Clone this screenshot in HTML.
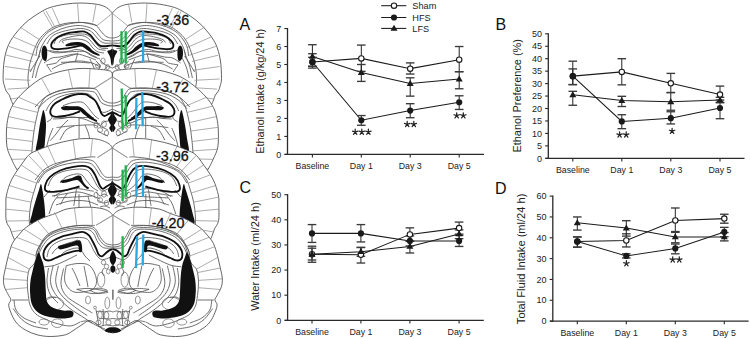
<!DOCTYPE html>
<html><head><meta charset="utf-8"><style>
html,body{margin:0;padding:0;background:#fff;overflow:hidden;width:750px;height:339px;}
svg{display:block;font-family:"Liberation Sans", sans-serif;}
</style></head><body>
<svg width="750" height="339" viewBox="0 0 750 339">
<rect width="750" height="339" fill="#fff"/>
<path d="M112.3,13.3 L112.2,13.2 L112.1,13.1 L112.0,13.0 L111.9,12.8 L111.8,12.7 L111.7,12.5 L111.5,12.3 L111.4,12.1 L111.2,11.9 L111.1,11.7 L110.9,11.5 L110.8,11.3 L110.6,11.1 L110.4,10.9 L110.2,10.7 L110.0,10.5 L109.8,10.3 L109.6,10.1 L109.4,9.9 L109.2,9.7 L109.0,9.5 L108.8,9.3 L108.5,9.2 L108.3,9.0 L108.1,8.8 L107.9,8.6 L107.6,8.4 L107.4,8.2 L107.1,8.0 L106.9,7.9 L106.6,7.7 L106.3,7.5 L106.0,7.3 L105.7,7.2 L105.4,7.0 L105.1,6.8 L104.8,6.7 L104.5,6.5 L104.1,6.3 L103.8,6.2 L103.4,6.1 L103.1,5.9 L102.7,5.8 L102.4,5.7 L102.0,5.5 L101.6,5.4 L101.2,5.3 L100.8,5.2 L100.4,5.1 L100.0,4.9 L99.6,4.8 L99.1,4.7 L98.7,4.6 L98.2,4.5 L97.7,4.4 L97.2,4.3 L96.7,4.3 L96.1,4.2 L95.6,4.1 L95.0,4.0 L94.4,3.9 L93.8,3.8 L93.1,3.8 L92.4,3.7 L91.7,3.6 L91.0,3.5 L90.2,3.5 L89.4,3.4 L88.7,3.3 L87.9,3.3 L87.1,3.2 L86.3,3.2 L85.5,3.1 L84.7,3.1 L83.9,3.1 L83.1,3.0 L82.3,3.0 L81.5,3.0 L80.8,3.0 L80.0,3.0 L79.2,3.0 L78.5,3.0 L77.8,3.0 L77.0,3.1 L76.2,3.1 L75.5,3.1 L74.8,3.2 L74.0,3.2 L73.2,3.3 L72.5,3.3 L71.8,3.4 L71.0,3.5 L70.2,3.5 L69.5,3.6 L68.8,3.7 L68.0,3.8 L67.2,3.9 L66.5,4.0 L65.8,4.1 L65.0,4.2 L64.2,4.3 L63.5,4.4 L62.7,4.6 L61.9,4.7 L61.1,4.8 L60.3,5.0 L59.6,5.1 L58.8,5.3 L58.0,5.4 L57.2,5.6 L56.4,5.8 L55.6,6.0 L54.9,6.1 L54.1,6.3 L53.4,6.5 L52.7,6.7 L52.0,6.9 L51.3,7.1 L50.6,7.3 L50.0,7.5 L49.4,7.7 L48.8,7.9 L48.2,8.1 L47.7,8.3 L47.2,8.6 L46.7,8.8 L46.2,9.0 L45.7,9.2 L45.3,9.5 L44.8,9.7 L44.3,10.0 L43.9,10.2 L43.4,10.5 L43.0,10.7 L42.5,11.0 L42.0,11.3 L41.5,11.6 L41.0,11.9 L40.5,12.2 L40.0,12.5 L39.5,12.8 L38.9,13.2 L38.3,13.5 L37.8,13.9 L37.2,14.2 L36.6,14.6 L36.0,14.9 L35.4,15.3 L34.8,15.7 L34.2,16.1 L33.6,16.5 L33.0,16.9 L32.4,17.3 L31.8,17.7 L31.2,18.2 L30.6,18.6 L30.0,19.0 L29.4,19.5 L28.9,19.9 L28.3,20.4 L27.7,20.9 L27.2,21.3 L26.6,21.8 L26.1,22.3 L25.5,22.8 L25.0,23.3 L24.4,23.8 L23.9,24.3 L23.4,24.8 L22.8,25.4 L22.3,25.9 L21.8,26.4 L21.2,27.0 L20.7,27.5 L20.2,28.1 L19.7,28.7 L19.2,29.2 L18.7,29.8 L18.2,30.4 L17.7,31.0 L17.2,31.6 L16.7,32.2 L16.2,32.8 L15.7,33.4 L15.3,34.1 L14.8,34.7 L14.3,35.3 L13.8,36.0 L13.3,36.6 L12.9,37.3 L12.4,37.9 L12.0,38.6 L11.5,39.3 L11.1,40.0 L10.7,40.7 L10.3,41.4 L9.9,42.1 L9.5,42.8 L9.1,43.5 L8.8,44.2 L8.5,44.9 L8.2,45.7 L7.9,46.4 L7.6,47.1 L7.3,47.9 L7.0,48.7 L6.8,49.4 L6.5,50.2 L6.3,51.0 L6.1,51.8 L5.9,52.6 L5.7,53.4 L5.5,54.2 L5.3,55.0 L5.1,55.8 L4.9,56.6 L4.8,57.5 L4.6,58.3 L4.4,59.1 L4.3,60.0 L4.2,60.9 L4.0,61.8 L3.9,62.7 L3.8,63.7 L3.7,64.7 L3.6,65.7 L3.5,66.7 L3.5,67.8 L3.4,68.8 L3.3,69.8 L3.3,70.8 L3.2,71.8 L3.2,72.8 L3.2,73.8 L3.1,74.7 L3.1,75.6 L3.1,76.4 L3.1,77.2 L3.1,77.9 L3.1,78.6 L3.1,79.2 L3.1,79.8 L3.2,80.3 L3.2,80.8 L3.3,81.3 L3.3,81.7 L3.4,82.1 L3.5,82.5 L3.5,82.8 L3.6,83.1 L3.7,83.5 L3.8,83.8 L3.9,84.0 L4.0,84.3 L4.1,84.6 L4.2,84.9 L4.2,85.1 L4.3,85.4 L4.4,85.7 L4.5,86.0 L4.6,86.3 L4.7,86.6 L4.7,86.9 L4.8,87.2 L4.9,87.4 L4.9,87.7 L5.0,88.0 L5.1,88.2 L5.2,88.5 L5.2,88.7 L5.3,88.9 L5.4,89.2 L5.5,89.4 L5.6,89.6 L5.7,89.9 L5.8,90.1 L5.9,90.3 L6.0,90.5 L6.1,90.8 L6.2,91.0 L6.3,91.2 L6.5,91.4 L6.6,91.7 L6.8,91.9 L6.9,92.1 L7.1,92.3 L7.2,92.5 L7.4,92.7 L7.6,92.9 L7.8,93.1 L7.9,93.3 L8.1,93.4 L8.3,93.6 L8.4,93.8 L8.6,94.0 L8.7,94.2 L8.9,94.5 L9.0,94.7 L9.2,94.9 L9.3,95.1 L9.4,95.3 L9.5,95.6 L9.6,95.8 L9.7,96.0 L9.8,96.2 L9.9,96.5 L9.9,96.7 L10.0,96.9 L10.1,97.2 L10.2,97.4 L10.2,97.7 L10.3,97.9 L10.4,98.2 L10.4,98.4 L10.5,98.7 L10.6,98.9 L10.7,99.2 L10.8,99.5 L10.9,99.7 L11.0,100.0 L11.1,100.3 L11.2,100.5 L11.4,100.8 L11.5,101.1 L11.6,101.4 L11.7,101.6 L11.8,101.9 L12.0,102.2 L12.1,102.5 L12.2,102.7 L12.4,103.0 L12.5,103.3 L12.7,103.6 L12.8,103.9 L13.0,104.3 L13.2,104.6 L13.4,104.9 L13.6,105.3 L13.8,105.6 L14.0,106.0 L14.2,106.4 L14.5,106.8 L14.8,107.3 L15.1,107.8 L15.4,108.2 L15.8,108.8 L16.1,109.3 L16.5,109.8 L16.8,110.3 L17.2,110.9 L17.5,111.4 L17.9,111.9 L18.2,112.4 L18.5,112.9 L18.9,113.3 L19.1,113.7 L19.4,114.1 L19.6,114.5 L19.8,114.7 L20.0,115.0 L20.0,125.0 L204.6,125.0 L204.6,115.0 L204.8,114.7 L205.0,114.5 L205.2,114.1 L205.5,113.7 L205.7,113.3 L206.1,112.9 L206.4,112.4 L206.7,111.9 L207.1,111.4 L207.4,110.9 L207.8,110.3 L208.1,109.8 L208.5,109.3 L208.8,108.8 L209.2,108.2 L209.5,107.8 L209.8,107.3 L210.1,106.8 L210.4,106.4 L210.6,106.0 L210.8,105.6 L211.0,105.3 L211.2,104.9 L211.4,104.6 L211.6,104.3 L211.8,103.9 L211.9,103.6 L212.1,103.3 L212.2,103.0 L212.4,102.7 L212.5,102.5 L212.6,102.2 L212.8,101.9 L212.9,101.6 L213.0,101.4 L213.1,101.1 L213.2,100.8 L213.4,100.5 L213.5,100.3 L213.6,100.0 L213.7,99.7 L213.8,99.5 L213.9,99.2 L214.0,98.9 L214.1,98.7 L214.2,98.4 L214.2,98.2 L214.3,97.9 L214.4,97.7 L214.4,97.4 L214.5,97.2 L214.6,96.9 L214.7,96.7 L214.7,96.5 L214.8,96.2 L214.9,96.0 L215.0,95.8 L215.1,95.6 L215.2,95.3 L215.3,95.1 L215.4,94.9 L215.6,94.7 L215.7,94.5 L215.9,94.2 L216.0,94.0 L216.2,93.8 L216.3,93.6 L216.5,93.4 L216.7,93.3 L216.8,93.1 L217.0,92.9 L217.2,92.7 L217.4,92.5 L217.5,92.3 L217.7,92.1 L217.8,91.9 L218.0,91.7 L218.1,91.4 L218.3,91.2 L218.4,91.0 L218.5,90.8 L218.6,90.5 L218.7,90.3 L218.8,90.1 L218.9,89.9 L219.0,89.6 L219.1,89.4 L219.2,89.2 L219.3,88.9 L219.4,88.7 L219.4,88.5 L219.5,88.2 L219.6,88.0 L219.7,87.7 L219.7,87.4 L219.8,87.2 L219.9,86.9 L219.9,86.6 L220.0,86.3 L220.1,86.0 L220.2,85.7 L220.3,85.4 L220.4,85.1 L220.4,84.9 L220.5,84.6 L220.6,84.3 L220.7,84.0 L220.8,83.8 L220.9,83.5 L221.0,83.1 L221.1,82.8 L221.1,82.5 L221.2,82.1 L221.3,81.7 L221.3,81.3 L221.4,80.8 L221.4,80.3 L221.5,79.8 L221.5,79.2 L221.5,78.6 L221.5,77.9 L221.5,77.2 L221.5,76.4 L221.5,75.6 L221.5,74.7 L221.4,73.8 L221.4,72.8 L221.4,71.8 L221.3,70.8 L221.3,69.8 L221.2,68.8 L221.1,67.8 L221.1,66.7 L221.0,65.7 L220.9,64.7 L220.8,63.7 L220.7,62.7 L220.6,61.8 L220.4,60.9 L220.3,60.0 L220.2,59.1 L220.0,58.3 L219.8,57.5 L219.7,56.6 L219.5,55.8 L219.3,55.0 L219.1,54.2 L218.9,53.4 L218.7,52.6 L218.5,51.8 L218.3,51.0 L218.1,50.2 L217.8,49.4 L217.6,48.7 L217.3,47.9 L217.0,47.1 L216.7,46.4 L216.4,45.7 L216.1,44.9 L215.8,44.2 L215.5,43.5 L215.1,42.8 L214.7,42.1 L214.3,41.4 L213.9,40.7 L213.5,40.0 L213.1,39.3 L212.6,38.6 L212.2,37.9 L211.7,37.3 L211.3,36.6 L210.8,36.0 L210.3,35.3 L209.8,34.7 L209.3,34.1 L208.9,33.4 L208.4,32.8 L207.9,32.2 L207.4,31.6 L206.9,31.0 L206.4,30.4 L205.9,29.8 L205.4,29.2 L204.9,28.7 L204.4,28.1 L203.9,27.5 L203.4,27.0 L202.8,26.4 L202.3,25.9 L201.8,25.4 L201.2,24.8 L200.7,24.3 L200.2,23.8 L199.6,23.3 L199.1,22.8 L198.5,22.3 L198.0,21.8 L197.4,21.3 L196.9,20.9 L196.3,20.4 L195.7,19.9 L195.2,19.5 L194.6,19.0 L194.0,18.6 L193.4,18.2 L192.8,17.7 L192.2,17.3 L191.6,16.9 L191.0,16.5 L190.4,16.1 L189.8,15.7 L189.2,15.3 L188.6,14.9 L188.0,14.6 L187.4,14.2 L186.8,13.9 L186.3,13.5 L185.7,13.2 L185.1,12.8 L184.6,12.5 L184.1,12.2 L183.6,11.9 L183.1,11.6 L182.6,11.3 L182.1,11.0 L181.6,10.7 L181.2,10.5 L180.7,10.2 L180.3,10.0 L179.8,9.7 L179.3,9.5 L178.9,9.2 L178.4,9.0 L177.9,8.8 L177.4,8.6 L176.9,8.3 L176.4,8.1 L175.8,7.9 L175.2,7.7 L174.6,7.5 L174.0,7.3 L173.3,7.1 L172.6,6.9 L171.9,6.7 L171.2,6.5 L170.5,6.3 L169.7,6.1 L169.0,6.0 L168.2,5.8 L167.4,5.6 L166.6,5.4 L165.8,5.3 L165.0,5.1 L164.3,5.0 L163.5,4.8 L162.7,4.7 L161.9,4.6 L161.1,4.4 L160.4,4.3 L159.6,4.2 L158.8,4.1 L158.1,4.0 L157.3,3.9 L156.6,3.8 L155.8,3.7 L155.1,3.6 L154.3,3.5 L153.6,3.5 L152.8,3.4 L152.1,3.3 L151.3,3.3 L150.6,3.2 L149.8,3.2 L149.1,3.1 L148.3,3.1 L147.6,3.1 L146.8,3.0 L146.1,3.0 L145.3,3.0 L144.6,3.0 L143.8,3.0 L143.1,3.0 L142.3,3.0 L141.5,3.0 L140.7,3.1 L139.9,3.1 L139.1,3.1 L138.3,3.2 L137.5,3.2 L136.7,3.3 L135.9,3.3 L135.2,3.4 L134.4,3.5 L133.6,3.5 L132.9,3.6 L132.2,3.7 L131.5,3.8 L130.8,3.8 L130.2,3.9 L129.6,4.0 L129.0,4.1 L128.5,4.2 L127.9,4.3 L127.4,4.3 L126.9,4.4 L126.4,4.5 L125.9,4.6 L125.5,4.7 L125.0,4.8 L124.6,4.9 L124.2,5.1 L123.8,5.2 L123.4,5.3 L123.0,5.4 L122.6,5.5 L122.2,5.7 L121.9,5.8 L121.5,5.9 L121.2,6.1 L120.8,6.2 L120.5,6.3 L120.1,6.5 L119.8,6.7 L119.5,6.8 L119.2,7.0 L118.9,7.2 L118.6,7.3 L118.3,7.5 L118.0,7.7 L117.7,7.9 L117.5,8.0 L117.2,8.2 L117.0,8.4 L116.7,8.6 L116.5,8.8 L116.3,9.0 L116.1,9.2 L115.8,9.3 L115.6,9.5 L115.4,9.7 L115.2,9.9 L115.0,10.1 L114.8,10.3 L114.6,10.5 L114.4,10.7 L114.2,10.9 L114.0,11.1 L113.8,11.3 L113.7,11.5 L113.5,11.7 L113.4,11.9 L113.2,12.1 L113.1,12.3 L112.9,12.5 L112.8,12.7 L112.7,12.8 L112.6,13.0 L112.5,13.1 L112.4,13.2 L112.3,13.3Z" fill="#fff" stroke="none"/>
<g><path d="M112.3,13.3 C111.8,12.7 110.6,10.9 109.2,9.7 C107.8,8.5 106.2,7.2 103.8,6.2 C101.4,5.2 99.0,4.5 95.0,4.0 C91.0,3.5 85.0,3.0 80.0,3.0 C75.0,3.0 70.0,3.5 65.0,4.2 C60.0,5.0 54.2,6.1 50.0,7.5 C45.8,8.9 43.6,10.3 40.0,12.5 C36.4,14.7 32.0,17.3 28.3,20.4 C24.6,23.5 20.9,27.0 17.7,31.0 C14.4,35.0 11.0,39.4 8.8,44.2 C6.6,49.0 5.2,54.3 4.3,60.0 C3.3,65.7 3.1,74.3 3.1,78.6 C3.1,82.9 4.0,83.9 4.5,86.0 C5.0,88.1 5.4,89.5 6.2,91.0 C7.0,92.5 8.5,93.6 9.3,95.1 C10.1,96.6 10.2,98.2 11.0,100.0 C11.8,101.8 12.5,103.5 14.0,106.0 C15.5,108.5 19.0,113.5 20.0,115.0" fill="none" stroke="#4a4a4a" stroke-width="0.85"/>
<path d="M97.0,25.5 C95.0,25.1 88.2,23.3 85.0,22.8 C81.8,22.3 80.8,22.4 78.0,22.4 C75.2,22.4 71.0,22.6 68.0,23.0 C65.0,23.4 62.8,23.9 60.0,24.8 C57.2,25.7 54.2,26.5 51.3,28.3 C48.4,30.1 45.0,32.8 42.5,35.4 C40.0,38.0 38.2,40.9 36.5,44.2 C34.8,47.5 33.7,51.5 32.5,55.0 C31.3,58.5 30.2,61.2 29.5,65.0 C28.8,68.8 28.1,74.3 28.0,78.0 C27.9,81.7 28.4,84.0 28.9,87.0 C29.4,90.0 30.0,93.2 31.0,96.0 C32.0,98.8 34.3,102.7 35.0,104.0" fill="none" stroke="#4a4a4a" stroke-width="0.8"/>
<path d="M43.4,11.4L53.6,29.1M46.0,10.8L55.5,27.9M52.3,8.2L60.5,26.6M77.6,3.8L78.9,22.8M96.0,4.4L92.8,22.2M112.3,13.3L97.0,25.7M112.3,13.3L112.3,50.0M20.0,27.0L40.0,40.0M13.8,37.1L37.7,47.6M8.8,46.4L35.2,55.2M6.3,55.2L32.7,61.5M5.0,66.5L31.4,70.3M5.0,79.0L30.2,80.3M7.5,89.1L28.9,87.8M11.0,99.0L31.0,96.0" fill="none" stroke="#888" stroke-width="0.7"/>
<ellipse cx="103" cy="61" rx="2.2" ry="3" fill="none" stroke="#666" stroke-width="0.7"/>
<ellipse cx="107.5" cy="67" rx="2" ry="2.5" fill="none" stroke="#666" stroke-width="0.7"/>
<ellipse cx="98" cy="66" rx="2.5" ry="2" fill="none" stroke="#666" stroke-width="0.7"/>
<path d="M36.0,56.0 C36.3,54.3 36.5,49.1 38.0,45.6 C39.5,42.1 42.6,37.8 45.1,35.0 C47.6,32.2 50.1,30.8 53.3,29.1 C56.4,27.4 59.9,26.1 64.0,25.0 C68.1,23.9 73.8,22.9 78.0,22.6 C82.2,22.3 86.2,22.7 89.2,23.2 C92.2,23.7 94.2,24.1 96.2,25.5 C98.2,26.9 99.4,29.6 101.0,31.4 C102.6,33.2 104.1,35.1 105.7,36.2 C107.3,37.3 109.3,37.6 110.4,37.9 C111.5,38.2 112.0,37.9 112.3,37.9" fill="none" stroke="#555" stroke-width="0.85"/>
<path d="M39.0,57.0 C39.3,55.5 39.6,51.3 41.0,48.0 C42.4,44.7 44.9,40.1 47.4,37.3 C49.9,34.5 52.6,33.1 55.7,31.4 C58.9,29.7 62.6,28.3 66.3,27.3 C70.0,26.3 74.6,25.6 78.0,25.5 C81.4,25.4 84.1,26.0 86.8,26.7 C89.5,27.4 91.9,28.3 93.9,29.7 C95.9,31.1 97.0,33.3 98.6,35.0 C100.2,36.7 101.3,38.7 103.3,39.7 C105.3,40.7 108.9,40.7 110.4,40.9 C111.9,41.1 112.0,40.9 112.3,40.9" fill="none" stroke="#555" stroke-width="0.85"/>
<path d="M47.0,44.0 C47.9,42.7 49.8,38.2 52.2,36.2 C54.6,34.2 57.3,33.1 61.6,31.8 C65.9,30.5 73.8,29.0 78.0,28.6 C82.2,28.2 84.5,28.8 87.0,29.5 C89.5,30.2 91.2,31.4 93.0,33.0 C94.8,34.6 96.2,37.3 98.0,39.0 C99.8,40.7 101.6,42.3 104.0,43.0 C106.4,43.7 110.9,43.0 112.3,43.0" fill="none" stroke="#555" stroke-width="0.85"/>
<path d="M59.2,42.6 C59.6,42.1 60.0,40.6 61.6,39.7 C63.2,38.8 66.0,38.0 68.7,37.3 C71.4,36.6 75.4,35.8 78.0,35.6 C80.6,35.4 82.4,35.5 84.4,36.2 C86.4,36.9 88.4,38.5 90.0,40.0 C91.6,41.5 92.6,43.5 94.0,45.0 C95.4,46.5 96.6,48.2 98.6,49.1 C100.5,50.0 104.5,50.1 105.7,50.3" fill="none" stroke="#555" stroke-width="0.85"/>
<path d="M64.0,43.0 C63.7,42.8 61.7,42.0 62.0,41.5 C62.3,41.0 64.0,40.2 66.0,39.8 C68.0,39.4 71.3,39.0 74.0,39.0 C76.7,39.0 79.7,39.0 82.0,39.5 C84.3,40.0 86.3,40.8 88.0,42.0 C89.7,43.2 90.5,45.4 92.0,47.0 C93.5,48.6 95.0,50.5 97.0,51.5 C99.0,52.5 102.8,52.8 104.0,53.0" fill="none" stroke="#555" stroke-width="0.85"/>
<path d="M54.0,44.0 C54.5,43.1 55.0,40.0 57.0,38.5 C59.0,37.0 62.5,35.8 66.0,35.0 C69.5,34.2 74.7,34.1 78.0,34.0 C81.3,33.9 83.7,33.8 86.0,34.5 C88.3,35.2 90.3,37.0 92.0,38.5 C93.7,40.0 94.5,41.9 96.0,43.5 C97.5,45.1 99.0,47.2 101.0,48.0 C103.0,48.8 106.8,48.4 108.0,48.5" fill="none" stroke="#555" stroke-width="0.85"/>
<path d="M49.4,50.5 C50.5,50.7 53.8,51.3 56.0,51.5 C58.2,51.7 60.4,52.0 62.7,51.9 C65.0,51.8 67.8,51.4 70.0,51.0 C72.2,50.6 73.7,49.5 76.0,49.5 C78.3,49.5 81.3,49.9 84.0,51.0 C86.7,52.1 89.3,54.7 92.0,56.0 C94.7,57.3 98.7,58.5 100.0,59.0" fill="none" stroke="#555" stroke-width="0.85"/>
<path d="M44.0,63.0 C45.3,62.2 49.3,59.0 52.0,58.0 C54.7,57.0 56.0,57.7 60.0,57.0 C64.0,56.3 71.3,54.0 76.0,54.0 C80.7,54.0 84.7,56.0 88.0,57.0 C91.3,58.0 94.7,59.5 96.0,60.0" fill="none" stroke="#555" stroke-width="0.85"/>
<path d="M52.0,69.0 C53.7,68.2 57.7,65.3 62.0,64.0 C66.3,62.7 73.0,61.2 78.0,61.0 C83.0,60.8 88.3,62.0 92.0,63.0 C95.7,64.0 98.7,66.3 100.0,67.0" fill="none" stroke="#555" stroke-width="0.85"/>
<path d="M30.0,72.0 C31.0,70.3 34.3,64.7 36.0,62.0 C37.7,59.3 39.3,57.0 40.0,56.0" fill="none" stroke="#555" stroke-width="0.85"/>
<path d="M96.0,61.0 C96.7,61.8 99.7,64.3 100.0,66.0 C100.3,67.7 98.3,70.2 98.0,71.0" fill="none" stroke="#555" stroke-width="0.85"/>
<path d="M32.2,78.0 C32.7,76.0 34.0,69.3 35.0,66.0 C36.0,62.7 37.1,60.7 38.0,58.0 C38.9,55.3 40.2,51.3 40.6,50.0" fill="none" stroke="#555" stroke-width="0.85"/>
<path d="M35.5,78.0 C35.9,76.3 37.1,70.8 38.0,68.0 C38.9,65.2 40.2,62.8 41.0,61.0 C41.8,59.2 42.7,57.7 43.0,57.0" fill="none" stroke="#555" stroke-width="0.85"/>
<path d="M45.4,49.2 C47.0,49.8 50.4,52.4 55.0,52.8 C59.6,53.2 68.0,51.8 73.0,51.6 C78.0,51.4 81.8,51.0 85.0,51.6 C88.2,52.2 90.2,54.2 92.2,55.2 C94.2,56.2 96.2,57.2 97.0,57.6" fill="none" stroke="#555" stroke-width="0.85"/>
<path d="M46.6,64.8 C48.2,64.5 53.8,64.0 56.2,63.0 C58.6,62.0 57.6,60.3 61.0,58.8 C64.4,57.3 74.0,54.8 76.6,54.0" fill="none" stroke="#555" stroke-width="0.85"/>
<path d="M77.8,52.8 C77.4,54.3 75.8,60.3 75.4,61.8" fill="none" stroke="#555" stroke-width="0.85"/>
<path d="M61.0,62.4 C63.3,62.3 70.2,61.9 75.0,62.0 C79.8,62.1 87.3,62.8 89.8,63.0" fill="none" stroke="#555" stroke-width="0.85"/>
<path d="M46.6,64.8 C47.4,66.0 50.6,70.8 51.4,72.0" fill="none" stroke="#555" stroke-width="0.85"/>
<path d="M89.8,58.8 C90.5,60.3 92.8,64.8 94.0,68.0 C95.2,71.2 96.5,76.3 97.0,78.0" fill="none" stroke="#555" stroke-width="0.85"/>
<path d="M100.0,60.0 C100.7,60.7 102.7,63.0 104.0,64.0 C105.3,65.0 107.2,65.7 107.8,66.0" fill="none" stroke="#555" stroke-width="0.85"/>
<path d="M107.8,66.0 C107.2,66.7 105.3,68.3 104.0,70.0 C102.7,71.7 100.7,75.0 100.0,76.0" fill="none" stroke="#555" stroke-width="0.85"/>
<path d="M107.8,66.0 C108.5,66.3 111.5,67.7 112.3,68.0" fill="none" stroke="#555" stroke-width="0.85"/>
<path d="M112.3,45.3 C112.0,45.3 111.5,45.5 110.4,45.6 C109.3,45.8 107.5,46.2 105.7,46.2 C103.9,46.2 101.6,46.5 99.8,45.6 C98.0,44.7 96.6,42.7 95.0,40.9 C93.4,39.1 92.1,36.5 90.3,35.0 C88.5,33.5 86.8,32.1 84.4,31.6 C82.0,31.1 78.9,31.7 76.0,32.0 C73.1,32.3 70.0,32.5 67.1,33.3 C64.1,34.1 60.6,35.5 58.3,36.8 C55.9,38.1 54.2,40.0 53.0,41.3 C51.8,42.6 51.4,43.7 51.2,44.8 C51.1,45.9 51.2,47.2 52.1,47.9 C53.0,48.6 54.0,49.1 56.5,49.2 C59.0,49.3 63.8,48.8 67.1,48.4 C70.3,48.0 73.5,47.1 76.0,46.6 C78.5,46.1 81.0,45.5 82.0,45.3" fill="none" stroke="#111" stroke-width="1.85"/>
<path d="M66.0,44.5 C66.8,43.9 69.2,42.9 71.0,42.5 C72.8,42.1 75.0,41.9 77.0,42.0 C79.0,42.1 81.2,42.3 83.0,43.0 C84.8,43.7 86.3,44.7 88.0,46.0 C89.7,47.3 91.2,49.4 93.0,50.8 C94.8,52.2 98.0,53.5 99.0,54.3 C100.0,55.1 100.1,55.9 99.0,55.8 C97.9,55.6 94.5,54.4 92.5,53.4 C90.5,52.4 88.8,51.1 87.0,50.0 C85.2,48.9 83.8,47.3 82.0,46.6 C80.2,45.9 78.0,45.7 76.0,45.6 C74.0,45.5 71.7,45.9 70.0,46.0 C68.3,46.1 66.7,46.5 66.0,46.2 C65.3,46.0 65.2,45.1 66.0,44.5Z" fill="#111" stroke="none"/>
<path d="M44.5,45.5 C45.2,45.6 46.1,46.8 46.6,48.0 C47.1,49.2 47.2,51.2 47.2,53.0 C47.2,54.8 47.1,57.2 46.8,58.5 C46.5,59.8 46.0,60.8 45.5,61.0 C45.0,61.2 44.1,60.7 43.5,60.0 C42.9,59.3 42.3,58.3 42.0,57.0 C41.7,55.7 41.5,53.6 41.6,52.0 C41.7,50.4 42.0,48.6 42.5,47.5 C43.0,46.4 43.8,45.4 44.5,45.5Z" fill="#111" stroke="none"/>
<path d="M107.3,51.2 C107.4,50.3 109.2,50.4 110.0,50.2 C110.8,50.0 111.9,47.6 112.3,50.0 C112.7,52.4 112.5,62.2 112.3,64.5 C112.1,66.8 111.5,64.9 111.2,64.0 C110.9,63.1 110.9,60.4 110.6,59.0 C110.3,57.6 110.0,56.8 109.5,55.5 C109.0,54.2 107.2,52.1 107.3,51.2Z" fill="#111" stroke="none"/></g>
<g transform="translate(224.60,0) scale(-1,1)"><path d="M112.3,13.3 C111.8,12.7 110.6,10.9 109.2,9.7 C107.8,8.5 106.2,7.2 103.8,6.2 C101.4,5.2 99.0,4.5 95.0,4.0 C91.0,3.5 85.0,3.0 80.0,3.0 C75.0,3.0 70.0,3.5 65.0,4.2 C60.0,5.0 54.2,6.1 50.0,7.5 C45.8,8.9 43.6,10.3 40.0,12.5 C36.4,14.7 32.0,17.3 28.3,20.4 C24.6,23.5 20.9,27.0 17.7,31.0 C14.4,35.0 11.0,39.4 8.8,44.2 C6.6,49.0 5.2,54.3 4.3,60.0 C3.3,65.7 3.1,74.3 3.1,78.6 C3.1,82.9 4.0,83.9 4.5,86.0 C5.0,88.1 5.4,89.5 6.2,91.0 C7.0,92.5 8.5,93.6 9.3,95.1 C10.1,96.6 10.2,98.2 11.0,100.0 C11.8,101.8 12.5,103.5 14.0,106.0 C15.5,108.5 19.0,113.5 20.0,115.0" fill="none" stroke="#4a4a4a" stroke-width="0.85"/>
<path d="M97.0,25.5 C95.0,25.1 88.2,23.3 85.0,22.8 C81.8,22.3 80.8,22.4 78.0,22.4 C75.2,22.4 71.0,22.6 68.0,23.0 C65.0,23.4 62.8,23.9 60.0,24.8 C57.2,25.7 54.2,26.5 51.3,28.3 C48.4,30.1 45.0,32.8 42.5,35.4 C40.0,38.0 38.2,40.9 36.5,44.2 C34.8,47.5 33.7,51.5 32.5,55.0 C31.3,58.5 30.2,61.2 29.5,65.0 C28.8,68.8 28.1,74.3 28.0,78.0 C27.9,81.7 28.4,84.0 28.9,87.0 C29.4,90.0 30.0,93.2 31.0,96.0 C32.0,98.8 34.3,102.7 35.0,104.0" fill="none" stroke="#4a4a4a" stroke-width="0.8"/>
<path d="M43.4,11.4L53.6,29.1M46.0,10.8L55.5,27.9M52.3,8.2L60.5,26.6M77.6,3.8L78.9,22.8M96.0,4.4L92.8,22.2M112.3,13.3L97.0,25.7M112.3,13.3L112.3,50.0M20.0,27.0L40.0,40.0M13.8,37.1L37.7,47.6M8.8,46.4L35.2,55.2M6.3,55.2L32.7,61.5M5.0,66.5L31.4,70.3M5.0,79.0L30.2,80.3M7.5,89.1L28.9,87.8M11.0,99.0L31.0,96.0" fill="none" stroke="#888" stroke-width="0.7"/>
<ellipse cx="103" cy="61" rx="2.2" ry="3" fill="none" stroke="#666" stroke-width="0.7"/>
<ellipse cx="107.5" cy="67" rx="2" ry="2.5" fill="none" stroke="#666" stroke-width="0.7"/>
<ellipse cx="98" cy="66" rx="2.5" ry="2" fill="none" stroke="#666" stroke-width="0.7"/>
<path d="M36.0,56.0 C36.3,54.3 36.5,49.1 38.0,45.6 C39.5,42.1 42.6,37.8 45.1,35.0 C47.6,32.2 50.1,30.8 53.3,29.1 C56.4,27.4 59.9,26.1 64.0,25.0 C68.1,23.9 73.8,22.9 78.0,22.6 C82.2,22.3 86.2,22.7 89.2,23.2 C92.2,23.7 94.2,24.1 96.2,25.5 C98.2,26.9 99.4,29.6 101.0,31.4 C102.6,33.2 104.1,35.1 105.7,36.2 C107.3,37.3 109.3,37.6 110.4,37.9 C111.5,38.2 112.0,37.9 112.3,37.9" fill="none" stroke="#555" stroke-width="0.85"/>
<path d="M39.0,57.0 C39.3,55.5 39.6,51.3 41.0,48.0 C42.4,44.7 44.9,40.1 47.4,37.3 C49.9,34.5 52.6,33.1 55.7,31.4 C58.9,29.7 62.6,28.3 66.3,27.3 C70.0,26.3 74.6,25.6 78.0,25.5 C81.4,25.4 84.1,26.0 86.8,26.7 C89.5,27.4 91.9,28.3 93.9,29.7 C95.9,31.1 97.0,33.3 98.6,35.0 C100.2,36.7 101.3,38.7 103.3,39.7 C105.3,40.7 108.9,40.7 110.4,40.9 C111.9,41.1 112.0,40.9 112.3,40.9" fill="none" stroke="#555" stroke-width="0.85"/>
<path d="M47.0,44.0 C47.9,42.7 49.8,38.2 52.2,36.2 C54.6,34.2 57.3,33.1 61.6,31.8 C65.9,30.5 73.8,29.0 78.0,28.6 C82.2,28.2 84.5,28.8 87.0,29.5 C89.5,30.2 91.2,31.4 93.0,33.0 C94.8,34.6 96.2,37.3 98.0,39.0 C99.8,40.7 101.6,42.3 104.0,43.0 C106.4,43.7 110.9,43.0 112.3,43.0" fill="none" stroke="#555" stroke-width="0.85"/>
<path d="M59.2,42.6 C59.6,42.1 60.0,40.6 61.6,39.7 C63.2,38.8 66.0,38.0 68.7,37.3 C71.4,36.6 75.4,35.8 78.0,35.6 C80.6,35.4 82.4,35.5 84.4,36.2 C86.4,36.9 88.4,38.5 90.0,40.0 C91.6,41.5 92.6,43.5 94.0,45.0 C95.4,46.5 96.6,48.2 98.6,49.1 C100.5,50.0 104.5,50.1 105.7,50.3" fill="none" stroke="#555" stroke-width="0.85"/>
<path d="M64.0,43.0 C63.7,42.8 61.7,42.0 62.0,41.5 C62.3,41.0 64.0,40.2 66.0,39.8 C68.0,39.4 71.3,39.0 74.0,39.0 C76.7,39.0 79.7,39.0 82.0,39.5 C84.3,40.0 86.3,40.8 88.0,42.0 C89.7,43.2 90.5,45.4 92.0,47.0 C93.5,48.6 95.0,50.5 97.0,51.5 C99.0,52.5 102.8,52.8 104.0,53.0" fill="none" stroke="#555" stroke-width="0.85"/>
<path d="M54.0,44.0 C54.5,43.1 55.0,40.0 57.0,38.5 C59.0,37.0 62.5,35.8 66.0,35.0 C69.5,34.2 74.7,34.1 78.0,34.0 C81.3,33.9 83.7,33.8 86.0,34.5 C88.3,35.2 90.3,37.0 92.0,38.5 C93.7,40.0 94.5,41.9 96.0,43.5 C97.5,45.1 99.0,47.2 101.0,48.0 C103.0,48.8 106.8,48.4 108.0,48.5" fill="none" stroke="#555" stroke-width="0.85"/>
<path d="M49.4,50.5 C50.5,50.7 53.8,51.3 56.0,51.5 C58.2,51.7 60.4,52.0 62.7,51.9 C65.0,51.8 67.8,51.4 70.0,51.0 C72.2,50.6 73.7,49.5 76.0,49.5 C78.3,49.5 81.3,49.9 84.0,51.0 C86.7,52.1 89.3,54.7 92.0,56.0 C94.7,57.3 98.7,58.5 100.0,59.0" fill="none" stroke="#555" stroke-width="0.85"/>
<path d="M44.0,63.0 C45.3,62.2 49.3,59.0 52.0,58.0 C54.7,57.0 56.0,57.7 60.0,57.0 C64.0,56.3 71.3,54.0 76.0,54.0 C80.7,54.0 84.7,56.0 88.0,57.0 C91.3,58.0 94.7,59.5 96.0,60.0" fill="none" stroke="#555" stroke-width="0.85"/>
<path d="M52.0,69.0 C53.7,68.2 57.7,65.3 62.0,64.0 C66.3,62.7 73.0,61.2 78.0,61.0 C83.0,60.8 88.3,62.0 92.0,63.0 C95.7,64.0 98.7,66.3 100.0,67.0" fill="none" stroke="#555" stroke-width="0.85"/>
<path d="M30.0,72.0 C31.0,70.3 34.3,64.7 36.0,62.0 C37.7,59.3 39.3,57.0 40.0,56.0" fill="none" stroke="#555" stroke-width="0.85"/>
<path d="M96.0,61.0 C96.7,61.8 99.7,64.3 100.0,66.0 C100.3,67.7 98.3,70.2 98.0,71.0" fill="none" stroke="#555" stroke-width="0.85"/>
<path d="M32.2,78.0 C32.7,76.0 34.0,69.3 35.0,66.0 C36.0,62.7 37.1,60.7 38.0,58.0 C38.9,55.3 40.2,51.3 40.6,50.0" fill="none" stroke="#555" stroke-width="0.85"/>
<path d="M35.5,78.0 C35.9,76.3 37.1,70.8 38.0,68.0 C38.9,65.2 40.2,62.8 41.0,61.0 C41.8,59.2 42.7,57.7 43.0,57.0" fill="none" stroke="#555" stroke-width="0.85"/>
<path d="M45.4,49.2 C47.0,49.8 50.4,52.4 55.0,52.8 C59.6,53.2 68.0,51.8 73.0,51.6 C78.0,51.4 81.8,51.0 85.0,51.6 C88.2,52.2 90.2,54.2 92.2,55.2 C94.2,56.2 96.2,57.2 97.0,57.6" fill="none" stroke="#555" stroke-width="0.85"/>
<path d="M46.6,64.8 C48.2,64.5 53.8,64.0 56.2,63.0 C58.6,62.0 57.6,60.3 61.0,58.8 C64.4,57.3 74.0,54.8 76.6,54.0" fill="none" stroke="#555" stroke-width="0.85"/>
<path d="M77.8,52.8 C77.4,54.3 75.8,60.3 75.4,61.8" fill="none" stroke="#555" stroke-width="0.85"/>
<path d="M61.0,62.4 C63.3,62.3 70.2,61.9 75.0,62.0 C79.8,62.1 87.3,62.8 89.8,63.0" fill="none" stroke="#555" stroke-width="0.85"/>
<path d="M46.6,64.8 C47.4,66.0 50.6,70.8 51.4,72.0" fill="none" stroke="#555" stroke-width="0.85"/>
<path d="M89.8,58.8 C90.5,60.3 92.8,64.8 94.0,68.0 C95.2,71.2 96.5,76.3 97.0,78.0" fill="none" stroke="#555" stroke-width="0.85"/>
<path d="M100.0,60.0 C100.7,60.7 102.7,63.0 104.0,64.0 C105.3,65.0 107.2,65.7 107.8,66.0" fill="none" stroke="#555" stroke-width="0.85"/>
<path d="M107.8,66.0 C107.2,66.7 105.3,68.3 104.0,70.0 C102.7,71.7 100.7,75.0 100.0,76.0" fill="none" stroke="#555" stroke-width="0.85"/>
<path d="M107.8,66.0 C108.5,66.3 111.5,67.7 112.3,68.0" fill="none" stroke="#555" stroke-width="0.85"/>
<path d="M112.3,45.3 C112.0,45.3 111.5,45.5 110.4,45.6 C109.3,45.8 107.5,46.2 105.7,46.2 C103.9,46.2 101.6,46.5 99.8,45.6 C98.0,44.7 96.6,42.7 95.0,40.9 C93.4,39.1 92.1,36.5 90.3,35.0 C88.5,33.5 86.8,32.1 84.4,31.6 C82.0,31.1 78.9,31.7 76.0,32.0 C73.1,32.3 70.0,32.5 67.1,33.3 C64.1,34.1 60.6,35.5 58.3,36.8 C55.9,38.1 54.2,40.0 53.0,41.3 C51.8,42.6 51.4,43.7 51.2,44.8 C51.1,45.9 51.2,47.2 52.1,47.9 C53.0,48.6 54.0,49.1 56.5,49.2 C59.0,49.3 63.8,48.8 67.1,48.4 C70.3,48.0 73.5,47.1 76.0,46.6 C78.5,46.1 81.0,45.5 82.0,45.3" fill="none" stroke="#111" stroke-width="1.85"/>
<path d="M66.0,44.5 C66.8,43.9 69.2,42.9 71.0,42.5 C72.8,42.1 75.0,41.9 77.0,42.0 C79.0,42.1 81.2,42.3 83.0,43.0 C84.8,43.7 86.3,44.7 88.0,46.0 C89.7,47.3 91.2,49.4 93.0,50.8 C94.8,52.2 98.0,53.5 99.0,54.3 C100.0,55.1 100.1,55.9 99.0,55.8 C97.9,55.6 94.5,54.4 92.5,53.4 C90.5,52.4 88.8,51.1 87.0,50.0 C85.2,48.9 83.8,47.3 82.0,46.6 C80.2,45.9 78.0,45.7 76.0,45.6 C74.0,45.5 71.7,45.9 70.0,46.0 C68.3,46.1 66.7,46.5 66.0,46.2 C65.3,46.0 65.2,45.1 66.0,44.5Z" fill="#111" stroke="none"/>
<path d="M44.5,45.5 C45.2,45.6 46.1,46.8 46.6,48.0 C47.1,49.2 47.2,51.2 47.2,53.0 C47.2,54.8 47.1,57.2 46.8,58.5 C46.5,59.8 46.0,60.8 45.5,61.0 C45.0,61.2 44.1,60.7 43.5,60.0 C42.9,59.3 42.3,58.3 42.0,57.0 C41.7,55.7 41.5,53.6 41.6,52.0 C41.7,50.4 42.0,48.6 42.5,47.5 C43.0,46.4 43.8,45.4 44.5,45.5Z" fill="#111" stroke="none"/>
<path d="M107.3,51.2 C107.4,50.3 109.2,50.4 110.0,50.2 C110.8,50.0 111.9,47.6 112.3,50.0 C112.7,52.4 112.5,62.2 112.3,64.5 C112.1,66.8 111.5,64.9 111.2,64.0 C110.9,63.1 110.9,60.4 110.6,59.0 C110.3,57.6 110.0,56.8 109.5,55.5 C109.0,54.2 107.2,52.1 107.3,51.2Z" fill="#111" stroke="none"/></g>
<line x1="121.5" y1="31.2" x2="121.5" y2="63.3" stroke="#1fb04b" stroke-width="2.3"/>
<line x1="125.7" y1="31.2" x2="125.7" y2="63.3" stroke="#1fb04b" stroke-width="2.3"/>
<line x1="143.1" y1="30.9" x2="143.1" y2="62.1" stroke="#2aa8e2" stroke-width="2.3"/>
<text x="156.6" y="24.6" font-size="14.3" fill="#111" stroke="#111" stroke-width="0.3">-3.36</text>
<path d="M112.6,76.8 L112.6,76.7 L112.6,76.5 L112.5,76.3 L112.5,76.1 L112.5,75.9 L112.5,75.6 L112.5,75.4 L112.4,75.1 L112.4,74.8 L112.4,74.5 L112.4,74.2 L112.3,73.9 L112.3,73.6 L112.2,73.4 L112.1,73.1 L112.0,72.8 L112.0,72.6 L111.9,72.4 L111.7,72.2 L111.6,72.0 L111.5,71.8 L111.3,71.7 L111.1,71.6 L110.9,71.4 L110.7,71.3 L110.5,71.2 L110.3,71.1 L110.0,71.0 L109.8,71.0 L109.5,70.9 L109.3,70.8 L109.0,70.8 L108.8,70.7 L108.5,70.6 L108.3,70.6 L108.0,70.5 L107.7,70.5 L107.5,70.4 L107.2,70.4 L107.0,70.3 L106.8,70.2 L106.5,70.2 L106.3,70.1 L106.1,70.1 L105.9,70.1 L105.7,70.0 L105.6,70.0 L105.4,70.0 L105.2,69.9 L105.0,69.9 L104.7,69.9 L104.5,69.9 L104.3,69.8 L104.0,69.8 L103.8,69.8 L103.5,69.7 L103.1,69.7 L102.8,69.7 L102.4,69.6 L102.0,69.6 L101.6,69.6 L101.1,69.5 L100.6,69.5 L100.0,69.4 L99.5,69.3 L98.9,69.3 L98.3,69.2 L97.7,69.2 L97.1,69.1 L96.4,69.1 L95.8,69.0 L95.1,68.9 L94.5,68.9 L93.8,68.8 L93.2,68.8 L92.5,68.7 L91.9,68.7 L91.2,68.7 L90.6,68.6 L90.0,68.6 L89.4,68.6 L88.8,68.6 L88.2,68.5 L87.6,68.5 L87.0,68.5 L86.4,68.5 L85.8,68.5 L85.2,68.5 L84.6,68.4 L84.0,68.4 L83.4,68.4 L82.8,68.4 L82.2,68.4 L81.6,68.5 L81.0,68.5 L80.4,68.5 L79.8,68.5 L79.2,68.5 L78.6,68.6 L78.0,68.6 L77.4,68.6 L76.8,68.7 L76.2,68.7 L75.6,68.8 L75.0,68.9 L74.4,68.9 L73.8,69.0 L73.2,69.1 L72.6,69.1 L72.0,69.2 L71.4,69.3 L70.8,69.4 L70.2,69.5 L69.6,69.6 L69.0,69.7 L68.4,69.8 L67.8,69.9 L67.2,70.0 L66.6,70.1 L66.0,70.2 L65.4,70.3 L64.8,70.4 L64.2,70.6 L63.6,70.7 L63.0,70.8 L62.4,70.9 L61.8,71.1 L61.2,71.2 L60.6,71.4 L60.0,71.5 L59.4,71.6 L58.8,71.8 L58.2,72.0 L57.6,72.1 L57.0,72.3 L56.4,72.5 L55.8,72.6 L55.2,72.8 L54.6,73.0 L54.0,73.2 L53.4,73.4 L52.8,73.6 L52.2,73.8 L51.6,74.0 L51.0,74.2 L50.4,74.4 L49.8,74.6 L49.2,74.8 L48.6,75.0 L48.0,75.3 L47.4,75.5 L46.8,75.7 L46.2,76.0 L45.6,76.2 L45.0,76.5 L44.4,76.8 L43.8,77.1 L43.2,77.4 L42.6,77.7 L42.0,78.0 L41.4,78.3 L40.8,78.7 L40.2,79.0 L39.6,79.4 L39.0,79.8 L38.4,80.2 L37.8,80.6 L37.2,81.0 L36.6,81.4 L36.0,81.8 L35.4,82.3 L34.8,82.7 L34.2,83.1 L33.6,83.6 L33.0,84.0 L32.4,84.5 L31.8,85.0 L31.2,85.4 L30.6,85.9 L30.0,86.4 L29.4,86.9 L28.8,87.4 L28.2,87.9 L27.6,88.4 L27.0,88.9 L26.4,89.5 L25.8,90.0 L25.2,90.6 L24.6,91.1 L24.0,91.7 L23.4,92.2 L22.8,92.8 L22.3,93.4 L21.7,93.9 L21.1,94.5 L20.6,95.0 L20.1,95.6 L19.6,96.1 L19.1,96.7 L18.6,97.2 L18.1,97.7 L17.7,98.2 L17.3,98.8 L16.8,99.3 L16.4,99.8 L16.0,100.3 L15.6,100.8 L15.2,101.3 L14.9,101.9 L14.5,102.4 L14.1,102.9 L13.8,103.4 L13.5,103.9 L13.1,104.4 L12.8,104.9 L12.5,105.4 L12.2,105.9 L11.9,106.5 L11.7,107.0 L11.4,107.5 L11.1,108.0 L10.9,108.5 L10.7,109.0 L10.4,109.6 L10.2,110.1 L10.0,110.6 L9.9,111.1 L9.7,111.6 L9.5,112.1 L9.3,112.6 L9.2,113.2 L9.0,113.7 L8.9,114.2 L8.8,114.7 L8.6,115.3 L8.5,115.8 L8.4,116.3 L8.2,116.9 L8.1,117.4 L8.0,118.0 L7.9,118.6 L7.8,119.1 L7.7,119.7 L7.5,120.2 L7.4,120.8 L7.3,121.3 L7.3,121.9 L7.2,122.5 L7.1,123.0 L7.0,123.6 L6.9,124.2 L6.9,124.8 L6.8,125.4 L6.7,126.0 L6.7,126.6 L6.6,127.3 L6.6,127.9 L6.6,128.6 L6.5,129.3 L6.5,130.0 L6.5,130.7 L6.5,131.5 L6.4,132.3 L6.4,133.2 L6.4,134.0 L6.4,134.9 L6.4,135.8 L6.4,136.7 L6.4,137.6 L6.4,138.5 L6.4,139.4 L6.4,140.3 L6.4,141.2 L6.5,142.1 L6.5,143.0 L6.6,143.8 L6.7,144.7 L6.8,145.5 L6.9,146.3 L7.0,147.0 L7.1,147.7 L7.3,148.4 L7.5,149.1 L7.6,149.8 L7.8,150.4 L8.1,151.1 L8.3,151.7 L8.5,152.3 L8.8,152.9 L9.0,153.5 L9.3,154.1 L9.5,154.7 L9.8,155.2 L10.0,155.8 L10.3,156.3 L10.5,156.9 L10.8,157.4 L11.0,157.9 L11.3,158.5 L11.5,159.0 L11.7,159.5 L11.9,160.0 L12.2,160.5 L12.4,161.0 L12.6,161.4 L12.8,161.9 L13.0,162.3 L13.2,162.8 L13.4,163.2 L13.7,163.6 L13.9,164.0 L14.1,164.5 L14.3,164.9 L14.5,165.3 L14.8,165.8 L15.0,166.2 L15.2,166.6 L15.5,167.1 L15.7,167.5 L16.0,168.0 L16.3,168.5 L16.6,169.0 L16.9,169.5 L17.2,170.1 L17.5,170.7 L17.9,171.2 L18.2,171.8 L18.6,172.4 L18.9,173.0 L19.3,173.6 L19.6,174.1 L20.0,174.7 L20.3,175.2 L20.6,175.7 L20.9,176.2 L21.2,176.6 L21.4,177.0 L21.6,177.4 L21.8,177.7 L22.0,178.0 L22.0,195.0 L202.8,195.0 L202.8,178.0 L203.0,177.7 L203.2,177.4 L203.4,177.0 L203.6,176.6 L203.9,176.2 L204.2,175.7 L204.5,175.2 L204.8,174.7 L205.2,174.1 L205.5,173.6 L205.9,173.0 L206.2,172.4 L206.6,171.8 L206.9,171.2 L207.3,170.7 L207.6,170.1 L207.9,169.5 L208.2,169.0 L208.5,168.5 L208.8,168.0 L209.1,167.5 L209.3,167.1 L209.6,166.6 L209.8,166.2 L210.0,165.8 L210.3,165.3 L210.5,164.9 L210.7,164.5 L210.9,164.0 L211.1,163.6 L211.4,163.2 L211.6,162.8 L211.8,162.3 L212.0,161.9 L212.2,161.4 L212.4,161.0 L212.6,160.5 L212.9,160.0 L213.1,159.5 L213.3,159.0 L213.5,158.5 L213.8,157.9 L214.0,157.4 L214.3,156.9 L214.5,156.3 L214.8,155.8 L215.0,155.2 L215.3,154.7 L215.5,154.1 L215.8,153.5 L216.0,152.9 L216.3,152.3 L216.5,151.7 L216.7,151.1 L217.0,150.4 L217.2,149.8 L217.3,149.1 L217.5,148.4 L217.7,147.7 L217.8,147.0 L217.9,146.3 L218.0,145.5 L218.1,144.7 L218.2,143.8 L218.3,143.0 L218.3,142.1 L218.4,141.2 L218.4,140.3 L218.4,139.4 L218.4,138.5 L218.4,137.6 L218.4,136.7 L218.4,135.8 L218.4,134.9 L218.4,134.0 L218.4,133.2 L218.4,132.3 L218.3,131.5 L218.3,130.7 L218.3,130.0 L218.3,129.3 L218.2,128.6 L218.2,127.9 L218.2,127.3 L218.1,126.6 L218.1,126.0 L218.0,125.4 L217.9,124.8 L217.9,124.2 L217.8,123.6 L217.7,123.0 L217.6,122.5 L217.5,121.9 L217.5,121.3 L217.4,120.8 L217.3,120.2 L217.1,119.7 L217.0,119.1 L216.9,118.6 L216.8,118.0 L216.7,117.4 L216.6,116.9 L216.4,116.3 L216.3,115.8 L216.2,115.3 L216.0,114.7 L215.9,114.2 L215.8,113.7 L215.6,113.2 L215.5,112.6 L215.3,112.1 L215.1,111.6 L214.9,111.1 L214.8,110.6 L214.6,110.1 L214.4,109.6 L214.1,109.0 L213.9,108.5 L213.7,108.0 L213.4,107.5 L213.1,107.0 L212.9,106.5 L212.6,105.9 L212.3,105.4 L212.0,104.9 L211.7,104.4 L211.3,103.9 L211.0,103.4 L210.7,102.9 L210.3,102.4 L209.9,101.9 L209.6,101.3 L209.2,100.8 L208.8,100.3 L208.4,99.8 L208.0,99.3 L207.5,98.8 L207.1,98.2 L206.7,97.7 L206.2,97.2 L205.7,96.7 L205.2,96.1 L204.7,95.6 L204.2,95.0 L203.7,94.5 L203.1,93.9 L202.5,93.4 L202.0,92.8 L201.4,92.2 L200.8,91.7 L200.2,91.1 L199.6,90.6 L199.0,90.0 L198.4,89.5 L197.8,88.9 L197.2,88.4 L196.6,87.9 L196.0,87.4 L195.4,86.9 L194.8,86.4 L194.2,85.9 L193.6,85.4 L193.0,85.0 L192.4,84.5 L191.8,84.0 L191.2,83.6 L190.6,83.1 L190.0,82.7 L189.4,82.3 L188.8,81.8 L188.2,81.4 L187.6,81.0 L187.0,80.6 L186.4,80.2 L185.8,79.8 L185.2,79.4 L184.6,79.0 L184.0,78.7 L183.4,78.3 L182.8,78.0 L182.2,77.7 L181.6,77.4 L181.0,77.1 L180.4,76.8 L179.8,76.5 L179.2,76.2 L178.6,76.0 L178.0,75.7 L177.4,75.5 L176.8,75.3 L176.2,75.0 L175.6,74.8 L175.0,74.6 L174.4,74.4 L173.8,74.2 L173.2,74.0 L172.6,73.8 L172.0,73.6 L171.4,73.4 L170.8,73.2 L170.2,73.0 L169.6,72.8 L169.0,72.6 L168.4,72.5 L167.8,72.3 L167.2,72.1 L166.6,72.0 L166.0,71.8 L165.4,71.6 L164.8,71.5 L164.2,71.4 L163.6,71.2 L163.0,71.1 L162.4,70.9 L161.8,70.8 L161.2,70.7 L160.6,70.6 L160.0,70.4 L159.4,70.3 L158.8,70.2 L158.2,70.1 L157.6,70.0 L157.0,69.9 L156.4,69.8 L155.8,69.7 L155.2,69.6 L154.6,69.5 L154.0,69.4 L153.4,69.3 L152.8,69.2 L152.2,69.1 L151.6,69.1 L151.0,69.0 L150.4,68.9 L149.8,68.9 L149.2,68.8 L148.6,68.7 L148.0,68.7 L147.4,68.6 L146.8,68.6 L146.2,68.6 L145.6,68.5 L145.0,68.5 L144.4,68.5 L143.8,68.5 L143.2,68.5 L142.6,68.4 L142.0,68.4 L141.4,68.4 L140.8,68.4 L140.2,68.4 L139.6,68.5 L139.0,68.5 L138.4,68.5 L137.8,68.5 L137.2,68.5 L136.6,68.5 L136.0,68.6 L135.4,68.6 L134.8,68.6 L134.2,68.6 L133.6,68.7 L132.9,68.7 L132.3,68.7 L131.6,68.8 L131.0,68.8 L130.3,68.9 L129.7,68.9 L129.0,69.0 L128.4,69.1 L127.7,69.1 L127.1,69.2 L126.5,69.2 L125.9,69.3 L125.3,69.3 L124.8,69.4 L124.2,69.5 L123.7,69.5 L123.2,69.6 L122.8,69.6 L122.4,69.6 L122.0,69.7 L121.7,69.7 L121.3,69.7 L121.0,69.8 L120.8,69.8 L120.5,69.8 L120.3,69.9 L120.1,69.9 L119.8,69.9 L119.6,69.9 L119.4,70.0 L119.2,70.0 L119.1,70.0 L118.9,70.1 L118.7,70.1 L118.5,70.1 L118.3,70.2 L118.0,70.2 L117.8,70.3 L117.6,70.4 L117.3,70.4 L117.1,70.5 L116.8,70.5 L116.5,70.6 L116.3,70.6 L116.0,70.7 L115.8,70.8 L115.5,70.8 L115.3,70.9 L115.0,71.0 L114.8,71.0 L114.5,71.1 L114.3,71.2 L114.1,71.3 L113.9,71.4 L113.7,71.6 L113.5,71.7 L113.3,71.8 L113.2,72.0 L113.1,72.2 L112.9,72.4 L112.8,72.6 L112.8,72.8 L112.7,73.1 L112.6,73.4 L112.5,73.6 L112.5,73.9 L112.4,74.2 L112.4,74.5 L112.4,74.8 L112.4,75.1 L112.3,75.4 L112.3,75.6 L112.3,75.9 L112.3,76.1 L112.3,76.3 L112.2,76.5 L112.2,76.7 L112.2,76.8Z" fill="#fff" stroke="none"/>
<g><path d="M112.6,76.8 C112.4,76.0 112.5,73.1 111.6,72.0 C110.7,70.9 108.6,70.7 107.0,70.3 C105.4,69.9 104.8,69.9 102.0,69.6 C99.2,69.3 94.0,68.8 90.0,68.6 C86.0,68.4 82.0,68.3 78.0,68.6 C74.0,68.9 70.0,69.4 66.0,70.2 C62.0,71.0 58.0,71.9 54.0,73.2 C50.0,74.5 46.0,75.8 42.0,78.0 C38.0,80.2 33.9,83.2 30.0,86.4 C26.1,89.6 21.7,93.7 18.6,97.2 C15.5,100.7 13.2,104.0 11.4,107.5 C9.6,111.0 8.8,114.2 8.0,118.0 C7.2,121.8 6.7,125.2 6.5,130.0 C6.3,134.8 6.2,142.2 7.0,147.0 C7.8,151.8 10.0,155.5 11.5,159.0 C13.0,162.5 14.2,164.8 16.0,168.0 C17.8,171.2 21.0,176.3 22.0,178.0" fill="none" stroke="#4a4a4a" stroke-width="0.85"/>
<path d="M94.8,88.2 C92.0,88.3 82.1,88.5 78.0,88.6 C73.9,88.7 73.0,88.6 70.0,88.9 C67.0,89.2 63.0,89.7 60.0,90.5 C57.0,91.3 54.4,92.4 52.0,93.5 C49.6,94.6 47.5,94.9 45.4,97.2 C43.3,99.5 40.8,103.7 39.2,107.5 C37.7,111.3 37.0,116.0 36.1,119.9 C35.2,123.8 34.7,126.0 34.0,131.0 C33.3,136.0 32.3,144.8 32.0,150.0 C31.7,155.2 31.7,158.3 32.0,162.0 C32.3,165.7 33.7,170.3 34.0,172.0" fill="none" stroke="#4a4a4a" stroke-width="0.8"/>
<path d="M42.0,79.2L50.5,94.5M68.4,70.2L72.6,88.8M90.0,69.0L88.8,88.4M112.6,76.8L94.8,88.2M112.6,76.8L130.4,88.2M112.4,76.8L112.4,114.0M18.5,97.3L39.7,106.4M12.1,106.2L37.7,112.4M8.3,116.5L35.5,122.6M6.6,127.3L34.0,131.0M6.4,138.3L32.8,141.5M7.5,149.3L32.0,150.8M11.7,159.4L31.8,158.8M16.7,169.2L32.6,166.0" fill="none" stroke="#888" stroke-width="0.7"/>
<ellipse cx="104" cy="124" rx="2.4" ry="3.2" fill="none" stroke="#666" stroke-width="0.7"/>
<ellipse cx="100" cy="130" rx="2.6" ry="2.4" fill="none" stroke="#666" stroke-width="0.7"/>
<ellipse cx="106.5" cy="133" rx="2.2" ry="2.6" fill="none" stroke="#666" stroke-width="0.7"/>
<ellipse cx="96" cy="125" rx="2" ry="3" fill="none" stroke="#666" stroke-width="0.7"/>
<path d="M35.0,107.0 C36.5,105.5 40.2,100.9 43.9,98.3 C47.6,95.7 51.7,93.3 57.1,91.6 C62.5,89.9 70.1,88.5 76.3,88.0 C82.5,87.5 90.3,88.0 94.0,88.7 C97.7,89.4 97.0,90.6 98.5,92.4 C100.0,94.2 101.2,98.1 102.9,99.8 C104.6,101.5 107.2,102.2 108.8,102.7 C110.4,103.2 111.8,103.0 112.4,103.0" fill="none" stroke="#555" stroke-width="0.85"/>
<path d="M38.0,108.6 C39.5,107.1 43.4,102.2 46.8,99.8 C50.2,97.3 53.7,95.4 58.6,93.9 C63.5,92.4 70.6,91.3 76.3,90.9 C82.0,90.5 89.1,90.9 92.6,91.6 C96.0,92.3 95.5,93.4 97.0,95.3 C98.5,97.2 99.4,101.0 101.4,102.7 C103.4,104.4 107.0,105.2 108.8,105.7 C110.6,106.2 111.8,105.9 112.4,105.9" fill="none" stroke="#555" stroke-width="0.85"/>
<path d="M46.0,111.0 C46.7,109.8 48.0,106.2 50.0,104.0 C52.0,101.8 54.3,99.2 58.0,97.5 C61.7,95.8 67.3,94.2 72.0,93.5 C76.7,92.8 82.7,93.0 86.0,93.5 C89.3,94.0 90.3,95.1 92.0,96.5 C93.7,97.9 94.8,99.9 96.0,102.0 C97.2,104.1 97.7,107.2 99.0,109.0 C100.3,110.8 101.8,112.5 104.0,112.5 C106.2,112.5 111.0,109.6 112.4,109.0" fill="none" stroke="#555" stroke-width="0.85"/>
<path d="M63.0,105.7 C64.5,105.2 68.9,103.3 71.9,102.7 C74.9,102.1 78.6,101.8 80.8,102.0 C83.0,102.2 83.7,102.9 85.2,104.2 C86.7,105.5 88.4,108.0 90.0,110.0 C91.6,112.0 93.5,114.5 95.0,116.0 C96.5,117.5 98.3,118.5 99.0,119.0" fill="none" stroke="#555" stroke-width="0.85"/>
<path d="M53.0,119.0 C54.5,118.9 58.8,118.8 62.0,118.5 C65.2,118.2 68.3,116.9 72.0,117.0 C75.7,117.1 80.3,118.0 84.0,119.0 C87.7,120.0 91.3,122.2 94.0,123.0 C96.7,123.8 99.0,123.8 100.0,124.0" fill="none" stroke="#555" stroke-width="0.85"/>
<path d="M56.5,127.6 C58.8,127.3 64.0,126.5 70.0,126.0 C76.0,125.5 87.7,124.7 92.4,124.9 C97.1,125.1 97.1,126.7 98.0,127.0" fill="none" stroke="#555" stroke-width="0.85"/>
<path d="M79.1,117.0 C79.1,120.5 79.1,134.7 79.1,138.2" fill="none" stroke="#555" stroke-width="0.85"/>
<path d="M47.0,122.0 C47.8,121.3 51.5,119.7 52.0,118.0 C52.5,116.3 50.3,113.0 50.0,112.0" fill="none" stroke="#555" stroke-width="0.85"/>
<path d="M60.0,140.0 C61.0,138.3 63.7,132.3 66.0,130.0 C68.3,127.7 72.7,126.7 74.0,126.0" fill="none" stroke="#555" stroke-width="0.85"/>
<path d="M59.2,118.3 C61.0,118.2 64.2,117.6 70.0,117.5 C75.8,117.4 89.8,117.6 93.7,117.6" fill="none" stroke="#555" stroke-width="0.85"/>
<path d="M50.0,140.8 C51.0,139.7 54.0,136.5 56.0,134.0 C58.0,131.5 60.0,128.3 62.0,126.0 C64.0,123.7 67.0,121.0 68.0,120.0" fill="none" stroke="#555" stroke-width="0.85"/>
<path d="M85.0,125.0 C85.5,126.2 87.2,129.5 88.0,132.0 C88.8,134.5 89.7,138.7 90.0,140.0" fill="none" stroke="#555" stroke-width="0.85"/>
<path d="M96.0,121.0 C96.7,121.8 98.7,124.8 100.0,126.0 C101.3,127.2 102.7,127.3 104.0,128.0 C105.3,128.7 107.3,129.7 108.0,130.0" fill="none" stroke="#555" stroke-width="0.85"/>
<path d="M100.0,126.0 C100.7,125.3 102.7,122.8 104.0,122.0 C105.3,121.2 107.3,121.2 108.0,121.0" fill="none" stroke="#555" stroke-width="0.85"/>
<path d="M98.0,131.0 C98.8,131.5 101.3,133.2 103.0,134.0 C104.7,134.8 107.2,135.7 108.0,136.0" fill="none" stroke="#555" stroke-width="0.85"/>
<path d="M46.0,150.0 C46.5,148.0 47.8,141.7 49.0,138.0 C50.2,134.3 52.3,129.7 53.0,128.0" fill="none" stroke="#555" stroke-width="0.85"/>
<path d="M112.4,112.3 C111.8,112.5 110.1,113.2 108.8,113.8 C107.5,114.4 105.6,116.0 104.4,116.0 C103.2,116.0 102.3,114.9 101.4,113.5 C100.5,112.1 100.0,109.6 99.0,107.5 C98.0,105.4 96.8,102.7 95.5,101.0 C94.2,99.3 92.6,98.6 91.0,97.5 C89.4,96.4 88.0,95.0 85.8,94.4 C83.6,93.9 80.6,93.9 78.0,94.2 C75.4,94.5 72.7,95.1 70.0,96.0 C67.3,96.9 64.5,98.2 62.0,99.5 C59.5,100.8 56.8,102.0 55.0,103.5 C53.2,105.0 51.8,106.9 51.0,108.6 C50.2,110.3 50.0,112.4 50.5,113.8 C51.0,115.2 51.9,116.3 54.2,116.7 C56.5,117.1 61.3,116.5 64.5,116.0 C67.7,115.5 70.8,114.5 73.4,113.8 C76.0,113.0 78.9,111.9 80.0,111.5" fill="none" stroke="#111" stroke-width="1.85"/>
<path d="M61.0,107.5 C61.3,106.8 64.2,106.2 66.0,106.0 C67.8,105.8 70.0,106.2 72.0,106.3 C74.0,106.3 76.2,106.0 78.0,106.3 C79.8,106.6 80.8,107.1 82.5,108.3 C84.2,109.5 86.1,111.6 88.0,113.3 C89.9,115.0 92.5,117.3 94.0,118.5 C95.5,119.7 96.7,119.7 97.0,120.2 C97.3,120.7 97.2,121.7 96.0,121.5 C94.8,121.3 92.0,120.2 90.0,119.0 C88.0,117.8 85.8,116.0 84.0,114.6 C82.2,113.2 81.0,111.3 79.0,110.5 C77.0,109.7 74.5,110.0 72.0,110.0 C69.5,110.0 65.8,110.6 64.0,110.2 C62.2,109.8 60.7,108.2 61.0,107.5Z" fill="#111" stroke="none"/>
<path d="M43.5,110.0 C44.1,110.2 44.8,113.7 45.2,116.0 C45.6,118.3 45.9,121.5 46.0,124.0 C46.1,126.5 45.9,128.6 45.8,131.0 C45.7,133.4 45.5,135.2 45.2,138.2 C44.9,141.2 44.8,146.3 44.0,148.8 C43.2,151.3 41.9,152.5 40.5,153.0 C39.1,153.5 36.2,154.5 35.8,152.0 C35.3,149.5 37.1,142.7 37.8,138.2 C38.5,133.7 39.1,128.9 39.8,125.0 C40.5,121.1 41.2,117.5 41.8,115.0 C42.4,112.5 42.9,109.8 43.5,110.0Z" fill="#111" stroke="none"/>
<path d="M112.4,111.5 C112.1,109.0 111.0,114.2 110.3,115.5 C109.6,116.8 108.1,118.3 108.0,119.6 C107.9,120.8 109.0,122.0 109.5,123.0 C110.0,124.0 110.8,124.5 110.8,125.3 C110.8,126.1 109.4,127.0 109.3,127.8 C109.2,128.6 109.7,129.5 110.2,130.0 C110.7,130.5 112.0,133.9 112.4,130.8 C112.8,127.7 112.8,114.0 112.4,111.5Z" fill="#111" stroke="none"/></g>
<g transform="translate(224.80,0) scale(-1,1)"><path d="M112.6,76.8 C112.4,76.0 112.5,73.1 111.6,72.0 C110.7,70.9 108.6,70.7 107.0,70.3 C105.4,69.9 104.8,69.9 102.0,69.6 C99.2,69.3 94.0,68.8 90.0,68.6 C86.0,68.4 82.0,68.3 78.0,68.6 C74.0,68.9 70.0,69.4 66.0,70.2 C62.0,71.0 58.0,71.9 54.0,73.2 C50.0,74.5 46.0,75.8 42.0,78.0 C38.0,80.2 33.9,83.2 30.0,86.4 C26.1,89.6 21.7,93.7 18.6,97.2 C15.5,100.7 13.2,104.0 11.4,107.5 C9.6,111.0 8.8,114.2 8.0,118.0 C7.2,121.8 6.7,125.2 6.5,130.0 C6.3,134.8 6.2,142.2 7.0,147.0 C7.8,151.8 10.0,155.5 11.5,159.0 C13.0,162.5 14.2,164.8 16.0,168.0 C17.8,171.2 21.0,176.3 22.0,178.0" fill="none" stroke="#4a4a4a" stroke-width="0.85"/>
<path d="M94.8,88.2 C92.0,88.3 82.1,88.5 78.0,88.6 C73.9,88.7 73.0,88.6 70.0,88.9 C67.0,89.2 63.0,89.7 60.0,90.5 C57.0,91.3 54.4,92.4 52.0,93.5 C49.6,94.6 47.5,94.9 45.4,97.2 C43.3,99.5 40.8,103.7 39.2,107.5 C37.7,111.3 37.0,116.0 36.1,119.9 C35.2,123.8 34.7,126.0 34.0,131.0 C33.3,136.0 32.3,144.8 32.0,150.0 C31.7,155.2 31.7,158.3 32.0,162.0 C32.3,165.7 33.7,170.3 34.0,172.0" fill="none" stroke="#4a4a4a" stroke-width="0.8"/>
<path d="M42.0,79.2L50.5,94.5M68.4,70.2L72.6,88.8M90.0,69.0L88.8,88.4M112.6,76.8L94.8,88.2M112.6,76.8L130.4,88.2M112.4,76.8L112.4,114.0M18.5,97.3L39.7,106.4M12.1,106.2L37.7,112.4M8.3,116.5L35.5,122.6M6.6,127.3L34.0,131.0M6.4,138.3L32.8,141.5M7.5,149.3L32.0,150.8M11.7,159.4L31.8,158.8M16.7,169.2L32.6,166.0" fill="none" stroke="#888" stroke-width="0.7"/>
<ellipse cx="104" cy="124" rx="2.4" ry="3.2" fill="none" stroke="#666" stroke-width="0.7"/>
<ellipse cx="100" cy="130" rx="2.6" ry="2.4" fill="none" stroke="#666" stroke-width="0.7"/>
<ellipse cx="106.5" cy="133" rx="2.2" ry="2.6" fill="none" stroke="#666" stroke-width="0.7"/>
<ellipse cx="96" cy="125" rx="2" ry="3" fill="none" stroke="#666" stroke-width="0.7"/>
<path d="M35.0,107.0 C36.5,105.5 40.2,100.9 43.9,98.3 C47.6,95.7 51.7,93.3 57.1,91.6 C62.5,89.9 70.1,88.5 76.3,88.0 C82.5,87.5 90.3,88.0 94.0,88.7 C97.7,89.4 97.0,90.6 98.5,92.4 C100.0,94.2 101.2,98.1 102.9,99.8 C104.6,101.5 107.2,102.2 108.8,102.7 C110.4,103.2 111.8,103.0 112.4,103.0" fill="none" stroke="#555" stroke-width="0.85"/>
<path d="M38.0,108.6 C39.5,107.1 43.4,102.2 46.8,99.8 C50.2,97.3 53.7,95.4 58.6,93.9 C63.5,92.4 70.6,91.3 76.3,90.9 C82.0,90.5 89.1,90.9 92.6,91.6 C96.0,92.3 95.5,93.4 97.0,95.3 C98.5,97.2 99.4,101.0 101.4,102.7 C103.4,104.4 107.0,105.2 108.8,105.7 C110.6,106.2 111.8,105.9 112.4,105.9" fill="none" stroke="#555" stroke-width="0.85"/>
<path d="M46.0,111.0 C46.7,109.8 48.0,106.2 50.0,104.0 C52.0,101.8 54.3,99.2 58.0,97.5 C61.7,95.8 67.3,94.2 72.0,93.5 C76.7,92.8 82.7,93.0 86.0,93.5 C89.3,94.0 90.3,95.1 92.0,96.5 C93.7,97.9 94.8,99.9 96.0,102.0 C97.2,104.1 97.7,107.2 99.0,109.0 C100.3,110.8 101.8,112.5 104.0,112.5 C106.2,112.5 111.0,109.6 112.4,109.0" fill="none" stroke="#555" stroke-width="0.85"/>
<path d="M63.0,105.7 C64.5,105.2 68.9,103.3 71.9,102.7 C74.9,102.1 78.6,101.8 80.8,102.0 C83.0,102.2 83.7,102.9 85.2,104.2 C86.7,105.5 88.4,108.0 90.0,110.0 C91.6,112.0 93.5,114.5 95.0,116.0 C96.5,117.5 98.3,118.5 99.0,119.0" fill="none" stroke="#555" stroke-width="0.85"/>
<path d="M53.0,119.0 C54.5,118.9 58.8,118.8 62.0,118.5 C65.2,118.2 68.3,116.9 72.0,117.0 C75.7,117.1 80.3,118.0 84.0,119.0 C87.7,120.0 91.3,122.2 94.0,123.0 C96.7,123.8 99.0,123.8 100.0,124.0" fill="none" stroke="#555" stroke-width="0.85"/>
<path d="M56.5,127.6 C58.8,127.3 64.0,126.5 70.0,126.0 C76.0,125.5 87.7,124.7 92.4,124.9 C97.1,125.1 97.1,126.7 98.0,127.0" fill="none" stroke="#555" stroke-width="0.85"/>
<path d="M79.1,117.0 C79.1,120.5 79.1,134.7 79.1,138.2" fill="none" stroke="#555" stroke-width="0.85"/>
<path d="M47.0,122.0 C47.8,121.3 51.5,119.7 52.0,118.0 C52.5,116.3 50.3,113.0 50.0,112.0" fill="none" stroke="#555" stroke-width="0.85"/>
<path d="M60.0,140.0 C61.0,138.3 63.7,132.3 66.0,130.0 C68.3,127.7 72.7,126.7 74.0,126.0" fill="none" stroke="#555" stroke-width="0.85"/>
<path d="M59.2,118.3 C61.0,118.2 64.2,117.6 70.0,117.5 C75.8,117.4 89.8,117.6 93.7,117.6" fill="none" stroke="#555" stroke-width="0.85"/>
<path d="M50.0,140.8 C51.0,139.7 54.0,136.5 56.0,134.0 C58.0,131.5 60.0,128.3 62.0,126.0 C64.0,123.7 67.0,121.0 68.0,120.0" fill="none" stroke="#555" stroke-width="0.85"/>
<path d="M85.0,125.0 C85.5,126.2 87.2,129.5 88.0,132.0 C88.8,134.5 89.7,138.7 90.0,140.0" fill="none" stroke="#555" stroke-width="0.85"/>
<path d="M96.0,121.0 C96.7,121.8 98.7,124.8 100.0,126.0 C101.3,127.2 102.7,127.3 104.0,128.0 C105.3,128.7 107.3,129.7 108.0,130.0" fill="none" stroke="#555" stroke-width="0.85"/>
<path d="M100.0,126.0 C100.7,125.3 102.7,122.8 104.0,122.0 C105.3,121.2 107.3,121.2 108.0,121.0" fill="none" stroke="#555" stroke-width="0.85"/>
<path d="M98.0,131.0 C98.8,131.5 101.3,133.2 103.0,134.0 C104.7,134.8 107.2,135.7 108.0,136.0" fill="none" stroke="#555" stroke-width="0.85"/>
<path d="M46.0,150.0 C46.5,148.0 47.8,141.7 49.0,138.0 C50.2,134.3 52.3,129.7 53.0,128.0" fill="none" stroke="#555" stroke-width="0.85"/>
<path d="M112.4,112.3 C111.8,112.5 110.1,113.2 108.8,113.8 C107.5,114.4 105.6,116.0 104.4,116.0 C103.2,116.0 102.3,114.9 101.4,113.5 C100.5,112.1 100.0,109.6 99.0,107.5 C98.0,105.4 96.8,102.7 95.5,101.0 C94.2,99.3 92.6,98.6 91.0,97.5 C89.4,96.4 88.0,95.0 85.8,94.4 C83.6,93.9 80.6,93.9 78.0,94.2 C75.4,94.5 72.7,95.1 70.0,96.0 C67.3,96.9 64.5,98.2 62.0,99.5 C59.5,100.8 56.8,102.0 55.0,103.5 C53.2,105.0 51.8,106.9 51.0,108.6 C50.2,110.3 50.0,112.4 50.5,113.8 C51.0,115.2 51.9,116.3 54.2,116.7 C56.5,117.1 61.3,116.5 64.5,116.0 C67.7,115.5 70.8,114.5 73.4,113.8 C76.0,113.0 78.9,111.9 80.0,111.5" fill="none" stroke="#111" stroke-width="1.85"/>
<path d="M61.0,107.5 C61.3,106.8 64.2,106.2 66.0,106.0 C67.8,105.8 70.0,106.2 72.0,106.3 C74.0,106.3 76.2,106.0 78.0,106.3 C79.8,106.6 80.8,107.1 82.5,108.3 C84.2,109.5 86.1,111.6 88.0,113.3 C89.9,115.0 92.5,117.3 94.0,118.5 C95.5,119.7 96.7,119.7 97.0,120.2 C97.3,120.7 97.2,121.7 96.0,121.5 C94.8,121.3 92.0,120.2 90.0,119.0 C88.0,117.8 85.8,116.0 84.0,114.6 C82.2,113.2 81.0,111.3 79.0,110.5 C77.0,109.7 74.5,110.0 72.0,110.0 C69.5,110.0 65.8,110.6 64.0,110.2 C62.2,109.8 60.7,108.2 61.0,107.5Z" fill="#111" stroke="none"/>
<path d="M43.5,110.0 C44.1,110.2 44.8,113.7 45.2,116.0 C45.6,118.3 45.9,121.5 46.0,124.0 C46.1,126.5 45.9,128.6 45.8,131.0 C45.7,133.4 45.5,135.2 45.2,138.2 C44.9,141.2 44.8,146.3 44.0,148.8 C43.2,151.3 41.9,152.5 40.5,153.0 C39.1,153.5 36.2,154.5 35.8,152.0 C35.3,149.5 37.1,142.7 37.8,138.2 C38.5,133.7 39.1,128.9 39.8,125.0 C40.5,121.1 41.2,117.5 41.8,115.0 C42.4,112.5 42.9,109.8 43.5,110.0Z" fill="#111" stroke="none"/>
<path d="M112.4,111.5 C112.1,109.0 111.0,114.2 110.3,115.5 C109.6,116.8 108.1,118.3 108.0,119.6 C107.9,120.8 109.0,122.0 109.5,123.0 C110.0,124.0 110.8,124.5 110.8,125.3 C110.8,126.1 109.4,127.0 109.3,127.8 C109.2,128.6 109.7,129.5 110.2,130.0 C110.7,130.5 112.0,133.9 112.4,130.8 C112.8,127.7 112.8,114.0 112.4,111.5Z" fill="#111" stroke="none"/></g>
<line x1="121.7" y1="88.6" x2="122.6" y2="130" stroke="#1fb04b" stroke-width="2.3"/>
<line x1="125.6" y1="95.3" x2="126" y2="126.3" stroke="#1fb04b" stroke-width="2.3"/>
<line x1="136.4" y1="98" x2="136" y2="129.2" stroke="#2aa8e2" stroke-width="2.3"/>
<line x1="142.3" y1="92" x2="142.7" y2="126.3" stroke="#2aa8e2" stroke-width="2.3"/>
<text x="156.3" y="92.2" font-size="14.3" fill="#111" stroke="#111" stroke-width="0.3">-3.72</text>
<path d="M112.2,148.0 L112.2,147.9 L112.1,147.8 L112.1,147.7 L112.0,147.6 L112.0,147.5 L111.9,147.3 L111.9,147.2 L111.8,147.0 L111.7,146.9 L111.7,146.7 L111.6,146.6 L111.5,146.4 L111.4,146.2 L111.3,146.0 L111.2,145.9 L111.1,145.7 L110.9,145.5 L110.8,145.3 L110.6,145.2 L110.4,145.0 L110.2,144.8 L110.0,144.7 L109.8,144.5 L109.5,144.3 L109.3,144.1 L109.0,143.9 L108.7,143.7 L108.4,143.5 L108.1,143.4 L107.8,143.2 L107.5,143.0 L107.2,142.8 L106.8,142.6 L106.5,142.4 L106.2,142.2 L105.8,142.1 L105.5,141.9 L105.1,141.7 L104.8,141.6 L104.4,141.4 L104.0,141.3 L103.7,141.1 L103.3,141.0 L102.9,140.8 L102.6,140.7 L102.2,140.5 L101.8,140.4 L101.4,140.3 L101.0,140.1 L100.6,140.0 L100.2,139.9 L99.7,139.8 L99.3,139.6 L98.9,139.5 L98.4,139.4 L97.9,139.3 L97.5,139.2 L97.0,139.2 L96.5,139.1 L96.0,139.0 L95.5,138.9 L94.9,138.9 L94.4,138.8 L93.8,138.8 L93.2,138.7 L92.6,138.7 L92.0,138.7 L91.3,138.6 L90.7,138.6 L90.1,138.6 L89.4,138.6 L88.8,138.6 L88.2,138.6 L87.5,138.6 L86.9,138.6 L86.3,138.6 L85.7,138.6 L85.1,138.6 L84.6,138.6 L84.0,138.6 L83.5,138.6 L83.0,138.6 L82.5,138.7 L82.0,138.7 L81.5,138.7 L81.1,138.7 L80.7,138.8 L80.2,138.8 L79.8,138.8 L79.3,138.9 L78.9,138.9 L78.5,139.0 L78.0,139.0 L77.6,139.1 L77.1,139.2 L76.6,139.2 L76.1,139.3 L75.5,139.4 L75.0,139.5 L74.4,139.6 L73.8,139.7 L73.1,139.8 L72.5,139.9 L71.8,140.1 L71.1,140.2 L70.4,140.3 L69.6,140.5 L68.9,140.6 L68.1,140.8 L67.4,140.9 L66.6,141.1 L65.8,141.3 L65.1,141.4 L64.3,141.6 L63.5,141.8 L62.8,141.9 L62.1,142.1 L61.4,142.3 L60.7,142.4 L60.0,142.6 L59.3,142.8 L58.7,142.9 L58.1,143.1 L57.4,143.3 L56.8,143.4 L56.2,143.6 L55.6,143.8 L55.0,144.0 L54.4,144.1 L53.8,144.3 L53.2,144.5 L52.6,144.7 L52.0,144.9 L51.4,145.1 L50.9,145.2 L50.3,145.4 L49.7,145.6 L49.1,145.8 L48.6,146.0 L48.0,146.2 L47.4,146.4 L46.9,146.6 L46.3,146.8 L45.7,147.0 L45.1,147.2 L44.6,147.4 L44.0,147.6 L43.4,147.9 L42.9,148.1 L42.3,148.3 L41.7,148.5 L41.2,148.7 L40.7,149.0 L40.1,149.2 L39.6,149.4 L39.1,149.6 L38.6,149.8 L38.1,150.0 L37.7,150.2 L37.2,150.4 L36.8,150.6 L36.3,150.8 L35.9,150.9 L35.5,151.1 L35.1,151.3 L34.8,151.4 L34.4,151.5 L34.0,151.7 L33.7,151.8 L33.3,152.0 L33.0,152.1 L32.6,152.3 L32.3,152.5 L32.0,152.7 L31.7,152.8 L31.3,153.0 L31.0,153.3 L30.7,153.5 L30.3,153.7 L30.0,154.0 L29.7,154.3 L29.4,154.5 L29.0,154.8 L28.8,155.1 L28.5,155.4 L28.2,155.6 L27.9,155.9 L27.6,156.2 L27.4,156.5 L27.1,156.9 L26.8,157.2 L26.5,157.6 L26.2,158.0 L25.9,158.4 L25.6,158.8 L25.2,159.3 L24.8,159.8 L24.5,160.3 L24.0,160.9 L23.6,161.5 L23.1,162.2 L22.6,162.9 L22.1,163.6 L21.5,164.4 L20.9,165.3 L20.3,166.1 L19.6,167.0 L19.0,167.9 L18.3,168.9 L17.6,169.8 L17.0,170.8 L16.3,171.8 L15.7,172.7 L15.0,173.7 L14.4,174.7 L13.8,175.6 L13.3,176.6 L12.7,177.5 L12.2,178.3 L11.8,179.2 L11.4,180.0 L11.0,180.9 L10.6,181.7 L10.2,182.6 L9.9,183.4 L9.6,184.3 L9.3,185.1 L9.0,185.9 L8.7,186.8 L8.5,187.6 L8.2,188.4 L8.0,189.2 L7.7,190.0 L7.5,190.7 L7.3,191.5 L7.2,192.2 L7.0,193.0 L6.8,193.7 L6.7,194.3 L6.5,195.0 L6.4,195.6 L6.2,196.2 L6.1,196.8 L6.1,197.3 L6.0,197.8 L5.9,198.2 L5.9,198.7 L5.9,199.1 L5.9,199.6 L5.9,200.0 L5.8,200.4 L5.8,200.9 L5.9,201.3 L5.9,201.8 L5.9,202.2 L5.9,202.7 L5.9,203.3 L5.9,203.8 L5.9,204.4 L5.9,205.0 L5.9,205.7 L5.9,206.4 L5.9,207.1 L5.8,207.9 L5.8,208.7 L5.8,209.5 L5.8,210.3 L5.8,211.2 L5.8,212.0 L5.8,212.9 L5.8,213.8 L5.8,214.6 L5.8,215.5 L5.8,216.3 L5.8,217.1 L5.9,217.9 L5.9,218.6 L6.0,219.3 L6.1,220.0 L6.2,220.6 L6.3,221.2 L6.5,221.7 L6.6,222.3 L6.8,222.8 L7.0,223.2 L7.2,223.7 L7.4,224.1 L7.7,224.6 L7.9,225.0 L8.1,225.3 L8.4,225.7 L8.6,226.1 L8.9,226.4 L9.1,226.8 L9.3,227.2 L9.5,227.5 L9.8,227.8 L10.0,228.2 L10.1,228.5 L10.3,228.9 L10.4,229.3 L10.6,229.6 L10.7,229.9 L10.8,230.2 L10.9,230.5 L11.0,230.8 L11.1,231.1 L11.2,231.4 L11.3,231.7 L11.4,232.0 L11.5,232.2 L11.5,232.5 L11.6,232.8 L11.7,233.1 L11.8,233.4 L11.9,233.7 L12.0,234.0 L12.1,234.3 L12.3,234.7 L12.4,235.0 L12.6,235.4 L12.7,235.8 L12.9,236.2 L13.1,236.6 L13.3,237.1 L13.5,237.5 L13.7,238.0 L13.9,238.4 L14.1,238.9 L14.3,239.4 L14.5,239.8 L14.7,240.3 L14.9,240.7 L15.1,241.1 L15.3,241.5 L15.5,241.9 L15.6,242.2 L15.8,242.5 L15.9,242.8 L16.0,243.0 L16.0,265.0 L208.8,265.0 L208.8,243.0 L208.9,242.8 L209.0,242.5 L209.2,242.2 L209.3,241.9 L209.5,241.5 L209.7,241.1 L209.9,240.7 L210.1,240.3 L210.3,239.8 L210.5,239.4 L210.7,238.9 L210.9,238.4 L211.1,238.0 L211.3,237.5 L211.5,237.1 L211.7,236.6 L211.9,236.2 L212.1,235.8 L212.2,235.4 L212.4,235.0 L212.5,234.7 L212.7,234.3 L212.8,234.0 L212.9,233.7 L213.0,233.4 L213.1,233.1 L213.2,232.8 L213.3,232.5 L213.3,232.2 L213.4,232.0 L213.5,231.7 L213.6,231.4 L213.7,231.1 L213.8,230.8 L213.9,230.5 L214.0,230.2 L214.1,229.9 L214.2,229.6 L214.4,229.3 L214.5,228.9 L214.7,228.5 L214.8,228.2 L215.0,227.8 L215.3,227.5 L215.5,227.2 L215.7,226.8 L215.9,226.4 L216.2,226.1 L216.4,225.7 L216.7,225.3 L216.9,225.0 L217.1,224.6 L217.4,224.1 L217.6,223.7 L217.8,223.2 L218.0,222.8 L218.2,222.3 L218.3,221.7 L218.5,221.2 L218.6,220.6 L218.7,220.0 L218.8,219.3 L218.9,218.6 L218.9,217.9 L219.0,217.1 L219.0,216.3 L219.0,215.5 L219.0,214.6 L219.0,213.8 L219.0,212.9 L219.0,212.0 L219.0,211.2 L219.0,210.3 L219.0,209.5 L219.0,208.7 L219.0,207.9 L218.9,207.1 L218.9,206.4 L218.9,205.7 L218.9,205.0 L218.9,204.4 L218.9,203.8 L218.9,203.3 L218.9,202.7 L218.9,202.2 L218.9,201.8 L218.9,201.3 L219.0,200.9 L219.0,200.4 L219.0,200.0 L218.9,199.6 L218.9,199.1 L218.9,198.7 L218.9,198.2 L218.8,197.8 L218.7,197.3 L218.7,196.8 L218.6,196.2 L218.4,195.6 L218.3,195.0 L218.1,194.3 L218.0,193.7 L217.8,193.0 L217.6,192.2 L217.5,191.5 L217.3,190.7 L217.1,190.0 L216.8,189.2 L216.6,188.4 L216.4,187.6 L216.1,186.8 L215.8,185.9 L215.5,185.1 L215.2,184.3 L214.9,183.4 L214.6,182.6 L214.2,181.7 L213.8,180.9 L213.4,180.0 L213.0,179.2 L212.6,178.3 L212.1,177.5 L211.5,176.6 L211.0,175.6 L210.4,174.7 L209.8,173.7 L209.1,172.7 L208.5,171.8 L207.8,170.8 L207.2,169.8 L206.5,168.9 L205.8,167.9 L205.2,167.0 L204.5,166.1 L203.9,165.3 L203.3,164.4 L202.7,163.6 L202.2,162.9 L201.7,162.2 L201.2,161.5 L200.8,160.9 L200.3,160.3 L200.0,159.8 L199.6,159.3 L199.2,158.8 L198.9,158.4 L198.6,158.0 L198.3,157.6 L198.0,157.2 L197.7,156.9 L197.4,156.5 L197.2,156.2 L196.9,155.9 L196.6,155.6 L196.3,155.4 L196.0,155.1 L195.8,154.8 L195.4,154.5 L195.1,154.3 L194.8,154.0 L194.5,153.7 L194.1,153.5 L193.8,153.3 L193.5,153.0 L193.1,152.8 L192.8,152.7 L192.5,152.5 L192.2,152.3 L191.8,152.1 L191.5,152.0 L191.1,151.8 L190.8,151.7 L190.4,151.5 L190.0,151.4 L189.7,151.3 L189.3,151.1 L188.9,150.9 L188.5,150.8 L188.0,150.6 L187.6,150.4 L187.1,150.2 L186.7,150.0 L186.2,149.8 L185.7,149.6 L185.2,149.4 L184.7,149.2 L184.1,149.0 L183.6,148.7 L183.1,148.5 L182.5,148.3 L181.9,148.1 L181.4,147.9 L180.8,147.6 L180.2,147.4 L179.7,147.2 L179.1,147.0 L178.5,146.8 L177.9,146.6 L177.4,146.4 L176.8,146.2 L176.2,146.0 L175.7,145.8 L175.1,145.6 L174.5,145.4 L173.9,145.2 L173.4,145.1 L172.8,144.9 L172.2,144.7 L171.6,144.5 L171.0,144.3 L170.4,144.1 L169.8,144.0 L169.2,143.8 L168.6,143.6 L168.0,143.4 L167.4,143.3 L166.7,143.1 L166.1,142.9 L165.5,142.8 L164.8,142.6 L164.1,142.4 L163.4,142.3 L162.7,142.1 L162.0,141.9 L161.3,141.8 L160.5,141.6 L159.7,141.4 L159.0,141.3 L158.2,141.1 L157.4,140.9 L156.7,140.8 L155.9,140.6 L155.2,140.5 L154.4,140.3 L153.7,140.2 L153.0,140.1 L152.3,139.9 L151.7,139.8 L151.0,139.7 L150.4,139.6 L149.8,139.5 L149.3,139.4 L148.7,139.3 L148.2,139.2 L147.7,139.2 L147.2,139.1 L146.8,139.0 L146.3,139.0 L145.9,138.9 L145.5,138.9 L145.0,138.8 L144.6,138.8 L144.1,138.8 L143.7,138.7 L143.3,138.7 L142.8,138.7 L142.3,138.7 L141.8,138.6 L141.3,138.6 L140.8,138.6 L140.2,138.6 L139.7,138.6 L139.1,138.6 L138.5,138.6 L137.9,138.6 L137.3,138.6 L136.6,138.6 L136.0,138.6 L135.4,138.6 L134.7,138.6 L134.1,138.6 L133.5,138.6 L132.8,138.7 L132.2,138.7 L131.6,138.7 L131.0,138.8 L130.4,138.8 L129.9,138.9 L129.3,138.9 L128.8,139.0 L128.3,139.1 L127.8,139.2 L127.3,139.2 L126.9,139.3 L126.4,139.4 L125.9,139.5 L125.5,139.6 L125.1,139.8 L124.6,139.9 L124.2,140.0 L123.8,140.1 L123.4,140.3 L123.0,140.4 L122.6,140.5 L122.2,140.7 L121.9,140.8 L121.5,141.0 L121.1,141.1 L120.8,141.3 L120.4,141.4 L120.0,141.6 L119.7,141.7 L119.3,141.9 L119.0,142.1 L118.6,142.2 L118.3,142.4 L118.0,142.6 L117.6,142.8 L117.3,143.0 L117.0,143.2 L116.7,143.4 L116.4,143.5 L116.1,143.7 L115.8,143.9 L115.5,144.1 L115.3,144.3 L115.0,144.5 L114.8,144.7 L114.6,144.8 L114.4,145.0 L114.2,145.2 L114.0,145.3 L113.9,145.5 L113.7,145.7 L113.6,145.9 L113.5,146.0 L113.4,146.2 L113.3,146.4 L113.2,146.6 L113.1,146.7 L113.1,146.9 L113.0,147.0 L112.9,147.2 L112.9,147.3 L112.8,147.5 L112.8,147.6 L112.7,147.7 L112.7,147.8 L112.6,147.9 L112.6,148.0Z" fill="#fff" stroke="none"/>
<g><path d="M112.2,148.0 C111.9,147.5 111.7,146.1 110.4,145.0 C109.1,143.9 106.8,142.4 104.4,141.4 C102.0,140.4 99.4,139.5 96.0,139.0 C92.6,138.5 87.6,138.5 84.0,138.6 C80.4,138.7 78.4,138.9 74.4,139.6 C70.4,140.3 64.4,141.5 60.0,142.6 C55.6,143.7 51.8,144.9 48.0,146.2 C44.2,147.5 40.2,149.1 37.2,150.4 C34.2,151.7 32.3,152.2 30.0,154.0 C27.7,155.8 26.6,157.3 23.6,161.5 C20.6,165.7 14.7,173.6 11.8,179.2 C9.0,184.8 7.5,190.7 6.5,195.0 C5.5,199.3 6.0,200.7 5.9,205.0 C5.9,209.3 5.5,216.6 6.2,220.6 C6.9,224.6 9.3,226.5 10.3,228.9 C11.3,231.3 11.5,232.7 12.4,235.0 C13.3,237.3 15.4,241.7 16.0,243.0" fill="none" stroke="#4a4a4a" stroke-width="0.85"/>
<path d="M95.4,157.0 C94.5,157.0 93.3,156.7 90.0,157.0 C86.7,157.3 80.6,157.7 75.6,158.8 C70.6,159.9 64.3,162.0 60.0,163.6 C55.7,165.2 52.6,167.1 50.0,168.5 C47.4,169.9 46.2,170.1 44.2,172.0 C42.2,173.9 39.6,177.0 38.0,180.0 C36.4,183.0 35.7,186.2 34.5,190.0 C33.3,193.8 31.8,198.6 31.0,202.8 C30.2,207.0 29.8,211.3 29.5,215.0 C29.2,218.7 29.2,221.7 29.5,225.0 C29.8,228.3 30.8,233.3 31.0,235.0" fill="none" stroke="#4a4a4a" stroke-width="0.8"/>
<path d="M37.8,151.6L49.2,168.4M48.0,146.8L55.8,164.2M73.2,139.8L75.6,158.8M92.4,139.4L90.6,157.0M112.2,148.0L97.2,157.6M112.2,148.0L127.2,157.6M112.4,148.0L112.4,186.0M28.5,155.4L44.2,172.0M21.1,164.9L39.7,177.3M14.4,174.8L36.6,183.2M9.1,185.5L33.6,193.0M6.1,197.1L31.1,202.2M5.8,209.1L29.8,211.5M6.3,221.1L29.3,220.6M11.4,231.9L30.0,228.9" fill="none" stroke="#888" stroke-width="0.7"/>
<ellipse cx="104" cy="194" rx="2.4" ry="3.2" fill="none" stroke="#666" stroke-width="0.7"/>
<ellipse cx="100" cy="200" rx="2.6" ry="2.4" fill="none" stroke="#666" stroke-width="0.7"/>
<ellipse cx="106.5" cy="203" rx="2.2" ry="2.6" fill="none" stroke="#666" stroke-width="0.7"/>
<ellipse cx="96" cy="195" rx="2" ry="3" fill="none" stroke="#666" stroke-width="0.7"/>
<path d="M35.0,180.1 C36.5,178.4 40.2,172.6 43.9,169.8 C47.6,167.0 51.7,164.8 57.1,163.1 C62.5,161.4 70.6,159.9 76.3,159.4 C82.0,158.9 87.6,159.2 91.1,160.2 C94.5,161.2 95.3,163.2 97.0,165.3 C98.7,167.4 99.9,170.7 101.4,172.7 C102.9,174.7 104.0,176.4 105.8,177.1 C107.6,177.8 111.3,177.1 112.4,177.1" fill="none" stroke="#555" stroke-width="0.85"/>
<path d="M38.0,183.0 C39.2,181.3 41.9,175.5 45.3,172.7 C48.7,169.9 53.4,167.8 58.6,166.1 C63.8,164.4 71.1,162.9 76.3,162.4 C81.5,161.9 86.4,162.1 89.6,163.1 C92.8,164.1 93.8,166.2 95.5,168.3 C97.2,170.4 98.3,173.7 100.0,175.7 C101.7,177.7 103.7,179.4 105.8,180.1 C107.9,180.8 111.3,179.7 112.4,179.6" fill="none" stroke="#555" stroke-width="0.85"/>
<path d="M48.0,186.0 C48.7,184.7 50.0,180.2 52.0,178.0 C54.0,175.8 56.5,173.9 60.0,172.5 C63.5,171.1 68.8,170.0 73.0,169.5 C77.2,169.0 82.2,168.9 85.0,169.5 C87.8,170.1 88.5,171.2 90.0,173.0 C91.5,174.8 92.7,177.7 94.0,180.0 C95.3,182.3 96.5,185.2 98.0,187.0 C99.5,188.8 100.6,191.2 103.0,191.0 C105.4,190.8 110.8,186.8 112.4,186.0" fill="none" stroke="#555" stroke-width="0.85"/>
<path d="M60.0,183.0 C61.0,182.0 63.3,178.5 66.0,177.0 C68.7,175.5 73.3,174.3 76.0,174.0 C78.7,173.7 80.3,174.0 82.0,175.0 C83.7,176.0 84.3,178.0 86.0,180.0 C87.7,182.0 90.0,185.2 92.0,187.0 C94.0,188.8 97.0,190.3 98.0,191.0" fill="none" stroke="#555" stroke-width="0.85"/>
<path d="M52.0,196.0 C54.0,195.7 59.7,194.7 64.0,194.0 C68.3,193.3 73.7,191.8 78.0,192.0 C82.3,192.2 86.3,193.8 90.0,195.0 C93.7,196.2 98.3,198.3 100.0,199.0" fill="none" stroke="#555" stroke-width="0.85"/>
<path d="M56.0,205.0 C58.3,204.3 65.0,201.7 70.0,201.0 C75.0,200.3 81.3,200.3 86.0,201.0 C90.7,201.7 96.0,204.3 98.0,205.0" fill="none" stroke="#555" stroke-width="0.85"/>
<path d="M79.0,194.0 C79.0,196.7 79.0,207.3 79.0,210.0" fill="none" stroke="#555" stroke-width="0.85"/>
<path d="M44.0,197.0 C45.0,195.8 49.0,191.2 50.0,190.0" fill="none" stroke="#555" stroke-width="0.85"/>
<path d="M53.9,196.6 C55.5,195.7 59.4,192.6 63.2,191.3 C67.0,190.0 71.4,188.6 76.5,188.6 C81.6,188.6 90.8,190.9 93.7,191.3" fill="none" stroke="#555" stroke-width="0.85"/>
<path d="M56.5,197.9 C59.6,197.8 69.0,197.3 75.0,197.0 C81.0,196.7 89.5,196.1 92.4,195.9" fill="none" stroke="#555" stroke-width="0.85"/>
<path d="M76.5,189.3 C76.0,192.1 74.2,203.1 73.8,205.9" fill="none" stroke="#555" stroke-width="0.85"/>
<path d="M60.5,204.5 C61.1,203.4 62.8,199.9 64.0,198.0 C65.2,196.1 67.3,193.8 68.0,193.0" fill="none" stroke="#555" stroke-width="0.85"/>
<path d="M49.0,214.0 C49.7,212.2 51.5,206.0 53.0,203.0 C54.5,200.0 57.2,197.2 58.0,196.0" fill="none" stroke="#555" stroke-width="0.85"/>
<path d="M96.0,192.0 C96.7,192.7 98.7,195.7 100.0,196.0 C101.3,196.3 102.7,194.0 104.0,194.0 C105.3,194.0 107.3,195.7 108.0,196.0" fill="none" stroke="#555" stroke-width="0.85"/>
<path d="M98.0,200.0 C98.8,200.5 101.3,202.7 103.0,203.0 C104.7,203.3 107.2,202.2 108.0,202.0" fill="none" stroke="#555" stroke-width="0.85"/>
<path d="M100.0,207.0 C100.8,206.8 103.3,205.8 105.0,206.0 C106.7,206.2 109.2,207.7 110.0,208.0" fill="none" stroke="#555" stroke-width="0.85"/>
<path d="M88.0,196.0 C88.3,197.3 89.3,201.3 90.0,204.0 C90.7,206.7 91.7,210.7 92.0,212.0" fill="none" stroke="#555" stroke-width="0.85"/>
<path d="M112.4,183.0 C111.6,183.5 108.9,185.0 107.3,186.0 C105.7,187.0 104.1,188.9 102.9,188.9 C101.7,188.9 101.2,188.2 100.0,186.0 C98.8,183.8 97.0,178.5 95.5,175.7 C94.0,172.9 92.8,170.6 91.1,169.0 C89.4,167.4 88.2,166.5 85.2,166.1 C82.2,165.7 77.6,166.1 73.4,166.8 C69.2,167.5 64.0,168.8 60.1,170.5 C56.2,172.2 52.2,174.8 49.8,177.1 C47.4,179.4 46.2,182.3 45.5,184.5 C44.8,186.7 44.5,189.2 45.5,190.4 C46.5,191.6 48.0,191.9 51.2,191.9 C54.4,191.9 60.8,191.0 64.5,190.4 C68.2,189.8 70.9,188.8 73.4,188.2 C75.9,187.5 78.5,186.8 79.5,186.5" fill="none" stroke="#111" stroke-width="1.85"/>
<path d="M60.5,181.0 C61.0,180.4 64.1,180.0 66.0,179.5 C67.9,179.0 70.0,178.7 72.0,178.0 C74.0,177.3 76.3,175.9 77.8,175.6 C79.3,175.3 80.2,175.3 81.0,176.2 C81.8,177.1 82.0,179.4 82.8,181.0 C83.6,182.6 85.0,184.4 86.0,185.5 C87.0,186.6 88.7,187.2 89.0,187.8 C89.3,188.4 88.4,189.2 87.6,189.0 C86.8,188.8 85.2,187.6 84.0,186.5 C82.8,185.4 81.7,183.6 80.5,182.5 C79.3,181.4 78.8,180.2 77.0,180.0 C75.2,179.8 72.3,181.0 70.0,181.5 C67.7,182.0 64.6,183.1 63.0,183.0 C61.4,182.9 60.0,181.6 60.5,181.0Z" fill="#111" stroke="none"/>
<path d="M41.0,184.0 C41.6,184.3 42.2,188.8 42.8,192.0 C43.3,195.2 43.9,199.2 44.3,203.0 C44.7,206.8 45.1,211.5 45.2,215.0 C45.3,218.5 47.4,222.5 45.0,224.0 C42.6,225.5 33.2,225.7 31.0,224.0 C28.8,222.3 31.2,217.8 32.0,214.0 C32.8,210.2 34.3,205.0 35.5,201.0 C36.7,197.0 38.1,192.8 39.0,190.0 C39.9,187.2 40.4,183.7 41.0,184.0Z" fill="#111" stroke="none"/>
<path d="M112.4,181.5 C112.1,178.6 111.0,184.1 110.3,185.5 C109.6,186.9 108.2,188.6 108.0,190.0 C107.8,191.4 108.9,192.9 109.3,194.0 C109.7,195.1 110.7,195.4 110.6,196.3 C110.5,197.2 108.9,198.2 108.8,199.2 C108.7,200.2 109.2,201.5 109.8,202.2 C110.4,202.9 112.0,206.6 112.4,203.2 C112.8,199.8 112.8,184.4 112.4,181.5Z" fill="#111" stroke="none"/></g>
<g transform="translate(224.80,0) scale(-1,1)"><path d="M112.2,148.0 C111.9,147.5 111.7,146.1 110.4,145.0 C109.1,143.9 106.8,142.4 104.4,141.4 C102.0,140.4 99.4,139.5 96.0,139.0 C92.6,138.5 87.6,138.5 84.0,138.6 C80.4,138.7 78.4,138.9 74.4,139.6 C70.4,140.3 64.4,141.5 60.0,142.6 C55.6,143.7 51.8,144.9 48.0,146.2 C44.2,147.5 40.2,149.1 37.2,150.4 C34.2,151.7 32.3,152.2 30.0,154.0 C27.7,155.8 26.6,157.3 23.6,161.5 C20.6,165.7 14.7,173.6 11.8,179.2 C9.0,184.8 7.5,190.7 6.5,195.0 C5.5,199.3 6.0,200.7 5.9,205.0 C5.9,209.3 5.5,216.6 6.2,220.6 C6.9,224.6 9.3,226.5 10.3,228.9 C11.3,231.3 11.5,232.7 12.4,235.0 C13.3,237.3 15.4,241.7 16.0,243.0" fill="none" stroke="#4a4a4a" stroke-width="0.85"/>
<path d="M95.4,157.0 C94.5,157.0 93.3,156.7 90.0,157.0 C86.7,157.3 80.6,157.7 75.6,158.8 C70.6,159.9 64.3,162.0 60.0,163.6 C55.7,165.2 52.6,167.1 50.0,168.5 C47.4,169.9 46.2,170.1 44.2,172.0 C42.2,173.9 39.6,177.0 38.0,180.0 C36.4,183.0 35.7,186.2 34.5,190.0 C33.3,193.8 31.8,198.6 31.0,202.8 C30.2,207.0 29.8,211.3 29.5,215.0 C29.2,218.7 29.2,221.7 29.5,225.0 C29.8,228.3 30.8,233.3 31.0,235.0" fill="none" stroke="#4a4a4a" stroke-width="0.8"/>
<path d="M37.8,151.6L49.2,168.4M48.0,146.8L55.8,164.2M73.2,139.8L75.6,158.8M92.4,139.4L90.6,157.0M112.2,148.0L97.2,157.6M112.2,148.0L127.2,157.6M112.4,148.0L112.4,186.0M28.5,155.4L44.2,172.0M21.1,164.9L39.7,177.3M14.4,174.8L36.6,183.2M9.1,185.5L33.6,193.0M6.1,197.1L31.1,202.2M5.8,209.1L29.8,211.5M6.3,221.1L29.3,220.6M11.4,231.9L30.0,228.9" fill="none" stroke="#888" stroke-width="0.7"/>
<ellipse cx="104" cy="194" rx="2.4" ry="3.2" fill="none" stroke="#666" stroke-width="0.7"/>
<ellipse cx="100" cy="200" rx="2.6" ry="2.4" fill="none" stroke="#666" stroke-width="0.7"/>
<ellipse cx="106.5" cy="203" rx="2.2" ry="2.6" fill="none" stroke="#666" stroke-width="0.7"/>
<ellipse cx="96" cy="195" rx="2" ry="3" fill="none" stroke="#666" stroke-width="0.7"/>
<path d="M35.0,180.1 C36.5,178.4 40.2,172.6 43.9,169.8 C47.6,167.0 51.7,164.8 57.1,163.1 C62.5,161.4 70.6,159.9 76.3,159.4 C82.0,158.9 87.6,159.2 91.1,160.2 C94.5,161.2 95.3,163.2 97.0,165.3 C98.7,167.4 99.9,170.7 101.4,172.7 C102.9,174.7 104.0,176.4 105.8,177.1 C107.6,177.8 111.3,177.1 112.4,177.1" fill="none" stroke="#555" stroke-width="0.85"/>
<path d="M38.0,183.0 C39.2,181.3 41.9,175.5 45.3,172.7 C48.7,169.9 53.4,167.8 58.6,166.1 C63.8,164.4 71.1,162.9 76.3,162.4 C81.5,161.9 86.4,162.1 89.6,163.1 C92.8,164.1 93.8,166.2 95.5,168.3 C97.2,170.4 98.3,173.7 100.0,175.7 C101.7,177.7 103.7,179.4 105.8,180.1 C107.9,180.8 111.3,179.7 112.4,179.6" fill="none" stroke="#555" stroke-width="0.85"/>
<path d="M48.0,186.0 C48.7,184.7 50.0,180.2 52.0,178.0 C54.0,175.8 56.5,173.9 60.0,172.5 C63.5,171.1 68.8,170.0 73.0,169.5 C77.2,169.0 82.2,168.9 85.0,169.5 C87.8,170.1 88.5,171.2 90.0,173.0 C91.5,174.8 92.7,177.7 94.0,180.0 C95.3,182.3 96.5,185.2 98.0,187.0 C99.5,188.8 100.6,191.2 103.0,191.0 C105.4,190.8 110.8,186.8 112.4,186.0" fill="none" stroke="#555" stroke-width="0.85"/>
<path d="M60.0,183.0 C61.0,182.0 63.3,178.5 66.0,177.0 C68.7,175.5 73.3,174.3 76.0,174.0 C78.7,173.7 80.3,174.0 82.0,175.0 C83.7,176.0 84.3,178.0 86.0,180.0 C87.7,182.0 90.0,185.2 92.0,187.0 C94.0,188.8 97.0,190.3 98.0,191.0" fill="none" stroke="#555" stroke-width="0.85"/>
<path d="M52.0,196.0 C54.0,195.7 59.7,194.7 64.0,194.0 C68.3,193.3 73.7,191.8 78.0,192.0 C82.3,192.2 86.3,193.8 90.0,195.0 C93.7,196.2 98.3,198.3 100.0,199.0" fill="none" stroke="#555" stroke-width="0.85"/>
<path d="M56.0,205.0 C58.3,204.3 65.0,201.7 70.0,201.0 C75.0,200.3 81.3,200.3 86.0,201.0 C90.7,201.7 96.0,204.3 98.0,205.0" fill="none" stroke="#555" stroke-width="0.85"/>
<path d="M79.0,194.0 C79.0,196.7 79.0,207.3 79.0,210.0" fill="none" stroke="#555" stroke-width="0.85"/>
<path d="M44.0,197.0 C45.0,195.8 49.0,191.2 50.0,190.0" fill="none" stroke="#555" stroke-width="0.85"/>
<path d="M53.9,196.6 C55.5,195.7 59.4,192.6 63.2,191.3 C67.0,190.0 71.4,188.6 76.5,188.6 C81.6,188.6 90.8,190.9 93.7,191.3" fill="none" stroke="#555" stroke-width="0.85"/>
<path d="M56.5,197.9 C59.6,197.8 69.0,197.3 75.0,197.0 C81.0,196.7 89.5,196.1 92.4,195.9" fill="none" stroke="#555" stroke-width="0.85"/>
<path d="M76.5,189.3 C76.0,192.1 74.2,203.1 73.8,205.9" fill="none" stroke="#555" stroke-width="0.85"/>
<path d="M60.5,204.5 C61.1,203.4 62.8,199.9 64.0,198.0 C65.2,196.1 67.3,193.8 68.0,193.0" fill="none" stroke="#555" stroke-width="0.85"/>
<path d="M49.0,214.0 C49.7,212.2 51.5,206.0 53.0,203.0 C54.5,200.0 57.2,197.2 58.0,196.0" fill="none" stroke="#555" stroke-width="0.85"/>
<path d="M96.0,192.0 C96.7,192.7 98.7,195.7 100.0,196.0 C101.3,196.3 102.7,194.0 104.0,194.0 C105.3,194.0 107.3,195.7 108.0,196.0" fill="none" stroke="#555" stroke-width="0.85"/>
<path d="M98.0,200.0 C98.8,200.5 101.3,202.7 103.0,203.0 C104.7,203.3 107.2,202.2 108.0,202.0" fill="none" stroke="#555" stroke-width="0.85"/>
<path d="M100.0,207.0 C100.8,206.8 103.3,205.8 105.0,206.0 C106.7,206.2 109.2,207.7 110.0,208.0" fill="none" stroke="#555" stroke-width="0.85"/>
<path d="M88.0,196.0 C88.3,197.3 89.3,201.3 90.0,204.0 C90.7,206.7 91.7,210.7 92.0,212.0" fill="none" stroke="#555" stroke-width="0.85"/>
<path d="M112.4,183.0 C111.6,183.5 108.9,185.0 107.3,186.0 C105.7,187.0 104.1,188.9 102.9,188.9 C101.7,188.9 101.2,188.2 100.0,186.0 C98.8,183.8 97.0,178.5 95.5,175.7 C94.0,172.9 92.8,170.6 91.1,169.0 C89.4,167.4 88.2,166.5 85.2,166.1 C82.2,165.7 77.6,166.1 73.4,166.8 C69.2,167.5 64.0,168.8 60.1,170.5 C56.2,172.2 52.2,174.8 49.8,177.1 C47.4,179.4 46.2,182.3 45.5,184.5 C44.8,186.7 44.5,189.2 45.5,190.4 C46.5,191.6 48.0,191.9 51.2,191.9 C54.4,191.9 60.8,191.0 64.5,190.4 C68.2,189.8 70.9,188.8 73.4,188.2 C75.9,187.5 78.5,186.8 79.5,186.5" fill="none" stroke="#111" stroke-width="1.85"/>
<path d="M60.5,181.0 C61.0,180.4 64.1,180.0 66.0,179.5 C67.9,179.0 70.0,178.7 72.0,178.0 C74.0,177.3 76.3,175.9 77.8,175.6 C79.3,175.3 80.2,175.3 81.0,176.2 C81.8,177.1 82.0,179.4 82.8,181.0 C83.6,182.6 85.0,184.4 86.0,185.5 C87.0,186.6 88.7,187.2 89.0,187.8 C89.3,188.4 88.4,189.2 87.6,189.0 C86.8,188.8 85.2,187.6 84.0,186.5 C82.8,185.4 81.7,183.6 80.5,182.5 C79.3,181.4 78.8,180.2 77.0,180.0 C75.2,179.8 72.3,181.0 70.0,181.5 C67.7,182.0 64.6,183.1 63.0,183.0 C61.4,182.9 60.0,181.6 60.5,181.0Z" fill="#111" stroke="none"/>
<path d="M41.0,184.0 C41.6,184.3 42.2,188.8 42.8,192.0 C43.3,195.2 43.9,199.2 44.3,203.0 C44.7,206.8 45.1,211.5 45.2,215.0 C45.3,218.5 47.4,222.5 45.0,224.0 C42.6,225.5 33.2,225.7 31.0,224.0 C28.8,222.3 31.2,217.8 32.0,214.0 C32.8,210.2 34.3,205.0 35.5,201.0 C36.7,197.0 38.1,192.8 39.0,190.0 C39.9,187.2 40.4,183.7 41.0,184.0Z" fill="#111" stroke="none"/>
<path d="M112.4,181.5 C112.1,178.6 111.0,184.1 110.3,185.5 C109.6,186.9 108.2,188.6 108.0,190.0 C107.8,191.4 108.9,192.9 109.3,194.0 C109.7,195.1 110.7,195.4 110.6,196.3 C110.5,197.2 108.9,198.2 108.8,199.2 C108.7,200.2 109.2,201.5 109.8,202.2 C110.4,202.9 112.0,206.6 112.4,203.2 C112.8,199.8 112.8,184.4 112.4,181.5Z" fill="#111" stroke="none"/></g>
<line x1="122.6" y1="169.7" x2="122.6" y2="201" stroke="#1fb04b" stroke-width="2.3"/>
<line x1="125.7" y1="165.3" x2="125.7" y2="196.8" stroke="#1fb04b" stroke-width="2.3"/>
<line x1="136.4" y1="164.5" x2="136.4" y2="196.6" stroke="#2aa8e2" stroke-width="2.3"/>
<line x1="143" y1="165.3" x2="143" y2="196.8" stroke="#2aa8e2" stroke-width="2.3"/>
<text x="156.0" y="161.3" font-size="14.3" fill="#111" stroke="#111" stroke-width="0.3">-3.96</text>
<path d="M112.8,215.2 L112.7,215.1 L112.6,215.0 L112.5,214.8 L112.4,214.7 L112.2,214.5 L112.1,214.4 L111.9,214.2 L111.8,214.0 L111.6,213.8 L111.5,213.6 L111.3,213.4 L111.1,213.2 L110.9,213.0 L110.7,212.7 L110.4,212.5 L110.2,212.3 L110.0,212.1 L109.7,212.0 L109.5,211.8 L109.2,211.6 L108.9,211.4 L108.6,211.3 L108.4,211.1 L108.1,210.9 L107.8,210.8 L107.5,210.6 L107.1,210.4 L106.8,210.3 L106.5,210.1 L106.1,210.0 L105.8,209.8 L105.4,209.7 L105.0,209.5 L104.6,209.4 L104.2,209.2 L103.8,209.1 L103.4,209.0 L102.9,208.8 L102.5,208.7 L102.0,208.6 L101.5,208.5 L101.0,208.4 L100.5,208.3 L99.9,208.2 L99.3,208.1 L98.8,208.0 L98.2,207.9 L97.5,207.8 L96.9,207.8 L96.3,207.7 L95.7,207.6 L95.0,207.6 L94.4,207.5 L93.8,207.4 L93.1,207.4 L92.5,207.3 L91.8,207.3 L91.2,207.3 L90.6,207.2 L90.0,207.2 L89.4,207.2 L88.8,207.2 L88.2,207.2 L87.6,207.1 L87.0,207.1 L86.4,207.1 L85.8,207.2 L85.2,207.2 L84.6,207.2 L84.0,207.2 L83.4,207.2 L82.8,207.3 L82.2,207.3 L81.6,207.3 L81.0,207.4 L80.4,207.4 L79.8,207.5 L79.2,207.5 L78.6,207.6 L78.0,207.6 L77.4,207.6 L76.8,207.7 L76.2,207.8 L75.6,207.8 L75.0,207.9 L74.3,207.9 L73.7,208.0 L73.1,208.0 L72.5,208.1 L71.9,208.2 L71.3,208.2 L70.7,208.3 L70.1,208.4 L69.5,208.5 L68.9,208.6 L68.3,208.7 L67.7,208.8 L67.1,208.9 L66.6,209.1 L66.0,209.2 L65.5,209.4 L64.9,209.5 L64.4,209.7 L63.9,209.9 L63.4,210.0 L62.9,210.2 L62.4,210.4 L62.0,210.6 L61.5,210.9 L61.0,211.1 L60.5,211.3 L60.0,211.5 L59.5,211.8 L59.0,212.0 L58.5,212.2 L58.0,212.5 L57.5,212.7 L56.9,212.9 L56.3,213.2 L55.7,213.4 L55.1,213.6 L54.4,213.9 L53.8,214.1 L53.1,214.3 L52.4,214.6 L51.7,214.8 L51.0,215.0 L50.2,215.3 L49.5,215.5 L48.8,215.8 L48.0,216.0 L47.3,216.3 L46.5,216.5 L45.8,216.8 L45.0,217.1 L44.3,217.4 L43.5,217.6 L42.8,218.0 L42.0,218.3 L41.3,218.6 L40.6,218.9 L39.8,219.3 L39.1,219.7 L38.3,220.0 L37.5,220.4 L36.8,220.8 L36.0,221.2 L35.2,221.7 L34.4,222.1 L33.7,222.5 L32.9,222.9 L32.2,223.4 L31.4,223.8 L30.7,224.2 L30.0,224.7 L29.3,225.1 L28.6,225.5 L28.0,226.0 L27.4,226.4 L26.8,226.8 L26.2,227.2 L25.7,227.6 L25.2,228.0 L24.7,228.5 L24.3,228.9 L23.8,229.3 L23.4,229.7 L23.0,230.1 L22.6,230.5 L22.2,230.9 L21.8,231.4 L21.4,231.8 L21.1,232.2 L20.7,232.6 L20.4,233.0 L20.0,233.4 L19.7,233.9 L19.3,234.3 L19.0,234.7 L18.6,235.1 L18.2,235.5 L17.9,235.9 L17.5,236.3 L17.2,236.7 L16.9,237.1 L16.5,237.5 L16.2,237.8 L15.9,238.2 L15.6,238.6 L15.2,239.0 L14.9,239.4 L14.6,239.8 L14.3,240.2 L14.0,240.6 L13.8,241.0 L13.5,241.5 L13.2,241.9 L12.9,242.4 L12.7,242.9 L12.4,243.4 L12.1,243.9 L11.9,244.5 L11.7,245.0 L11.4,245.6 L11.2,246.2 L11.0,246.8 L10.8,247.4 L10.5,248.1 L10.3,248.7 L10.1,249.4 L9.9,250.0 L9.7,250.7 L9.6,251.3 L9.4,252.0 L9.2,252.6 L9.0,253.3 L8.8,253.9 L8.6,254.5 L8.5,255.2 L8.3,255.8 L8.1,256.4 L8.0,257.0 L7.8,257.7 L7.6,258.3 L7.5,258.9 L7.3,259.5 L7.2,260.2 L7.0,260.8 L6.9,261.4 L6.8,262.0 L6.6,262.7 L6.5,263.3 L6.4,263.9 L6.2,264.5 L6.1,265.1 L6.0,265.7 L5.9,266.3 L5.7,266.9 L5.6,267.4 L5.5,268.0 L5.4,268.6 L5.3,269.1 L5.1,269.6 L5.0,270.2 L4.9,270.7 L4.7,271.2 L4.6,271.7 L4.5,272.2 L4.4,272.7 L4.3,273.2 L4.2,273.7 L4.1,274.2 L4.0,274.7 L3.9,275.2 L3.8,275.6 L3.7,276.1 L3.6,276.6 L3.6,277.1 L3.5,277.5 L3.5,278.0 L3.5,278.5 L3.5,278.9 L3.4,279.4 L3.4,279.8 L3.4,280.3 L3.4,280.7 L3.5,281.2 L3.5,281.6 L3.5,282.0 L3.6,282.5 L3.6,282.9 L3.7,283.3 L3.7,283.8 L3.8,284.2 L3.9,284.6 L4.0,285.1 L4.1,285.5 L4.2,285.9 L4.3,286.4 L4.4,286.8 L4.5,287.2 L4.7,287.7 L4.9,288.2 L5.1,288.6 L5.3,289.1 L5.5,289.6 L5.7,290.0 L6.0,290.5 L6.2,291.0 L6.5,291.4 L6.7,291.9 L7.0,292.3 L7.2,292.8 L7.5,293.2 L7.7,293.6 L7.9,294.0 L8.1,294.4 L8.3,294.8 L8.5,295.2 L8.7,295.5 L8.9,295.8 L9.0,296.1 L9.2,296.4 L9.3,296.6 L9.5,296.9 L9.7,297.1 L9.8,297.3 L9.9,297.5 L10.1,297.7 L10.2,297.9 L10.3,298.1 L10.4,298.3 L10.5,298.5 L10.6,298.6 L10.7,298.8 L10.8,299.0 L10.8,299.2 L10.9,299.4 L10.9,299.7 L10.9,299.9 L10.9,300.1 L10.8,300.4 L10.8,300.6 L10.7,300.8 L10.5,301.1 L10.4,301.3 L10.2,301.5 L10.1,301.8 L9.9,302.0 L9.7,302.3 L9.6,302.5 L9.4,302.8 L9.2,303.0 L9.1,303.3 L9.0,303.6 L8.9,303.9 L8.8,304.2 L8.7,304.6 L8.7,304.9 L8.7,305.3 L8.7,305.7 L8.8,306.1 L8.9,306.6 L9.0,307.0 L9.1,307.5 L9.2,308.0 L9.4,308.5 L9.5,309.0 L9.7,309.5 L9.9,310.0 L10.1,310.6 L10.3,311.1 L10.5,311.6 L10.7,312.2 L10.9,312.7 L11.1,313.2 L11.3,313.7 L11.6,314.2 L11.8,314.7 L12.0,315.2 L12.2,315.7 L12.4,316.1 L12.7,316.6 L12.9,317.1 L13.1,317.5 L13.4,318.0 L13.6,318.4 L13.8,318.9 L14.1,319.3 L14.4,319.8 L14.6,320.2 L14.9,320.6 L15.2,321.1 L15.5,321.5 L15.8,321.9 L16.1,322.3 L16.4,322.7 L16.7,323.1 L17.1,323.5 L17.4,323.9 L17.8,324.3 L18.1,324.6 L18.5,325.0 L18.9,325.4 L19.3,325.7 L19.7,326.1 L20.1,326.4 L20.6,326.8 L21.0,327.1 L21.5,327.4 L21.9,327.7 L22.4,328.1 L22.8,328.4 L23.3,328.7 L23.8,329.0 L24.3,329.3 L24.7,329.6 L25.2,329.8 L25.7,330.1 L26.2,330.4 L26.7,330.7 L27.2,330.9 L27.7,331.2 L28.2,331.5 L28.7,331.7 L29.2,332.0 L29.8,332.2 L30.3,332.4 L30.8,332.7 L31.4,332.9 L31.9,333.1 L32.5,333.3 L33.0,333.5 L33.6,333.7 L34.2,333.9 L34.7,334.1 L35.3,334.3 L35.9,334.5 L36.5,334.6 L37.1,334.8 L37.7,334.9 L38.3,335.1 L38.9,335.2 L39.5,335.4 L40.2,335.5 L40.8,335.6 L41.4,335.7 L42.1,335.8 L42.7,335.9 L43.4,336.0 L44.0,336.1 L44.7,336.2 L45.4,336.3 L46.0,336.3 L46.7,336.4 L47.4,336.4 L48.1,336.5 L48.8,336.5 L49.5,336.5 L50.2,336.5 L50.9,336.5 L51.7,336.5 L52.4,336.5 L53.2,336.4 L54.0,336.4 L54.8,336.3 L55.6,336.3 L56.4,336.2 L57.3,336.1 L58.1,336.1 L58.9,336.0 L59.7,335.9 L60.5,335.8 L61.3,335.6 L62.0,335.5 L62.7,335.4 L63.5,335.3 L64.1,335.1 L64.8,335.0 L65.4,334.8 L66.0,334.6 L66.5,334.5 L67.0,334.3 L67.5,334.1 L68.0,333.8 L68.5,333.6 L68.9,333.4 L69.3,333.2 L69.7,332.9 L70.1,332.7 L70.5,332.4 L70.8,332.2 L71.2,331.9 L71.6,331.6 L72.0,331.4 L72.4,331.1 L72.8,330.8 L73.2,330.5 L73.6,330.3 L74.0,330.0 L74.4,329.7 L74.9,329.4 L75.4,329.1 L75.8,328.8 L76.3,328.5 L76.8,328.2 L77.2,327.9 L77.7,327.6 L78.2,327.2 L78.7,326.9 L79.1,326.6 L79.6,326.3 L80.1,326.0 L80.5,325.7 L81.0,325.4 L81.4,325.1 L81.8,324.8 L82.2,324.5 L82.6,324.2 L83.0,324.0 L83.4,323.8 L83.7,323.5 L84.1,323.3 L84.4,323.0 L84.7,322.8 L85.0,322.6 L85.3,322.4 L85.6,322.1 L85.9,321.9 L86.2,321.7 L86.5,321.5 L86.7,321.3 L87.0,321.2 L87.3,321.0 L87.6,320.9 L87.8,320.8 L88.1,320.7 L88.4,320.6 L88.7,320.5 L89.0,320.5 L89.3,320.5 L89.6,320.5 L89.9,320.5 L90.2,320.6 L90.5,320.6 L90.8,320.7 L91.1,320.8 L91.4,320.9 L91.7,321.1 L92.0,321.2 L92.3,321.4 L92.6,321.5 L92.9,321.7 L93.2,321.9 L93.5,322.1 L93.8,322.2 L94.1,322.4 L94.4,322.6 L94.7,322.8 L95.0,323.0 L95.3,323.2 L95.6,323.4 L95.9,323.6 L96.2,323.9 L96.5,324.1 L96.8,324.4 L97.1,324.6 L97.4,324.9 L97.8,325.2 L98.1,325.5 L98.4,325.7 L98.7,326.0 L99.0,326.3 L99.3,326.6 L99.6,326.8 L99.9,327.1 L100.2,327.3 L100.4,327.6 L100.7,327.8 L101.0,328.0 L101.3,328.2 L101.5,328.4 L101.8,328.6 L102.0,328.7 L102.3,328.9 L102.5,329.1 L102.7,329.2 L103.0,329.4 L103.2,329.5 L103.4,329.7 L103.7,329.8 L103.9,330.0 L104.1,330.1 L104.4,330.2 L104.6,330.4 L104.9,330.5 L105.2,330.6 L105.4,330.7 L105.7,330.9 L106.0,331.0 L106.3,331.1 L106.6,331.2 L107.0,331.4 L107.4,331.5 L107.8,331.6 L108.1,331.7 L108.5,331.9 L109.0,332.0 L109.4,332.1 L109.8,332.2 L110.2,332.3 L110.5,332.4 L110.9,332.5 L111.3,332.6 L111.6,332.7 L111.9,332.7 L112.2,332.8 L112.5,332.9 L112.7,332.9 L112.9,333.0 L112.9,339.0 L112.9,339.0 L112.9,333.0 L113.1,332.9 L113.3,332.9 L113.6,332.8 L113.9,332.7 L114.2,332.7 L114.5,332.6 L114.9,332.5 L115.3,332.4 L115.6,332.3 L116.0,332.2 L116.4,332.1 L116.8,332.0 L117.3,331.9 L117.7,331.7 L118.0,331.6 L118.4,331.5 L118.8,331.4 L119.2,331.2 L119.5,331.1 L119.8,331.0 L120.1,330.9 L120.4,330.7 L120.6,330.6 L120.9,330.5 L121.2,330.4 L121.4,330.2 L121.7,330.1 L121.9,330.0 L122.1,329.8 L122.4,329.7 L122.6,329.5 L122.8,329.4 L123.1,329.2 L123.3,329.1 L123.5,328.9 L123.8,328.7 L124.0,328.6 L124.3,328.4 L124.5,328.2 L124.8,328.0 L125.1,327.8 L125.4,327.6 L125.6,327.3 L125.9,327.1 L126.2,326.8 L126.5,326.6 L126.8,326.3 L127.1,326.0 L127.4,325.7 L127.7,325.5 L128.0,325.2 L128.4,324.9 L128.7,324.6 L129.0,324.4 L129.3,324.1 L129.6,323.9 L129.9,323.6 L130.2,323.4 L130.5,323.2 L130.8,323.0 L131.1,322.8 L131.4,322.6 L131.7,322.4 L132.0,322.2 L132.3,322.1 L132.6,321.9 L132.9,321.7 L133.2,321.5 L133.5,321.4 L133.8,321.2 L134.1,321.1 L134.4,320.9 L134.7,320.8 L135.0,320.7 L135.3,320.6 L135.6,320.6 L135.9,320.5 L136.2,320.5 L136.5,320.5 L136.8,320.5 L137.1,320.5 L137.4,320.6 L137.7,320.7 L138.0,320.8 L138.2,320.9 L138.5,321.0 L138.8,321.2 L139.1,321.3 L139.3,321.5 L139.6,321.7 L139.9,321.9 L140.2,322.1 L140.5,322.4 L140.8,322.6 L141.1,322.8 L141.4,323.0 L141.7,323.3 L142.1,323.5 L142.4,323.8 L142.8,324.0 L143.2,324.2 L143.6,324.5 L144.0,324.8 L144.4,325.1 L144.8,325.4 L145.3,325.7 L145.7,326.0 L146.2,326.3 L146.7,326.6 L147.1,326.9 L147.6,327.2 L148.1,327.6 L148.6,327.9 L149.0,328.2 L149.5,328.5 L150.0,328.8 L150.4,329.1 L150.9,329.4 L151.4,329.7 L151.8,330.0 L152.2,330.3 L152.6,330.5 L153.0,330.8 L153.4,331.1 L153.8,331.4 L154.2,331.6 L154.6,331.9 L155.0,332.2 L155.3,332.4 L155.7,332.7 L156.1,332.9 L156.5,333.2 L156.9,333.4 L157.3,333.6 L157.8,333.8 L158.3,334.1 L158.8,334.3 L159.3,334.5 L159.8,334.6 L160.4,334.8 L161.0,335.0 L161.7,335.1 L162.3,335.3 L163.1,335.4 L163.8,335.5 L164.5,335.6 L165.3,335.8 L166.1,335.9 L166.9,336.0 L167.7,336.1 L168.5,336.1 L169.4,336.2 L170.2,336.3 L171.0,336.3 L171.8,336.4 L172.6,336.4 L173.4,336.5 L174.1,336.5 L174.9,336.5 L175.6,336.5 L176.3,336.5 L177.0,336.5 L177.7,336.5 L178.4,336.4 L179.1,336.4 L179.8,336.3 L180.4,336.3 L181.1,336.2 L181.8,336.1 L182.4,336.0 L183.1,335.9 L183.7,335.8 L184.4,335.7 L185.0,335.6 L185.6,335.5 L186.3,335.4 L186.9,335.2 L187.5,335.1 L188.1,334.9 L188.7,334.8 L189.3,334.6 L189.9,334.5 L190.5,334.3 L191.1,334.1 L191.6,333.9 L192.2,333.7 L192.8,333.5 L193.3,333.3 L193.9,333.1 L194.4,332.9 L195.0,332.7 L195.5,332.4 L196.0,332.2 L196.6,332.0 L197.1,331.7 L197.6,331.5 L198.1,331.2 L198.6,330.9 L199.1,330.7 L199.6,330.4 L200.1,330.1 L200.6,329.8 L201.1,329.6 L201.5,329.3 L202.0,329.0 L202.5,328.7 L203.0,328.4 L203.4,328.1 L203.9,327.7 L204.3,327.4 L204.8,327.1 L205.2,326.8 L205.7,326.4 L206.1,326.1 L206.5,325.7 L206.9,325.4 L207.3,325.0 L207.7,324.6 L208.0,324.3 L208.4,323.9 L208.7,323.5 L209.1,323.1 L209.4,322.7 L209.7,322.3 L210.0,321.9 L210.3,321.5 L210.6,321.1 L210.9,320.6 L211.2,320.2 L211.4,319.8 L211.7,319.3 L212.0,318.9 L212.2,318.4 L212.4,318.0 L212.7,317.5 L212.9,317.1 L213.1,316.6 L213.4,316.1 L213.6,315.7 L213.8,315.2 L214.0,314.7 L214.2,314.2 L214.5,313.7 L214.7,313.2 L214.9,312.7 L215.1,312.2 L215.3,311.6 L215.5,311.1 L215.7,310.6 L215.9,310.0 L216.1,309.5 L216.3,309.0 L216.4,308.5 L216.6,308.0 L216.7,307.5 L216.8,307.0 L216.9,306.6 L217.0,306.1 L217.1,305.7 L217.1,305.3 L217.1,304.9 L217.1,304.6 L217.0,304.2 L216.9,303.9 L216.8,303.6 L216.7,303.3 L216.6,303.0 L216.4,302.8 L216.2,302.5 L216.1,302.3 L215.9,302.0 L215.7,301.8 L215.6,301.5 L215.4,301.3 L215.3,301.1 L215.1,300.8 L215.0,300.6 L215.0,300.4 L214.9,300.1 L214.9,299.9 L214.9,299.7 L214.9,299.4 L215.0,299.2 L215.0,299.0 L215.1,298.8 L215.2,298.6 L215.3,298.5 L215.4,298.3 L215.5,298.1 L215.6,297.9 L215.7,297.7 L215.9,297.5 L216.0,297.3 L216.1,297.1 L216.3,296.9 L216.5,296.6 L216.6,296.4 L216.8,296.1 L216.9,295.8 L217.1,295.5 L217.3,295.2 L217.5,294.8 L217.7,294.4 L217.9,294.0 L218.1,293.6 L218.3,293.2 L218.6,292.8 L218.8,292.3 L219.1,291.9 L219.3,291.4 L219.6,291.0 L219.8,290.5 L220.1,290.0 L220.3,289.6 L220.5,289.1 L220.7,288.6 L220.9,288.2 L221.1,287.7 L221.3,287.2 L221.4,286.8 L221.5,286.4 L221.6,285.9 L221.7,285.5 L221.8,285.1 L221.9,284.6 L222.0,284.2 L222.1,283.8 L222.1,283.3 L222.2,282.9 L222.2,282.5 L222.3,282.0 L222.3,281.6 L222.3,281.2 L222.4,280.7 L222.4,280.3 L222.4,279.8 L222.4,279.4 L222.3,278.9 L222.3,278.5 L222.3,278.0 L222.3,277.5 L222.2,277.1 L222.2,276.6 L222.1,276.1 L222.0,275.6 L221.9,275.2 L221.8,274.7 L221.7,274.2 L221.6,273.7 L221.5,273.2 L221.4,272.7 L221.3,272.2 L221.2,271.7 L221.1,271.2 L220.9,270.7 L220.8,270.2 L220.7,269.6 L220.5,269.1 L220.4,268.6 L220.3,268.0 L220.2,267.4 L220.1,266.9 L219.9,266.3 L219.8,265.7 L219.7,265.1 L219.6,264.5 L219.4,263.9 L219.3,263.3 L219.2,262.7 L219.0,262.0 L218.9,261.4 L218.8,260.8 L218.6,260.2 L218.5,259.5 L218.3,258.9 L218.2,258.3 L218.0,257.7 L217.8,257.0 L217.7,256.4 L217.5,255.8 L217.3,255.2 L217.2,254.5 L217.0,253.9 L216.8,253.3 L216.6,252.6 L216.4,252.0 L216.2,251.3 L216.1,250.7 L215.9,250.0 L215.7,249.4 L215.5,248.7 L215.3,248.1 L215.0,247.4 L214.8,246.8 L214.6,246.2 L214.4,245.6 L214.1,245.0 L213.9,244.5 L213.7,243.9 L213.4,243.4 L213.1,242.9 L212.9,242.4 L212.6,241.9 L212.3,241.5 L212.0,241.0 L211.8,240.6 L211.5,240.2 L211.2,239.8 L210.9,239.4 L210.6,239.0 L210.2,238.6 L209.9,238.2 L209.6,237.8 L209.3,237.5 L208.9,237.1 L208.6,236.7 L208.3,236.3 L207.9,235.9 L207.6,235.5 L207.2,235.1 L206.8,234.7 L206.5,234.3 L206.1,233.9 L205.8,233.4 L205.4,233.0 L205.1,232.6 L204.7,232.2 L204.4,231.8 L204.0,231.4 L203.6,230.9 L203.2,230.5 L202.8,230.1 L202.4,229.7 L202.0,229.3 L201.5,228.9 L201.1,228.5 L200.6,228.0 L200.1,227.6 L199.6,227.2 L199.0,226.8 L198.4,226.4 L197.8,226.0 L197.2,225.5 L196.5,225.1 L195.8,224.7 L195.1,224.2 L194.4,223.8 L193.6,223.4 L192.9,222.9 L192.1,222.5 L191.4,222.1 L190.6,221.7 L189.8,221.2 L189.0,220.8 L188.3,220.4 L187.5,220.0 L186.7,219.7 L186.0,219.3 L185.2,218.9 L184.5,218.6 L183.8,218.3 L183.0,218.0 L182.3,217.6 L181.5,217.4 L180.8,217.1 L180.0,216.8 L179.3,216.5 L178.5,216.3 L177.8,216.0 L177.0,215.8 L176.3,215.5 L175.6,215.3 L174.8,215.0 L174.1,214.8 L173.4,214.6 L172.7,214.3 L172.0,214.1 L171.4,213.9 L170.7,213.6 L170.1,213.4 L169.5,213.2 L168.9,212.9 L168.3,212.7 L167.8,212.5 L167.3,212.2 L166.8,212.0 L166.3,211.8 L165.8,211.5 L165.3,211.3 L164.8,211.1 L164.3,210.9 L163.8,210.6 L163.4,210.4 L162.9,210.2 L162.4,210.0 L161.9,209.9 L161.4,209.7 L160.9,209.5 L160.3,209.4 L159.8,209.2 L159.2,209.1 L158.7,208.9 L158.1,208.8 L157.5,208.7 L156.9,208.6 L156.3,208.5 L155.7,208.4 L155.1,208.3 L154.5,208.2 L153.9,208.2 L153.3,208.1 L152.7,208.0 L152.1,208.0 L151.5,207.9 L150.8,207.9 L150.2,207.8 L149.6,207.8 L149.0,207.7 L148.4,207.6 L147.8,207.6 L147.2,207.6 L146.6,207.5 L146.0,207.5 L145.4,207.4 L144.8,207.4 L144.2,207.3 L143.6,207.3 L143.0,207.3 L142.4,207.2 L141.8,207.2 L141.2,207.2 L140.6,207.2 L140.0,207.2 L139.4,207.1 L138.8,207.1 L138.2,207.1 L137.6,207.2 L137.0,207.2 L136.4,207.2 L135.8,207.2 L135.2,207.2 L134.6,207.3 L134.0,207.3 L133.3,207.3 L132.7,207.4 L132.0,207.4 L131.4,207.5 L130.8,207.6 L130.1,207.6 L129.5,207.7 L128.9,207.8 L128.3,207.8 L127.6,207.9 L127.0,208.0 L126.5,208.1 L125.9,208.2 L125.3,208.3 L124.8,208.4 L124.3,208.5 L123.8,208.6 L123.3,208.7 L122.9,208.8 L122.4,209.0 L122.0,209.1 L121.6,209.2 L121.2,209.4 L120.8,209.5 L120.4,209.7 L120.0,209.8 L119.7,210.0 L119.3,210.1 L119.0,210.3 L118.7,210.4 L118.3,210.6 L118.0,210.8 L117.7,210.9 L117.4,211.1 L117.2,211.3 L116.9,211.4 L116.6,211.6 L116.3,211.8 L116.1,212.0 L115.8,212.1 L115.6,212.3 L115.4,212.5 L115.1,212.7 L114.9,213.0 L114.7,213.2 L114.5,213.4 L114.3,213.6 L114.2,213.8 L114.0,214.0 L113.9,214.2 L113.7,214.4 L113.6,214.5 L113.4,214.7 L113.3,214.8 L113.2,215.0 L113.1,215.1 L113.0,215.2Z" fill="#fff" stroke="none"/>
<g><path d="M112.8,215.2 C112.2,214.6 111.0,212.7 109.2,211.6 C107.4,210.5 105.2,209.3 102.0,208.6 C98.8,207.9 94.0,207.4 90.0,207.2 C86.0,207.0 82.0,207.3 78.0,207.6 C74.0,207.9 69.7,208.2 66.0,209.2 C62.3,210.2 59.8,211.8 55.7,213.4 C51.6,215.0 46.1,216.4 41.3,218.6 C36.5,220.8 30.6,224.1 26.8,226.8 C23.0,229.6 21.0,232.3 18.6,235.1 C16.2,237.9 14.1,239.9 12.4,243.4 C10.7,246.9 9.5,251.7 8.3,255.8 C7.2,259.9 6.3,264.3 5.5,268.0 C4.7,271.7 3.7,274.9 3.5,278.0 C3.3,281.1 3.5,283.9 4.4,286.8 C5.3,289.7 7.6,293.3 8.7,295.5 C9.8,297.7 10.9,298.3 10.9,299.9 C10.9,301.5 8.5,302.8 8.7,305.3 C8.9,307.9 10.6,312.1 12.0,315.2 C13.4,318.3 15.0,321.4 17.4,323.9 C19.8,326.4 22.9,328.6 26.2,330.4 C29.5,332.2 33.1,333.8 37.1,334.8 C41.1,335.8 45.5,336.5 50.2,336.5 C54.9,336.5 61.4,335.9 65.4,334.8 C69.4,333.7 71.1,331.8 74.0,330.0 C76.9,328.2 80.5,325.6 83.0,324.0 C85.5,322.4 87.0,320.7 89.0,320.5 C91.0,320.3 93.0,321.8 95.0,323.0 C97.0,324.2 99.2,326.7 101.0,328.0 C102.8,329.3 104.0,330.2 106.0,331.0 C108.0,331.8 111.8,332.7 112.9,333.0" fill="none" stroke="#4a4a4a" stroke-width="0.85"/>
<path d="M94.8,225.4 C92.4,225.4 84.5,225.2 80.4,225.4 C76.3,225.6 73.8,226.0 70.0,226.8 C66.2,227.6 61.5,228.4 57.8,230.0 C54.0,231.6 50.2,233.7 47.5,236.1 C44.8,238.5 43.0,241.1 41.3,244.4 C39.6,247.7 38.4,252.5 37.2,255.8 C36.0,259.1 35.4,261.6 34.0,264.0 C32.6,266.4 30.1,266.9 29.0,270.0 C27.9,273.1 27.4,278.1 27.3,282.4 C27.2,286.6 27.8,291.5 28.3,295.5 C28.8,299.5 29.2,303.3 30.5,306.4 C31.8,309.5 33.8,312.1 36.0,314.1 C38.2,316.1 40.5,316.9 43.6,318.4 C46.7,319.8 50.1,321.5 54.5,322.8 C58.9,324.1 65.8,326.1 70.0,326.0 C74.2,325.9 78.3,322.7 80.0,322.0" fill="none" stroke="#4a4a4a" stroke-width="0.8"/>
<path d="M37.2,220.0L49.2,234.4M54.6,212.2L61.8,227.8M74.4,208.0L76.8,225.4M91.8,207.4L92.4,224.8M112.8,215.2L96.0,225.2M112.8,215.2L129.6,225.2M112.9,215.2L112.9,250.0M24.0,229.1L43.2,241.2M16.6,237.3L40.3,246.5M11.0,246.7L37.0,256.3M7.9,257.3L29.4,269.2M5.5,268.0L28.3,272.6M3.5,278.8L27.4,280.4M5.5,289.5L27.4,287.7" fill="none" stroke="#888" stroke-width="0.7"/>
<ellipse cx="101.1" cy="279.7" rx="3.7" ry="7.5" fill="none" stroke="#666" stroke-width="0.7"/>
<ellipse cx="54.4" cy="303.7" rx="9.2" ry="6.5" fill="none" stroke="#666" stroke-width="0.7"/>
<ellipse cx="57.3" cy="323.2" rx="5.7" ry="4.3" fill="none" stroke="#666" stroke-width="0.7"/>
<ellipse cx="95" cy="307.6" rx="1.4" ry="1.4" fill="none" stroke="#666" stroke-width="0.7"/>
<ellipse cx="103.5" cy="262.5" rx="2.2" ry="2.2" fill="none" stroke="#666" stroke-width="0.7"/>
<ellipse cx="106.5" cy="266.5" rx="2.2" ry="2.4" fill="none" stroke="#666" stroke-width="0.7"/>
<ellipse cx="108.3" cy="271.5" rx="1.8" ry="2.4" fill="none" stroke="#666" stroke-width="0.7"/>
<ellipse cx="44" cy="322" rx="5" ry="3" fill="none" stroke="#666" stroke-width="0.7"/>
<ellipse cx="107.3" cy="303" rx="2.4" ry="5.8" fill="none" stroke="#666" stroke-width="0.7"/>
<ellipse cx="100" cy="315" rx="2.3" ry="3.5" fill="none" stroke="#666" stroke-width="0.7"/>
<ellipse cx="106.5" cy="315.5" rx="2.3" ry="3.8" fill="none" stroke="#666" stroke-width="0.7"/>
<ellipse cx="98.5" cy="322.5" rx="2.6" ry="2.3" fill="none" stroke="#666" stroke-width="0.7"/>
<ellipse cx="108.5" cy="322.5" rx="2.6" ry="2.6" fill="none" stroke="#666" stroke-width="0.7"/>
<ellipse cx="88" cy="300" rx="2.5" ry="4" fill="none" stroke="#666" stroke-width="0.7"/>
<path d="M36.0,255.0 C36.5,253.7 36.9,250.1 38.9,247.1 C40.9,244.1 44.3,239.5 47.7,236.8 C51.1,234.1 55.1,232.4 59.5,230.9 C63.9,229.4 69.4,228.4 74.3,227.9 C79.2,227.4 85.6,227.4 89.0,227.9 C92.4,228.4 93.2,228.9 94.9,230.9 C96.6,232.9 97.7,237.2 99.4,239.7 C101.1,242.1 103.0,244.4 105.3,245.6 C107.5,246.8 111.6,246.8 112.9,247.1" fill="none" stroke="#555" stroke-width="0.85"/>
<path d="M38.5,258.0 C38.8,256.7 38.8,253.2 40.5,250.0 C42.2,246.8 45.2,241.6 48.5,238.7 C51.8,235.8 56.2,234.1 60.5,232.6 C64.8,231.1 69.8,230.1 74.3,229.6 C78.8,229.1 84.4,228.8 87.6,229.5 C90.8,230.2 91.8,231.3 93.5,233.5 C95.2,235.7 96.3,240.1 98.0,242.5 C99.7,244.9 101.3,246.9 103.8,247.8 C106.3,248.7 111.4,248.0 112.9,248.0" fill="none" stroke="#555" stroke-width="0.85"/>
<path d="M47.0,257.0 C47.3,255.8 47.8,252.0 49.0,249.8 C50.2,247.6 51.7,245.6 54.2,243.9 C56.7,242.2 60.2,240.6 64.0,239.5 C67.8,238.4 73.3,237.7 77.0,237.5 C80.7,237.3 83.8,237.6 86.0,238.5 C88.2,239.4 88.7,240.9 90.0,243.0 C91.3,245.1 92.5,248.5 94.0,251.0 C95.5,253.5 97.3,256.6 99.0,258.0 C100.7,259.4 101.7,259.8 104.0,259.5 C106.3,259.2 111.4,256.6 112.9,256.0" fill="none" stroke="#555" stroke-width="0.85"/>
<path d="M52.0,254.0 C52.7,253.2 54.0,250.6 56.0,249.0 C58.0,247.4 61.3,245.7 64.0,244.5 C66.7,243.3 69.7,242.8 72.0,242.0 C74.3,241.2 77.0,240.3 78.0,240.0" fill="none" stroke="#555" stroke-width="0.85"/>
<path d="M36.0,258.0 C36.2,256.7 35.8,253.7 37.5,250.0 C39.2,246.3 42.6,239.4 46.0,236.0 C49.4,232.6 53.3,231.2 58.0,229.5 C62.7,227.8 68.8,226.6 74.0,226.0 C79.2,225.4 85.4,225.5 89.0,226.0 C92.6,226.5 93.6,227.1 95.5,229.0 C97.4,230.9 98.8,235.1 100.5,237.5 C102.2,239.9 103.9,242.2 106.0,243.5 C108.1,244.8 111.8,244.8 112.9,245.0" fill="none" stroke="#555" stroke-width="0.85"/>
<path d="M60.0,256.0 C61.0,255.2 63.3,252.3 66.0,251.0 C68.7,249.7 73.5,248.2 76.0,248.0 C78.5,247.8 79.5,248.7 81.0,250.0 C82.5,251.3 83.5,254.2 85.0,256.0 C86.5,257.8 89.2,260.2 90.0,261.0" fill="none" stroke="#555" stroke-width="0.85"/>
<path d="M44.4,266.8 C46.1,266.6 51.3,266.3 54.7,265.3 C58.1,264.3 61.3,262.6 65.0,260.9 C68.7,259.2 74.9,256.0 76.9,255.0" fill="none" stroke="#555" stroke-width="0.85"/>
<path d="M53.1,265.7 C52.7,268.3 50.1,276.7 50.5,281.5 C50.9,286.3 52.6,290.2 55.7,294.6 C58.8,299.0 64.1,303.8 68.9,307.7 C73.7,311.6 80.7,315.6 84.6,318.2 C88.5,320.8 91.2,322.5 92.5,323.4" fill="none" stroke="#555" stroke-width="0.85"/>
<path d="M58.4,265.7 C58.0,268.3 55.3,276.7 55.7,281.5 C56.1,286.3 57.9,290.5 61.0,294.6 C64.1,298.8 69.7,302.9 74.1,306.4 C78.5,309.9 85.0,314.1 87.2,315.6" fill="none" stroke="#555" stroke-width="0.85"/>
<path d="M63.6,268.4 C63.2,271.0 60.6,279.5 61.0,284.1 C61.4,288.7 63.2,292.4 66.2,295.9 C69.2,299.4 74.9,302.2 79.3,305.1 C83.7,308.0 90.3,311.7 92.5,313.0" fill="none" stroke="#555" stroke-width="0.85"/>
<path d="M48.5,268.0 C48.2,270.3 46.8,277.7 47.0,282.0 C47.2,286.3 48.2,290.5 50.0,294.0 C51.8,297.5 56.7,301.5 58.0,303.0" fill="none" stroke="#555" stroke-width="0.85"/>
<path d="M66.2,265.7 C68.2,265.3 74.1,263.5 78.0,263.5 C81.9,263.5 86.7,263.1 89.8,265.7 C92.9,268.3 96.0,275.0 96.4,278.9 C96.9,282.8 96.2,287.1 92.5,289.3 C88.8,291.5 78.7,293.3 74.1,292.0 C69.5,290.7 66.2,285.9 64.9,281.5 C63.6,277.1 66.0,268.3 66.2,265.7" fill="none" stroke="#555" stroke-width="0.85"/>
<path d="M72.0,268.0 C72.7,269.3 74.7,273.0 76.0,276.0 C77.3,279.0 79.3,284.3 80.0,286.0" fill="none" stroke="#555" stroke-width="0.85"/>
<path d="M84.0,266.0 C84.3,267.7 85.3,272.5 86.0,276.0 C86.7,279.5 87.7,285.2 88.0,287.0" fill="none" stroke="#555" stroke-width="0.85"/>
<path d="M76.7,289.3 C78.9,289.2 84.8,288.1 90.0,288.5 C95.2,288.9 107.9,291.2 108.2,292.0 C108.5,292.8 97.2,293.9 92.0,293.5 C86.8,293.1 79.2,290.0 76.7,289.3" fill="none" stroke="#555" stroke-width="0.85"/>
<path d="M14.0,300.0 C14.3,301.7 14.3,307.0 16.0,310.0 C17.7,313.0 20.7,315.8 24.0,318.0 C27.3,320.2 34.0,322.2 36.0,323.0" fill="none" stroke="#555" stroke-width="0.85"/>
<path d="M13.1,308.6 C14.6,310.4 18.5,316.6 21.8,319.5 C25.1,322.4 28.6,324.4 33.0,326.0 C37.4,327.6 45.5,328.5 48.0,329.0" fill="none" stroke="#555" stroke-width="0.85"/>
<path d="M28.0,300.0 C26.7,300.0 22.7,300.0 20.0,300.0 C17.3,300.0 13.3,300.0 12.0,300.0" fill="none" stroke="#555" stroke-width="0.85"/>
<path d="M90.0,290.5 C91.3,290.1 95.1,288.2 98.0,288.2 C100.9,288.2 107.3,289.7 107.3,290.5 C107.3,291.3 100.9,293.2 98.0,293.2 C95.1,293.2 91.3,290.9 90.0,290.5" fill="none" stroke="#555" stroke-width="0.85"/>
<path d="M112.9,289.7 C112.9,291.4 112.9,298.0 112.9,299.6" fill="none" stroke="#555" stroke-width="0.85"/>
<path d="M96.0,309.5 C96.2,310.9 97.0,315.1 97.5,318.0 C98.0,320.9 98.8,325.5 99.0,327.0" fill="none" stroke="#555" stroke-width="0.85"/>
<path d="M103.0,309.0 C103.1,310.5 103.5,315.2 103.5,318.0 C103.5,320.8 103.1,324.7 103.0,326.0" fill="none" stroke="#555" stroke-width="0.85"/>
<path d="M96.0,312.0 C96.7,311.8 98.7,311.0 100.0,311.0 C101.3,311.0 102.5,312.0 104.0,312.0 C105.5,312.0 107.5,311.0 109.0,311.0 C110.5,311.0 112.2,311.8 112.9,312.0" fill="none" stroke="#555" stroke-width="0.85"/>
<path d="M99.0,319.0 C99.7,318.9 101.5,318.5 103.0,318.5 C104.5,318.5 106.3,319.0 108.0,319.0 C109.7,319.0 112.1,318.6 112.9,318.5" fill="none" stroke="#555" stroke-width="0.85"/>
<path d="M100.0,326.5 C101.0,326.2 103.8,325.1 106.0,325.0 C108.2,324.9 111.8,325.8 112.9,326.0" fill="none" stroke="#555" stroke-width="0.85"/>
<path d="M104.0,268.0 C103.7,268.7 102.0,270.7 102.0,272.0 C102.0,273.3 103.7,275.3 104.0,276.0" fill="none" stroke="#555" stroke-width="0.85"/>
<path d="M80.5,321.8 C81.7,321.7 84.8,320.4 87.7,321.1 C90.6,321.8 94.9,324.8 97.8,326.1 C100.7,327.4 103.8,328.5 105.0,329.0" fill="none" stroke="#555" stroke-width="0.85"/>
<path d="M45.9,299.2 C46.6,298.8 48.3,297.3 50.0,297.0 C51.7,296.7 55.0,297.4 56.0,297.5" fill="none" stroke="#555" stroke-width="0.85"/>
<path d="M112.9,249.2 C112.3,249.4 110.4,249.7 109.2,250.4 C108.0,251.1 106.9,252.3 105.7,253.3 C104.5,254.3 103.3,256.1 102.1,256.3 C100.9,256.5 99.6,255.8 98.6,254.5 C97.6,253.2 97.2,250.8 96.2,248.6 C95.2,246.4 93.9,243.7 92.7,241.5 C91.5,239.3 90.6,237.1 89.2,235.6 C87.8,234.1 85.9,232.9 84.4,232.3 C82.9,231.7 82.3,231.8 80.0,232.1 C77.7,232.4 73.8,233.6 70.7,234.4 C67.6,235.2 64.4,235.6 61.2,236.8 C58.1,238.0 54.3,239.7 51.8,241.5 C49.2,243.3 47.3,245.4 45.9,247.4 C44.5,249.4 43.7,251.3 43.5,253.3 C43.3,255.3 43.7,258.0 44.7,259.2 C45.7,260.4 47.6,260.6 49.4,260.4 C51.2,260.2 52.9,259.0 55.3,258.0 C57.7,257.0 61.0,255.5 63.6,254.5 C66.2,253.5 68.6,252.7 70.7,252.1 C72.8,251.5 74.5,251.1 76.0,250.8 C77.5,250.6 79.3,250.6 80.0,250.6" fill="none" stroke="#111" stroke-width="1.85"/>
<path d="M58.5,246.0 C59.6,245.1 63.8,244.6 66.0,244.0 C68.2,243.4 70.3,242.7 72.0,242.2 C73.7,241.7 74.7,241.1 76.0,240.8 C77.3,240.5 79.0,239.8 80.0,240.5 C81.0,241.2 81.5,243.2 81.8,245.0 C82.1,246.8 82.4,250.4 82.0,251.5 C81.6,252.6 79.8,252.4 79.2,251.7 C78.6,250.9 78.9,248.0 78.5,247.0 C78.1,246.0 78.1,245.6 77.0,245.5 C75.9,245.4 73.8,245.8 72.0,246.2 C70.2,246.6 68.1,247.7 66.0,248.2 C63.9,248.7 60.8,249.7 59.5,249.3 C58.2,248.9 57.4,246.9 58.5,246.0Z" fill="#111" stroke="none"/>
<path d="M38.6,252.5 C39.5,252.1 40.2,255.4 41.0,257.5 C41.8,259.6 42.8,262.0 43.5,265.0 C44.2,268.0 44.6,271.0 45.0,275.4 C45.4,279.8 45.5,286.8 45.8,291.2 C46.1,295.6 45.9,298.8 47.0,301.5 C48.1,304.2 49.9,306.1 52.6,307.6 C55.3,309.1 60.3,310.1 63.2,310.6 C66.1,311.1 68.3,310.3 70.0,310.6 C71.7,310.9 73.0,311.6 73.4,312.6 C73.8,313.6 73.2,315.7 72.6,316.6 C71.9,317.5 71.4,317.5 69.5,317.8 C67.6,318.1 64.7,318.7 61.0,318.5 C57.3,318.3 51.4,317.7 47.5,316.6 C43.6,315.5 40.1,314.2 37.5,312.0 C34.9,309.8 32.9,307.0 31.6,303.5 C30.4,300.0 30.2,294.9 30.0,291.0 C29.8,287.1 30.2,283.4 30.6,280.0 C31.0,276.6 31.8,274.1 32.6,270.7 C33.4,267.3 34.6,262.8 35.6,259.8 C36.6,256.8 37.7,252.9 38.6,252.5Z" fill="#111" stroke="none"/>
<path d="M112.9,251.5 C112.6,249.8 111.3,252.9 110.8,254.0 C110.3,255.1 109.8,256.7 109.7,258.0 C109.6,259.3 109.8,260.9 110.3,262.0 C110.8,263.1 112.5,266.2 112.9,264.5 C113.3,262.8 113.2,253.2 112.9,251.5Z" fill="#111" stroke="none"/>
<path d="M112.9,265.5 C112.5,264.7 110.8,266.6 110.5,267.5 C110.2,268.4 110.4,270.2 110.8,271.0 C111.2,271.8 112.6,273.4 112.9,272.5 C113.2,271.6 113.3,266.3 112.9,265.5Z" fill="#111" stroke="none"/>
<path d="M112.9,327.6 C112.0,326.9 108.8,327.7 107.5,328.2 C106.2,328.7 104.8,329.8 104.8,330.5 C104.8,331.2 106.2,331.9 107.5,332.3 C108.8,332.7 112.0,333.4 112.9,332.6 C113.8,331.8 113.8,328.3 112.9,327.6Z" fill="#111" stroke="none"/></g>
<g transform="translate(225.80,0) scale(-1,1)"><path d="M112.8,215.2 C112.2,214.6 111.0,212.7 109.2,211.6 C107.4,210.5 105.2,209.3 102.0,208.6 C98.8,207.9 94.0,207.4 90.0,207.2 C86.0,207.0 82.0,207.3 78.0,207.6 C74.0,207.9 69.7,208.2 66.0,209.2 C62.3,210.2 59.8,211.8 55.7,213.4 C51.6,215.0 46.1,216.4 41.3,218.6 C36.5,220.8 30.6,224.1 26.8,226.8 C23.0,229.6 21.0,232.3 18.6,235.1 C16.2,237.9 14.1,239.9 12.4,243.4 C10.7,246.9 9.5,251.7 8.3,255.8 C7.2,259.9 6.3,264.3 5.5,268.0 C4.7,271.7 3.7,274.9 3.5,278.0 C3.3,281.1 3.5,283.9 4.4,286.8 C5.3,289.7 7.6,293.3 8.7,295.5 C9.8,297.7 10.9,298.3 10.9,299.9 C10.9,301.5 8.5,302.8 8.7,305.3 C8.9,307.9 10.6,312.1 12.0,315.2 C13.4,318.3 15.0,321.4 17.4,323.9 C19.8,326.4 22.9,328.6 26.2,330.4 C29.5,332.2 33.1,333.8 37.1,334.8 C41.1,335.8 45.5,336.5 50.2,336.5 C54.9,336.5 61.4,335.9 65.4,334.8 C69.4,333.7 71.1,331.8 74.0,330.0 C76.9,328.2 80.5,325.6 83.0,324.0 C85.5,322.4 87.0,320.7 89.0,320.5 C91.0,320.3 93.0,321.8 95.0,323.0 C97.0,324.2 99.2,326.7 101.0,328.0 C102.8,329.3 104.0,330.2 106.0,331.0 C108.0,331.8 111.8,332.7 112.9,333.0" fill="none" stroke="#4a4a4a" stroke-width="0.85"/>
<path d="M94.8,225.4 C92.4,225.4 84.5,225.2 80.4,225.4 C76.3,225.6 73.8,226.0 70.0,226.8 C66.2,227.6 61.5,228.4 57.8,230.0 C54.0,231.6 50.2,233.7 47.5,236.1 C44.8,238.5 43.0,241.1 41.3,244.4 C39.6,247.7 38.4,252.5 37.2,255.8 C36.0,259.1 35.4,261.6 34.0,264.0 C32.6,266.4 30.1,266.9 29.0,270.0 C27.9,273.1 27.4,278.1 27.3,282.4 C27.2,286.6 27.8,291.5 28.3,295.5 C28.8,299.5 29.2,303.3 30.5,306.4 C31.8,309.5 33.8,312.1 36.0,314.1 C38.2,316.1 40.5,316.9 43.6,318.4 C46.7,319.8 50.1,321.5 54.5,322.8 C58.9,324.1 65.8,326.1 70.0,326.0 C74.2,325.9 78.3,322.7 80.0,322.0" fill="none" stroke="#4a4a4a" stroke-width="0.8"/>
<path d="M37.2,220.0L49.2,234.4M54.6,212.2L61.8,227.8M74.4,208.0L76.8,225.4M91.8,207.4L92.4,224.8M112.8,215.2L96.0,225.2M112.8,215.2L129.6,225.2M112.9,215.2L112.9,250.0M24.0,229.1L43.2,241.2M16.6,237.3L40.3,246.5M11.0,246.7L37.0,256.3M7.9,257.3L29.4,269.2M5.5,268.0L28.3,272.6M3.5,278.8L27.4,280.4M5.5,289.5L27.4,287.7" fill="none" stroke="#888" stroke-width="0.7"/>
<ellipse cx="101.1" cy="279.7" rx="3.7" ry="7.5" fill="none" stroke="#666" stroke-width="0.7"/>
<ellipse cx="54.4" cy="303.7" rx="9.2" ry="6.5" fill="none" stroke="#666" stroke-width="0.7"/>
<ellipse cx="57.3" cy="323.2" rx="5.7" ry="4.3" fill="none" stroke="#666" stroke-width="0.7"/>
<ellipse cx="95" cy="307.6" rx="1.4" ry="1.4" fill="none" stroke="#666" stroke-width="0.7"/>
<ellipse cx="103.5" cy="262.5" rx="2.2" ry="2.2" fill="none" stroke="#666" stroke-width="0.7"/>
<ellipse cx="106.5" cy="266.5" rx="2.2" ry="2.4" fill="none" stroke="#666" stroke-width="0.7"/>
<ellipse cx="108.3" cy="271.5" rx="1.8" ry="2.4" fill="none" stroke="#666" stroke-width="0.7"/>
<ellipse cx="44" cy="322" rx="5" ry="3" fill="none" stroke="#666" stroke-width="0.7"/>
<ellipse cx="107.3" cy="303" rx="2.4" ry="5.8" fill="none" stroke="#666" stroke-width="0.7"/>
<ellipse cx="100" cy="315" rx="2.3" ry="3.5" fill="none" stroke="#666" stroke-width="0.7"/>
<ellipse cx="106.5" cy="315.5" rx="2.3" ry="3.8" fill="none" stroke="#666" stroke-width="0.7"/>
<ellipse cx="98.5" cy="322.5" rx="2.6" ry="2.3" fill="none" stroke="#666" stroke-width="0.7"/>
<ellipse cx="108.5" cy="322.5" rx="2.6" ry="2.6" fill="none" stroke="#666" stroke-width="0.7"/>
<ellipse cx="88" cy="300" rx="2.5" ry="4" fill="none" stroke="#666" stroke-width="0.7"/>
<path d="M36.0,255.0 C36.5,253.7 36.9,250.1 38.9,247.1 C40.9,244.1 44.3,239.5 47.7,236.8 C51.1,234.1 55.1,232.4 59.5,230.9 C63.9,229.4 69.4,228.4 74.3,227.9 C79.2,227.4 85.6,227.4 89.0,227.9 C92.4,228.4 93.2,228.9 94.9,230.9 C96.6,232.9 97.7,237.2 99.4,239.7 C101.1,242.1 103.0,244.4 105.3,245.6 C107.5,246.8 111.6,246.8 112.9,247.1" fill="none" stroke="#555" stroke-width="0.85"/>
<path d="M38.5,258.0 C38.8,256.7 38.8,253.2 40.5,250.0 C42.2,246.8 45.2,241.6 48.5,238.7 C51.8,235.8 56.2,234.1 60.5,232.6 C64.8,231.1 69.8,230.1 74.3,229.6 C78.8,229.1 84.4,228.8 87.6,229.5 C90.8,230.2 91.8,231.3 93.5,233.5 C95.2,235.7 96.3,240.1 98.0,242.5 C99.7,244.9 101.3,246.9 103.8,247.8 C106.3,248.7 111.4,248.0 112.9,248.0" fill="none" stroke="#555" stroke-width="0.85"/>
<path d="M47.0,257.0 C47.3,255.8 47.8,252.0 49.0,249.8 C50.2,247.6 51.7,245.6 54.2,243.9 C56.7,242.2 60.2,240.6 64.0,239.5 C67.8,238.4 73.3,237.7 77.0,237.5 C80.7,237.3 83.8,237.6 86.0,238.5 C88.2,239.4 88.7,240.9 90.0,243.0 C91.3,245.1 92.5,248.5 94.0,251.0 C95.5,253.5 97.3,256.6 99.0,258.0 C100.7,259.4 101.7,259.8 104.0,259.5 C106.3,259.2 111.4,256.6 112.9,256.0" fill="none" stroke="#555" stroke-width="0.85"/>
<path d="M52.0,254.0 C52.7,253.2 54.0,250.6 56.0,249.0 C58.0,247.4 61.3,245.7 64.0,244.5 C66.7,243.3 69.7,242.8 72.0,242.0 C74.3,241.2 77.0,240.3 78.0,240.0" fill="none" stroke="#555" stroke-width="0.85"/>
<path d="M36.0,258.0 C36.2,256.7 35.8,253.7 37.5,250.0 C39.2,246.3 42.6,239.4 46.0,236.0 C49.4,232.6 53.3,231.2 58.0,229.5 C62.7,227.8 68.8,226.6 74.0,226.0 C79.2,225.4 85.4,225.5 89.0,226.0 C92.6,226.5 93.6,227.1 95.5,229.0 C97.4,230.9 98.8,235.1 100.5,237.5 C102.2,239.9 103.9,242.2 106.0,243.5 C108.1,244.8 111.8,244.8 112.9,245.0" fill="none" stroke="#555" stroke-width="0.85"/>
<path d="M60.0,256.0 C61.0,255.2 63.3,252.3 66.0,251.0 C68.7,249.7 73.5,248.2 76.0,248.0 C78.5,247.8 79.5,248.7 81.0,250.0 C82.5,251.3 83.5,254.2 85.0,256.0 C86.5,257.8 89.2,260.2 90.0,261.0" fill="none" stroke="#555" stroke-width="0.85"/>
<path d="M44.4,266.8 C46.1,266.6 51.3,266.3 54.7,265.3 C58.1,264.3 61.3,262.6 65.0,260.9 C68.7,259.2 74.9,256.0 76.9,255.0" fill="none" stroke="#555" stroke-width="0.85"/>
<path d="M53.1,265.7 C52.7,268.3 50.1,276.7 50.5,281.5 C50.9,286.3 52.6,290.2 55.7,294.6 C58.8,299.0 64.1,303.8 68.9,307.7 C73.7,311.6 80.7,315.6 84.6,318.2 C88.5,320.8 91.2,322.5 92.5,323.4" fill="none" stroke="#555" stroke-width="0.85"/>
<path d="M58.4,265.7 C58.0,268.3 55.3,276.7 55.7,281.5 C56.1,286.3 57.9,290.5 61.0,294.6 C64.1,298.8 69.7,302.9 74.1,306.4 C78.5,309.9 85.0,314.1 87.2,315.6" fill="none" stroke="#555" stroke-width="0.85"/>
<path d="M63.6,268.4 C63.2,271.0 60.6,279.5 61.0,284.1 C61.4,288.7 63.2,292.4 66.2,295.9 C69.2,299.4 74.9,302.2 79.3,305.1 C83.7,308.0 90.3,311.7 92.5,313.0" fill="none" stroke="#555" stroke-width="0.85"/>
<path d="M48.5,268.0 C48.2,270.3 46.8,277.7 47.0,282.0 C47.2,286.3 48.2,290.5 50.0,294.0 C51.8,297.5 56.7,301.5 58.0,303.0" fill="none" stroke="#555" stroke-width="0.85"/>
<path d="M66.2,265.7 C68.2,265.3 74.1,263.5 78.0,263.5 C81.9,263.5 86.7,263.1 89.8,265.7 C92.9,268.3 96.0,275.0 96.4,278.9 C96.9,282.8 96.2,287.1 92.5,289.3 C88.8,291.5 78.7,293.3 74.1,292.0 C69.5,290.7 66.2,285.9 64.9,281.5 C63.6,277.1 66.0,268.3 66.2,265.7" fill="none" stroke="#555" stroke-width="0.85"/>
<path d="M72.0,268.0 C72.7,269.3 74.7,273.0 76.0,276.0 C77.3,279.0 79.3,284.3 80.0,286.0" fill="none" stroke="#555" stroke-width="0.85"/>
<path d="M84.0,266.0 C84.3,267.7 85.3,272.5 86.0,276.0 C86.7,279.5 87.7,285.2 88.0,287.0" fill="none" stroke="#555" stroke-width="0.85"/>
<path d="M76.7,289.3 C78.9,289.2 84.8,288.1 90.0,288.5 C95.2,288.9 107.9,291.2 108.2,292.0 C108.5,292.8 97.2,293.9 92.0,293.5 C86.8,293.1 79.2,290.0 76.7,289.3" fill="none" stroke="#555" stroke-width="0.85"/>
<path d="M14.0,300.0 C14.3,301.7 14.3,307.0 16.0,310.0 C17.7,313.0 20.7,315.8 24.0,318.0 C27.3,320.2 34.0,322.2 36.0,323.0" fill="none" stroke="#555" stroke-width="0.85"/>
<path d="M13.1,308.6 C14.6,310.4 18.5,316.6 21.8,319.5 C25.1,322.4 28.6,324.4 33.0,326.0 C37.4,327.6 45.5,328.5 48.0,329.0" fill="none" stroke="#555" stroke-width="0.85"/>
<path d="M28.0,300.0 C26.7,300.0 22.7,300.0 20.0,300.0 C17.3,300.0 13.3,300.0 12.0,300.0" fill="none" stroke="#555" stroke-width="0.85"/>
<path d="M90.0,290.5 C91.3,290.1 95.1,288.2 98.0,288.2 C100.9,288.2 107.3,289.7 107.3,290.5 C107.3,291.3 100.9,293.2 98.0,293.2 C95.1,293.2 91.3,290.9 90.0,290.5" fill="none" stroke="#555" stroke-width="0.85"/>
<path d="M112.9,289.7 C112.9,291.4 112.9,298.0 112.9,299.6" fill="none" stroke="#555" stroke-width="0.85"/>
<path d="M96.0,309.5 C96.2,310.9 97.0,315.1 97.5,318.0 C98.0,320.9 98.8,325.5 99.0,327.0" fill="none" stroke="#555" stroke-width="0.85"/>
<path d="M103.0,309.0 C103.1,310.5 103.5,315.2 103.5,318.0 C103.5,320.8 103.1,324.7 103.0,326.0" fill="none" stroke="#555" stroke-width="0.85"/>
<path d="M96.0,312.0 C96.7,311.8 98.7,311.0 100.0,311.0 C101.3,311.0 102.5,312.0 104.0,312.0 C105.5,312.0 107.5,311.0 109.0,311.0 C110.5,311.0 112.2,311.8 112.9,312.0" fill="none" stroke="#555" stroke-width="0.85"/>
<path d="M99.0,319.0 C99.7,318.9 101.5,318.5 103.0,318.5 C104.5,318.5 106.3,319.0 108.0,319.0 C109.7,319.0 112.1,318.6 112.9,318.5" fill="none" stroke="#555" stroke-width="0.85"/>
<path d="M100.0,326.5 C101.0,326.2 103.8,325.1 106.0,325.0 C108.2,324.9 111.8,325.8 112.9,326.0" fill="none" stroke="#555" stroke-width="0.85"/>
<path d="M104.0,268.0 C103.7,268.7 102.0,270.7 102.0,272.0 C102.0,273.3 103.7,275.3 104.0,276.0" fill="none" stroke="#555" stroke-width="0.85"/>
<path d="M80.5,321.8 C81.7,321.7 84.8,320.4 87.7,321.1 C90.6,321.8 94.9,324.8 97.8,326.1 C100.7,327.4 103.8,328.5 105.0,329.0" fill="none" stroke="#555" stroke-width="0.85"/>
<path d="M45.9,299.2 C46.6,298.8 48.3,297.3 50.0,297.0 C51.7,296.7 55.0,297.4 56.0,297.5" fill="none" stroke="#555" stroke-width="0.85"/>
<path d="M112.9,249.2 C112.3,249.4 110.4,249.7 109.2,250.4 C108.0,251.1 106.9,252.3 105.7,253.3 C104.5,254.3 103.3,256.1 102.1,256.3 C100.9,256.5 99.6,255.8 98.6,254.5 C97.6,253.2 97.2,250.8 96.2,248.6 C95.2,246.4 93.9,243.7 92.7,241.5 C91.5,239.3 90.6,237.1 89.2,235.6 C87.8,234.1 85.9,232.9 84.4,232.3 C82.9,231.7 82.3,231.8 80.0,232.1 C77.7,232.4 73.8,233.6 70.7,234.4 C67.6,235.2 64.4,235.6 61.2,236.8 C58.1,238.0 54.3,239.7 51.8,241.5 C49.2,243.3 47.3,245.4 45.9,247.4 C44.5,249.4 43.7,251.3 43.5,253.3 C43.3,255.3 43.7,258.0 44.7,259.2 C45.7,260.4 47.6,260.6 49.4,260.4 C51.2,260.2 52.9,259.0 55.3,258.0 C57.7,257.0 61.0,255.5 63.6,254.5 C66.2,253.5 68.6,252.7 70.7,252.1 C72.8,251.5 74.5,251.1 76.0,250.8 C77.5,250.6 79.3,250.6 80.0,250.6" fill="none" stroke="#111" stroke-width="1.85"/>
<path d="M58.5,246.0 C59.6,245.1 63.8,244.6 66.0,244.0 C68.2,243.4 70.3,242.7 72.0,242.2 C73.7,241.7 74.7,241.1 76.0,240.8 C77.3,240.5 79.0,239.8 80.0,240.5 C81.0,241.2 81.5,243.2 81.8,245.0 C82.1,246.8 82.4,250.4 82.0,251.5 C81.6,252.6 79.8,252.4 79.2,251.7 C78.6,250.9 78.9,248.0 78.5,247.0 C78.1,246.0 78.1,245.6 77.0,245.5 C75.9,245.4 73.8,245.8 72.0,246.2 C70.2,246.6 68.1,247.7 66.0,248.2 C63.9,248.7 60.8,249.7 59.5,249.3 C58.2,248.9 57.4,246.9 58.5,246.0Z" fill="#111" stroke="none"/>
<path d="M38.6,252.5 C39.5,252.1 40.2,255.4 41.0,257.5 C41.8,259.6 42.8,262.0 43.5,265.0 C44.2,268.0 44.6,271.0 45.0,275.4 C45.4,279.8 45.5,286.8 45.8,291.2 C46.1,295.6 45.9,298.8 47.0,301.5 C48.1,304.2 49.9,306.1 52.6,307.6 C55.3,309.1 60.3,310.1 63.2,310.6 C66.1,311.1 68.3,310.3 70.0,310.6 C71.7,310.9 73.0,311.6 73.4,312.6 C73.8,313.6 73.2,315.7 72.6,316.6 C71.9,317.5 71.4,317.5 69.5,317.8 C67.6,318.1 64.7,318.7 61.0,318.5 C57.3,318.3 51.4,317.7 47.5,316.6 C43.6,315.5 40.1,314.2 37.5,312.0 C34.9,309.8 32.9,307.0 31.6,303.5 C30.4,300.0 30.2,294.9 30.0,291.0 C29.8,287.1 30.2,283.4 30.6,280.0 C31.0,276.6 31.8,274.1 32.6,270.7 C33.4,267.3 34.6,262.8 35.6,259.8 C36.6,256.8 37.7,252.9 38.6,252.5Z" fill="#111" stroke="none"/>
<path d="M112.9,251.5 C112.6,249.8 111.3,252.9 110.8,254.0 C110.3,255.1 109.8,256.7 109.7,258.0 C109.6,259.3 109.8,260.9 110.3,262.0 C110.8,263.1 112.5,266.2 112.9,264.5 C113.3,262.8 113.2,253.2 112.9,251.5Z" fill="#111" stroke="none"/>
<path d="M112.9,265.5 C112.5,264.7 110.8,266.6 110.5,267.5 C110.2,268.4 110.4,270.2 110.8,271.0 C111.2,271.8 112.6,273.4 112.9,272.5 C113.2,271.6 113.3,266.3 112.9,265.5Z" fill="#111" stroke="none"/>
<path d="M112.9,327.6 C112.0,326.9 108.8,327.7 107.5,328.2 C106.2,328.7 104.8,329.8 104.8,330.5 C104.8,331.2 106.2,331.9 107.5,332.3 C108.8,332.7 112.0,333.4 112.9,332.6 C113.8,331.8 113.8,328.3 112.9,327.6Z" fill="#111" stroke="none"/></g>
<line x1="122.6" y1="236.2" x2="122.6" y2="268.1" stroke="#1fb04b" stroke-width="2.3"/>
<line x1="137.1" y1="236.2" x2="136" y2="268.1" stroke="#2aa8e2" stroke-width="2.3"/>
<line x1="143.3" y1="234.4" x2="142.7" y2="265.4" stroke="#2aa8e2" stroke-width="2.3"/>
<text x="151.8" y="227.6" font-size="14.3" fill="#111" stroke="#111" stroke-width="0.3">-4.20</text>
<line x1="287.5" y1="27.94" x2="287.5" y2="155.00" stroke="#2a2a2a" stroke-width="1.3"/>
<line x1="284.70" y1="154.4" x2="484" y2="154.4" stroke="#2a2a2a" stroke-width="1.3"/>
<line x1="284.30" y1="154.40" x2="287.5" y2="154.40" stroke="#2a2a2a" stroke-width="1.1"/>
<text x="281.20" y="157.60" text-anchor="end" font-size="9" fill="#222">0</text>
<line x1="284.30" y1="136.42" x2="287.5" y2="136.42" stroke="#2a2a2a" stroke-width="1.1"/>
<text x="281.20" y="139.62" text-anchor="end" font-size="9" fill="#222">1</text>
<line x1="284.30" y1="118.44" x2="287.5" y2="118.44" stroke="#2a2a2a" stroke-width="1.1"/>
<text x="281.20" y="121.64" text-anchor="end" font-size="9" fill="#222">2</text>
<line x1="284.30" y1="100.46" x2="287.5" y2="100.46" stroke="#2a2a2a" stroke-width="1.1"/>
<text x="281.20" y="103.66" text-anchor="end" font-size="9" fill="#222">3</text>
<line x1="284.30" y1="82.48" x2="287.5" y2="82.48" stroke="#2a2a2a" stroke-width="1.1"/>
<text x="281.20" y="85.68" text-anchor="end" font-size="9" fill="#222">4</text>
<line x1="284.30" y1="64.50" x2="287.5" y2="64.50" stroke="#2a2a2a" stroke-width="1.1"/>
<text x="281.20" y="67.70" text-anchor="end" font-size="9" fill="#222">5</text>
<line x1="284.30" y1="46.52" x2="287.5" y2="46.52" stroke="#2a2a2a" stroke-width="1.1"/>
<text x="281.20" y="49.72" text-anchor="end" font-size="9" fill="#222">6</text>
<line x1="284.30" y1="28.54" x2="287.5" y2="28.54" stroke="#2a2a2a" stroke-width="1.1"/>
<text x="281.20" y="31.74" text-anchor="end" font-size="9" fill="#222">7</text>
<line x1="312.4" y1="154.4" x2="312.4" y2="157.60" stroke="#2a2a2a" stroke-width="1.1"/>
<text x="312.4" y="168.90" text-anchor="middle" font-size="8.8" fill="#222">Baseline</text>
<line x1="361.3" y1="154.4" x2="361.3" y2="157.60" stroke="#2a2a2a" stroke-width="1.1"/>
<text x="361.3" y="168.90" text-anchor="middle" font-size="8.8" fill="#222">Day 1</text>
<line x1="410.2" y1="154.4" x2="410.2" y2="157.60" stroke="#2a2a2a" stroke-width="1.1"/>
<text x="410.2" y="168.90" text-anchor="middle" font-size="8.8" fill="#222">Day 3</text>
<line x1="459.2" y1="154.4" x2="459.2" y2="157.60" stroke="#2a2a2a" stroke-width="1.1"/>
<text x="459.2" y="168.90" text-anchor="middle" font-size="8.8" fill="#222">Day 5</text>
<text transform="translate(264,91.3) rotate(-90)" text-anchor="middle" font-size="10.9" fill="#222" textLength="125" lengthAdjust="spacingAndGlyphs">Ethanol Intake (g/kg/24 h)</text>
<text x="239.4" y="29.5" font-size="16" fill="#111">A</text>
<polyline points="312.40,61.98 361.30,58.39 410.20,68.64 459.20,59.65" fill="none" stroke="#1a1a1a" stroke-width="1.05"/>
<polyline points="312.40,61.98 361.30,120.24 410.20,110.53 459.20,102.26" fill="none" stroke="#1a1a1a" stroke-width="1.05"/>
<polyline points="312.40,56.41 361.30,72.59 410.20,83.56 459.20,79.06" fill="none" stroke="#1a1a1a" stroke-width="1.05"/>
<line x1="312.4" y1="44.72" x2="312.4" y2="68.10" stroke="#222" stroke-width="1"/>
<line x1="308.10" y1="44.72" x2="316.70" y2="44.72" stroke="#3a3a3a" stroke-width="1.35"/>
<line x1="308.10" y1="68.10" x2="316.70" y2="68.10" stroke="#3a3a3a" stroke-width="1.35"/>
<line x1="361.3" y1="45.08" x2="361.3" y2="71.33" stroke="#222" stroke-width="1"/>
<line x1="357.00" y1="45.08" x2="365.60" y2="45.08" stroke="#3a3a3a" stroke-width="1.35"/>
<line x1="357.00" y1="71.33" x2="365.60" y2="71.33" stroke="#3a3a3a" stroke-width="1.35"/>
<line x1="410.2" y1="62.88" x2="410.2" y2="74.03" stroke="#222" stroke-width="1"/>
<line x1="405.90" y1="62.88" x2="414.50" y2="62.88" stroke="#3a3a3a" stroke-width="1.35"/>
<line x1="405.90" y1="74.03" x2="414.50" y2="74.03" stroke="#3a3a3a" stroke-width="1.35"/>
<line x1="459.2" y1="46.52" x2="459.2" y2="71.69" stroke="#222" stroke-width="1"/>
<line x1="454.90" y1="46.52" x2="463.50" y2="46.52" stroke="#3a3a3a" stroke-width="1.35"/>
<line x1="454.90" y1="71.69" x2="463.50" y2="71.69" stroke="#3a3a3a" stroke-width="1.35"/>
<line x1="312.4" y1="57.31" x2="312.4" y2="66.30" stroke="#222" stroke-width="1"/>
<line x1="308.10" y1="57.31" x2="316.70" y2="57.31" stroke="#3a3a3a" stroke-width="1.35"/>
<line x1="308.10" y1="66.30" x2="316.70" y2="66.30" stroke="#3a3a3a" stroke-width="1.35"/>
<line x1="361.3" y1="115.56" x2="361.3" y2="125.27" stroke="#222" stroke-width="1"/>
<line x1="357.00" y1="115.56" x2="365.60" y2="115.56" stroke="#3a3a3a" stroke-width="1.35"/>
<line x1="357.00" y1="125.27" x2="365.60" y2="125.27" stroke="#3a3a3a" stroke-width="1.35"/>
<line x1="410.2" y1="103.70" x2="410.2" y2="117.72" stroke="#222" stroke-width="1"/>
<line x1="405.90" y1="103.70" x2="414.50" y2="103.70" stroke="#3a3a3a" stroke-width="1.35"/>
<line x1="405.90" y1="117.72" x2="414.50" y2="117.72" stroke="#3a3a3a" stroke-width="1.35"/>
<line x1="459.2" y1="95.79" x2="459.2" y2="109.45" stroke="#222" stroke-width="1"/>
<line x1="454.90" y1="95.79" x2="463.50" y2="95.79" stroke="#3a3a3a" stroke-width="1.35"/>
<line x1="454.90" y1="109.45" x2="463.50" y2="109.45" stroke="#3a3a3a" stroke-width="1.35"/>
<line x1="312.4" y1="53.71" x2="312.4" y2="66.30" stroke="#222" stroke-width="1"/>
<line x1="308.10" y1="53.71" x2="316.70" y2="53.71" stroke="#3a3a3a" stroke-width="1.35"/>
<line x1="308.10" y1="66.30" x2="316.70" y2="66.30" stroke="#3a3a3a" stroke-width="1.35"/>
<line x1="361.3" y1="64.50" x2="361.3" y2="81.40" stroke="#222" stroke-width="1"/>
<line x1="357.00" y1="64.50" x2="365.60" y2="64.50" stroke="#3a3a3a" stroke-width="1.35"/>
<line x1="357.00" y1="81.40" x2="365.60" y2="81.40" stroke="#3a3a3a" stroke-width="1.35"/>
<line x1="410.2" y1="77.81" x2="410.2" y2="96.14" stroke="#222" stroke-width="1"/>
<line x1="405.90" y1="77.81" x2="414.50" y2="77.81" stroke="#3a3a3a" stroke-width="1.35"/>
<line x1="405.90" y1="96.14" x2="414.50" y2="96.14" stroke="#3a3a3a" stroke-width="1.35"/>
<line x1="459.2" y1="71.69" x2="459.2" y2="88.77" stroke="#222" stroke-width="1"/>
<line x1="454.90" y1="71.69" x2="463.50" y2="71.69" stroke="#3a3a3a" stroke-width="1.35"/>
<line x1="454.90" y1="88.77" x2="463.50" y2="88.77" stroke="#3a3a3a" stroke-width="1.35"/>
<circle cx="312.4" cy="61.98" r="2.7" fill="#fff" stroke="#1a1a1a" stroke-width="1.1"/>
<circle cx="361.3" cy="58.39" r="2.7" fill="#fff" stroke="#1a1a1a" stroke-width="1.1"/>
<circle cx="410.2" cy="68.64" r="2.7" fill="#fff" stroke="#1a1a1a" stroke-width="1.1"/>
<circle cx="459.2" cy="59.65" r="2.7" fill="#fff" stroke="#1a1a1a" stroke-width="1.1"/>
<circle cx="312.4" cy="61.98" r="3.1" fill="#1a1a1a"/>
<circle cx="361.3" cy="120.24" r="3.1" fill="#1a1a1a"/>
<circle cx="410.2" cy="110.53" r="3.1" fill="#1a1a1a"/>
<circle cx="459.2" cy="102.26" r="3.1" fill="#1a1a1a"/>
<path d="M312.40,52.81 L315.90,58.81 L308.90,58.81Z" fill="#1a1a1a"/>
<path d="M361.30,68.99 L364.80,74.99 L357.80,74.99Z" fill="#1a1a1a"/>
<path d="M410.20,79.96 L413.70,85.96 L406.70,85.96Z" fill="#1a1a1a"/>
<path d="M459.20,75.46 L462.70,81.46 L455.70,81.46Z" fill="#1a1a1a"/>
<path d="M355.20,132.00L355.20,129.15M355.20,132.00L357.91,131.12M355.20,132.00L356.88,134.31M355.20,132.00L353.52,134.31M355.20,132.00L352.49,131.12" stroke="#222" stroke-width="1.25" stroke-linecap="round" fill="none"/>
<path d="M361.80,132.00L361.80,129.15M361.80,132.00L364.51,131.12M361.80,132.00L363.48,134.31M361.80,132.00L360.12,134.31M361.80,132.00L359.09,131.12" stroke="#222" stroke-width="1.25" stroke-linecap="round" fill="none"/>
<path d="M368.40,132.00L368.40,129.15M368.40,132.00L371.11,131.12M368.40,132.00L370.08,134.31M368.40,132.00L366.72,134.31M368.40,132.00L365.69,131.12" stroke="#222" stroke-width="1.25" stroke-linecap="round" fill="none"/>
<path d="M407.20,124.30L407.20,121.45M407.20,124.30L409.91,123.42M407.20,124.30L408.88,126.61M407.20,124.30L405.52,126.61M407.20,124.30L404.49,123.42" stroke="#222" stroke-width="1.25" stroke-linecap="round" fill="none"/>
<path d="M413.80,124.30L413.80,121.45M413.80,124.30L416.51,123.42M413.80,124.30L415.48,126.61M413.80,124.30L412.12,126.61M413.80,124.30L411.09,123.42" stroke="#222" stroke-width="1.25" stroke-linecap="round" fill="none"/>
<path d="M456.70,115.60L456.70,112.75M456.70,115.60L459.41,114.72M456.70,115.60L458.38,117.91M456.70,115.60L455.02,117.91M456.70,115.60L453.99,114.72" stroke="#222" stroke-width="1.25" stroke-linecap="round" fill="none"/>
<path d="M463.30,115.60L463.30,112.75M463.30,115.60L466.01,114.72M463.30,115.60L464.98,117.91M463.30,115.60L461.62,117.91M463.30,115.60L460.59,114.72" stroke="#222" stroke-width="1.25" stroke-linecap="round" fill="none"/>
<line x1="548.3" y1="33.20" x2="548.3" y2="158.90" stroke="#2a2a2a" stroke-width="1.3"/>
<line x1="545.50" y1="158.3" x2="744.5" y2="158.3" stroke="#2a2a2a" stroke-width="1.3"/>
<line x1="545.10" y1="158.30" x2="548.3" y2="158.30" stroke="#2a2a2a" stroke-width="1.1"/>
<text x="542.00" y="161.50" text-anchor="end" font-size="9" fill="#222">0</text>
<line x1="545.10" y1="145.85" x2="548.3" y2="145.85" stroke="#2a2a2a" stroke-width="1.1"/>
<text x="542.00" y="149.05" text-anchor="end" font-size="9" fill="#222">5</text>
<line x1="545.10" y1="133.40" x2="548.3" y2="133.40" stroke="#2a2a2a" stroke-width="1.1"/>
<text x="542.00" y="136.60" text-anchor="end" font-size="9" fill="#222">10</text>
<line x1="545.10" y1="120.95" x2="548.3" y2="120.95" stroke="#2a2a2a" stroke-width="1.1"/>
<text x="542.00" y="124.15" text-anchor="end" font-size="9" fill="#222">15</text>
<line x1="545.10" y1="108.50" x2="548.3" y2="108.50" stroke="#2a2a2a" stroke-width="1.1"/>
<text x="542.00" y="111.70" text-anchor="end" font-size="9" fill="#222">20</text>
<line x1="545.10" y1="96.05" x2="548.3" y2="96.05" stroke="#2a2a2a" stroke-width="1.1"/>
<text x="542.00" y="99.25" text-anchor="end" font-size="9" fill="#222">25</text>
<line x1="545.10" y1="83.60" x2="548.3" y2="83.60" stroke="#2a2a2a" stroke-width="1.1"/>
<text x="542.00" y="86.80" text-anchor="end" font-size="9" fill="#222">30</text>
<line x1="545.10" y1="71.15" x2="548.3" y2="71.15" stroke="#2a2a2a" stroke-width="1.1"/>
<text x="542.00" y="74.35" text-anchor="end" font-size="9" fill="#222">35</text>
<line x1="545.10" y1="58.70" x2="548.3" y2="58.70" stroke="#2a2a2a" stroke-width="1.1"/>
<text x="542.00" y="61.90" text-anchor="end" font-size="9" fill="#222">40</text>
<line x1="545.10" y1="46.25" x2="548.3" y2="46.25" stroke="#2a2a2a" stroke-width="1.1"/>
<text x="542.00" y="49.45" text-anchor="end" font-size="9" fill="#222">45</text>
<line x1="545.10" y1="33.80" x2="548.3" y2="33.80" stroke="#2a2a2a" stroke-width="1.1"/>
<text x="542.00" y="37.00" text-anchor="end" font-size="9" fill="#222">50</text>
<line x1="572.8" y1="158.3" x2="572.8" y2="161.50" stroke="#2a2a2a" stroke-width="1.1"/>
<text x="572.8" y="172.80" text-anchor="middle" font-size="8.8" fill="#222">Baseline</text>
<line x1="621.8" y1="158.3" x2="621.8" y2="161.50" stroke="#2a2a2a" stroke-width="1.1"/>
<text x="621.8" y="172.80" text-anchor="middle" font-size="8.8" fill="#222">Day 1</text>
<line x1="670.8" y1="158.3" x2="670.8" y2="161.50" stroke="#2a2a2a" stroke-width="1.1"/>
<text x="670.8" y="172.80" text-anchor="middle" font-size="8.8" fill="#222">Day 3</text>
<line x1="720.0" y1="158.3" x2="720.0" y2="161.50" stroke="#2a2a2a" stroke-width="1.1"/>
<text x="720.0" y="172.80" text-anchor="middle" font-size="8.8" fill="#222">Day 5</text>
<text transform="translate(520.5,95.8) rotate(-90)" text-anchor="middle" font-size="10.9" fill="#222" textLength="113.5" lengthAdjust="spacingAndGlyphs">Ethanol Preference (%)</text>
<text x="495.6" y="30.2" font-size="16" fill="#111">B</text>
<polyline points="572.80,76.13 621.80,71.90 670.80,83.35 720.00,94.56" fill="none" stroke="#1a1a1a" stroke-width="1.05"/>
<polyline points="572.80,76.13 621.80,121.45 670.80,118.21 720.00,108.00" fill="none" stroke="#1a1a1a" stroke-width="1.05"/>
<polyline points="572.80,94.81 621.80,100.53 670.80,101.78 720.00,100.03" fill="none" stroke="#1a1a1a" stroke-width="1.05"/>
<line x1="572.8" y1="61.19" x2="572.8" y2="84.60" stroke="#222" stroke-width="1"/>
<line x1="568.50" y1="61.19" x2="577.10" y2="61.19" stroke="#3a3a3a" stroke-width="1.35"/>
<line x1="568.50" y1="84.60" x2="577.10" y2="84.60" stroke="#3a3a3a" stroke-width="1.35"/>
<line x1="621.8" y1="58.70" x2="621.8" y2="84.84" stroke="#222" stroke-width="1"/>
<line x1="617.50" y1="58.70" x2="626.10" y2="58.70" stroke="#3a3a3a" stroke-width="1.35"/>
<line x1="617.50" y1="84.84" x2="626.10" y2="84.84" stroke="#3a3a3a" stroke-width="1.35"/>
<line x1="670.8" y1="73.39" x2="670.8" y2="92.56" stroke="#222" stroke-width="1"/>
<line x1="666.50" y1="73.39" x2="675.10" y2="73.39" stroke="#3a3a3a" stroke-width="1.35"/>
<line x1="666.50" y1="92.56" x2="675.10" y2="92.56" stroke="#3a3a3a" stroke-width="1.35"/>
<line x1="720.0" y1="86.09" x2="720.0" y2="100.03" stroke="#222" stroke-width="1"/>
<line x1="715.70" y1="86.09" x2="724.30" y2="86.09" stroke="#3a3a3a" stroke-width="1.35"/>
<line x1="715.70" y1="100.03" x2="724.30" y2="100.03" stroke="#3a3a3a" stroke-width="1.35"/>
<line x1="572.8" y1="68.91" x2="572.8" y2="84.60" stroke="#222" stroke-width="1"/>
<line x1="568.50" y1="68.91" x2="577.10" y2="68.91" stroke="#3a3a3a" stroke-width="1.35"/>
<line x1="568.50" y1="84.60" x2="577.10" y2="84.60" stroke="#3a3a3a" stroke-width="1.35"/>
<line x1="621.8" y1="114.73" x2="621.8" y2="128.67" stroke="#222" stroke-width="1"/>
<line x1="617.50" y1="114.73" x2="626.10" y2="114.73" stroke="#3a3a3a" stroke-width="1.35"/>
<line x1="617.50" y1="128.67" x2="626.10" y2="128.67" stroke="#3a3a3a" stroke-width="1.35"/>
<line x1="670.8" y1="111.74" x2="670.8" y2="123.94" stroke="#222" stroke-width="1"/>
<line x1="666.50" y1="111.74" x2="675.10" y2="111.74" stroke="#3a3a3a" stroke-width="1.35"/>
<line x1="666.50" y1="123.94" x2="675.10" y2="123.94" stroke="#3a3a3a" stroke-width="1.35"/>
<line x1="720.0" y1="102.28" x2="720.0" y2="118.71" stroke="#222" stroke-width="1"/>
<line x1="715.70" y1="102.28" x2="724.30" y2="102.28" stroke="#3a3a3a" stroke-width="1.35"/>
<line x1="715.70" y1="118.71" x2="724.30" y2="118.71" stroke="#3a3a3a" stroke-width="1.35"/>
<line x1="572.8" y1="91.32" x2="572.8" y2="105.26" stroke="#222" stroke-width="1"/>
<line x1="568.50" y1="91.32" x2="577.10" y2="91.32" stroke="#3a3a3a" stroke-width="1.35"/>
<line x1="568.50" y1="105.26" x2="577.10" y2="105.26" stroke="#3a3a3a" stroke-width="1.35"/>
<line x1="621.8" y1="96.30" x2="621.8" y2="106.51" stroke="#222" stroke-width="1"/>
<line x1="617.50" y1="96.30" x2="626.10" y2="96.30" stroke="#3a3a3a" stroke-width="1.35"/>
<line x1="617.50" y1="106.51" x2="626.10" y2="106.51" stroke="#3a3a3a" stroke-width="1.35"/>
<line x1="670.8" y1="92.56" x2="670.8" y2="110.24" stroke="#222" stroke-width="1"/>
<line x1="666.50" y1="92.56" x2="675.10" y2="92.56" stroke="#3a3a3a" stroke-width="1.35"/>
<line x1="666.50" y1="110.24" x2="675.10" y2="110.24" stroke="#3a3a3a" stroke-width="1.35"/>
<line x1="720.0" y1="97.30" x2="720.0" y2="102.77" stroke="#222" stroke-width="1"/>
<line x1="715.70" y1="97.30" x2="724.30" y2="97.30" stroke="#3a3a3a" stroke-width="1.35"/>
<line x1="715.70" y1="102.77" x2="724.30" y2="102.77" stroke="#3a3a3a" stroke-width="1.35"/>
<circle cx="572.8" cy="76.13" r="2.7" fill="#fff" stroke="#1a1a1a" stroke-width="1.1"/>
<circle cx="621.8" cy="71.90" r="2.7" fill="#fff" stroke="#1a1a1a" stroke-width="1.1"/>
<circle cx="670.8" cy="83.35" r="2.7" fill="#fff" stroke="#1a1a1a" stroke-width="1.1"/>
<circle cx="720.0" cy="94.56" r="2.7" fill="#fff" stroke="#1a1a1a" stroke-width="1.1"/>
<circle cx="572.8" cy="76.13" r="3.1" fill="#1a1a1a"/>
<circle cx="621.8" cy="121.45" r="3.1" fill="#1a1a1a"/>
<circle cx="670.8" cy="118.21" r="3.1" fill="#1a1a1a"/>
<circle cx="720.0" cy="108.00" r="3.1" fill="#1a1a1a"/>
<path d="M572.80,91.21 L576.30,97.21 L569.30,97.21Z" fill="#1a1a1a"/>
<path d="M621.80,96.93 L625.30,102.93 L618.30,102.93Z" fill="#1a1a1a"/>
<path d="M670.80,98.18 L674.30,104.18 L667.30,104.18Z" fill="#1a1a1a"/>
<path d="M720.00,96.43 L723.50,102.43 L716.50,102.43Z" fill="#1a1a1a"/>
<path d="M619.60,134.80L619.60,131.95M619.60,134.80L622.31,133.92M619.60,134.80L621.28,137.11M619.60,134.80L617.92,137.11M619.60,134.80L616.89,133.92" stroke="#222" stroke-width="1.25" stroke-linecap="round" fill="none"/>
<path d="M626.20,134.80L626.20,131.95M626.20,134.80L628.91,133.92M626.20,134.80L627.88,137.11M626.20,134.80L624.52,137.11M626.20,134.80L623.49,133.92" stroke="#222" stroke-width="1.25" stroke-linecap="round" fill="none"/>
<path d="M672.10,131.10L672.10,128.25M672.10,131.10L674.81,130.22M672.10,131.10L673.78,133.41M672.10,131.10L670.42,133.41M672.10,131.10L669.39,130.22" stroke="#222" stroke-width="1.25" stroke-linecap="round" fill="none"/>
<line x1="287.6" y1="194.10" x2="287.6" y2="320.90" stroke="#2a2a2a" stroke-width="1.3"/>
<line x1="284.80" y1="320.3" x2="483.8" y2="320.3" stroke="#2a2a2a" stroke-width="1.3"/>
<line x1="284.40" y1="320.30" x2="287.6" y2="320.30" stroke="#2a2a2a" stroke-width="1.1"/>
<text x="281.30" y="323.50" text-anchor="end" font-size="9" fill="#222">0</text>
<line x1="284.40" y1="295.18" x2="287.6" y2="295.18" stroke="#2a2a2a" stroke-width="1.1"/>
<text x="281.30" y="298.38" text-anchor="end" font-size="9" fill="#222">10</text>
<line x1="284.40" y1="270.06" x2="287.6" y2="270.06" stroke="#2a2a2a" stroke-width="1.1"/>
<text x="281.30" y="273.26" text-anchor="end" font-size="9" fill="#222">20</text>
<line x1="284.40" y1="244.94" x2="287.6" y2="244.94" stroke="#2a2a2a" stroke-width="1.1"/>
<text x="281.30" y="248.14" text-anchor="end" font-size="9" fill="#222">30</text>
<line x1="284.40" y1="219.82" x2="287.6" y2="219.82" stroke="#2a2a2a" stroke-width="1.1"/>
<text x="281.30" y="223.02" text-anchor="end" font-size="9" fill="#222">40</text>
<line x1="284.40" y1="194.70" x2="287.6" y2="194.70" stroke="#2a2a2a" stroke-width="1.1"/>
<text x="281.30" y="197.90" text-anchor="end" font-size="9" fill="#222">50</text>
<line x1="312.0" y1="320.3" x2="312.0" y2="323.50" stroke="#2a2a2a" stroke-width="1.1"/>
<text x="312.0" y="334.80" text-anchor="middle" font-size="8.8" fill="#222">Baseline</text>
<line x1="360.9" y1="320.3" x2="360.9" y2="323.50" stroke="#2a2a2a" stroke-width="1.1"/>
<text x="360.9" y="334.80" text-anchor="middle" font-size="8.8" fill="#222">Day 1</text>
<line x1="409.9" y1="320.3" x2="409.9" y2="323.50" stroke="#2a2a2a" stroke-width="1.1"/>
<text x="409.9" y="334.80" text-anchor="middle" font-size="8.8" fill="#222">Day 3</text>
<line x1="459.1" y1="320.3" x2="459.1" y2="323.50" stroke="#2a2a2a" stroke-width="1.1"/>
<text x="459.1" y="334.80" text-anchor="middle" font-size="8.8" fill="#222">Day 5</text>
<text transform="translate(258.8,256.5) rotate(-90)" text-anchor="middle" font-size="10.9" fill="#222" textLength="108.7" lengthAdjust="spacingAndGlyphs">Water Intake (ml/24 h)</text>
<text x="239.6" y="192.6" font-size="16" fill="#111">C</text>
<polyline points="312.00,254.23 360.90,254.74 409.90,234.39 459.10,228.11" fill="none" stroke="#1a1a1a" stroke-width="1.05"/>
<polyline points="312.00,233.38 360.90,233.38 409.90,240.92 459.10,240.92" fill="none" stroke="#1a1a1a" stroke-width="1.05"/>
<polyline points="312.00,254.23 360.90,251.72 409.90,246.45 459.10,233.89" fill="none" stroke="#1a1a1a" stroke-width="1.05"/>
<line x1="312.0" y1="246.20" x2="312.0" y2="262.27" stroke="#222" stroke-width="1"/>
<line x1="307.70" y1="246.20" x2="316.30" y2="246.20" stroke="#3a3a3a" stroke-width="1.35"/>
<line x1="307.70" y1="262.27" x2="316.30" y2="262.27" stroke="#3a3a3a" stroke-width="1.35"/>
<line x1="360.9" y1="247.45" x2="360.9" y2="263.03" stroke="#222" stroke-width="1"/>
<line x1="356.60" y1="247.45" x2="365.20" y2="247.45" stroke="#3a3a3a" stroke-width="1.35"/>
<line x1="356.60" y1="263.03" x2="365.20" y2="263.03" stroke="#3a3a3a" stroke-width="1.35"/>
<line x1="409.9" y1="227.86" x2="409.9" y2="240.92" stroke="#222" stroke-width="1"/>
<line x1="405.60" y1="227.86" x2="414.20" y2="227.86" stroke="#3a3a3a" stroke-width="1.35"/>
<line x1="405.60" y1="240.92" x2="414.20" y2="240.92" stroke="#3a3a3a" stroke-width="1.35"/>
<line x1="459.1" y1="222.08" x2="459.1" y2="234.14" stroke="#222" stroke-width="1"/>
<line x1="454.80" y1="222.08" x2="463.40" y2="222.08" stroke="#3a3a3a" stroke-width="1.35"/>
<line x1="454.80" y1="234.14" x2="463.40" y2="234.14" stroke="#3a3a3a" stroke-width="1.35"/>
<line x1="312.0" y1="224.59" x2="312.0" y2="242.43" stroke="#222" stroke-width="1"/>
<line x1="307.70" y1="224.59" x2="316.30" y2="224.59" stroke="#3a3a3a" stroke-width="1.35"/>
<line x1="307.70" y1="242.43" x2="316.30" y2="242.43" stroke="#3a3a3a" stroke-width="1.35"/>
<line x1="360.9" y1="224.59" x2="360.9" y2="241.93" stroke="#222" stroke-width="1"/>
<line x1="356.60" y1="224.59" x2="365.20" y2="224.59" stroke="#3a3a3a" stroke-width="1.35"/>
<line x1="356.60" y1="241.93" x2="365.20" y2="241.93" stroke="#3a3a3a" stroke-width="1.35"/>
<line x1="409.9" y1="235.90" x2="409.9" y2="245.94" stroke="#222" stroke-width="1"/>
<line x1="405.60" y1="235.90" x2="414.20" y2="235.90" stroke="#3a3a3a" stroke-width="1.35"/>
<line x1="405.60" y1="245.94" x2="414.20" y2="245.94" stroke="#3a3a3a" stroke-width="1.35"/>
<line x1="459.1" y1="235.39" x2="459.1" y2="246.45" stroke="#222" stroke-width="1"/>
<line x1="454.80" y1="235.39" x2="463.40" y2="235.39" stroke="#3a3a3a" stroke-width="1.35"/>
<line x1="454.80" y1="246.45" x2="463.40" y2="246.45" stroke="#3a3a3a" stroke-width="1.35"/>
<line x1="312.0" y1="248.21" x2="312.0" y2="260.01" stroke="#222" stroke-width="1"/>
<line x1="307.70" y1="248.21" x2="316.30" y2="248.21" stroke="#3a3a3a" stroke-width="1.35"/>
<line x1="307.70" y1="260.01" x2="316.30" y2="260.01" stroke="#3a3a3a" stroke-width="1.35"/>
<line x1="360.9" y1="247.45" x2="360.9" y2="256.24" stroke="#222" stroke-width="1"/>
<line x1="356.60" y1="247.45" x2="365.20" y2="247.45" stroke="#3a3a3a" stroke-width="1.35"/>
<line x1="356.60" y1="256.24" x2="365.20" y2="256.24" stroke="#3a3a3a" stroke-width="1.35"/>
<line x1="409.9" y1="241.42" x2="409.9" y2="252.98" stroke="#222" stroke-width="1"/>
<line x1="405.60" y1="241.42" x2="414.20" y2="241.42" stroke="#3a3a3a" stroke-width="1.35"/>
<line x1="405.60" y1="252.98" x2="414.20" y2="252.98" stroke="#3a3a3a" stroke-width="1.35"/>
<line x1="459.1" y1="229.87" x2="459.1" y2="238.66" stroke="#222" stroke-width="1"/>
<line x1="454.80" y1="229.87" x2="463.40" y2="229.87" stroke="#3a3a3a" stroke-width="1.35"/>
<line x1="454.80" y1="238.66" x2="463.40" y2="238.66" stroke="#3a3a3a" stroke-width="1.35"/>
<circle cx="312.0" cy="254.23" r="2.7" fill="#fff" stroke="#1a1a1a" stroke-width="1.1"/>
<circle cx="360.9" cy="254.74" r="2.7" fill="#fff" stroke="#1a1a1a" stroke-width="1.1"/>
<circle cx="409.9" cy="234.39" r="2.7" fill="#fff" stroke="#1a1a1a" stroke-width="1.1"/>
<circle cx="459.1" cy="228.11" r="2.7" fill="#fff" stroke="#1a1a1a" stroke-width="1.1"/>
<circle cx="312.0" cy="233.38" r="3.1" fill="#1a1a1a"/>
<circle cx="360.9" cy="233.38" r="3.1" fill="#1a1a1a"/>
<circle cx="409.9" cy="240.92" r="3.1" fill="#1a1a1a"/>
<circle cx="459.1" cy="240.92" r="3.1" fill="#1a1a1a"/>
<path d="M312.00,250.63 L315.50,256.63 L308.50,256.63Z" fill="#1a1a1a"/>
<path d="M360.90,248.12 L364.40,254.12 L357.40,254.12Z" fill="#1a1a1a"/>
<path d="M409.90,242.85 L413.40,248.85 L406.40,248.85Z" fill="#1a1a1a"/>
<path d="M459.10,230.29 L462.60,236.29 L455.60,236.29Z" fill="#1a1a1a"/>
<line x1="552.8" y1="195.52" x2="552.8" y2="321.70" stroke="#2a2a2a" stroke-width="1.3"/>
<line x1="550.00" y1="321.1" x2="748.6" y2="321.1" stroke="#2a2a2a" stroke-width="1.3"/>
<line x1="549.60" y1="321.10" x2="552.8" y2="321.10" stroke="#2a2a2a" stroke-width="1.1"/>
<text x="546.50" y="324.30" text-anchor="end" font-size="9" fill="#222">0</text>
<line x1="549.60" y1="300.27" x2="552.8" y2="300.27" stroke="#2a2a2a" stroke-width="1.1"/>
<text x="546.50" y="303.47" text-anchor="end" font-size="9" fill="#222">10</text>
<line x1="549.60" y1="279.44" x2="552.8" y2="279.44" stroke="#2a2a2a" stroke-width="1.1"/>
<text x="546.50" y="282.64" text-anchor="end" font-size="9" fill="#222">20</text>
<line x1="549.60" y1="258.61" x2="552.8" y2="258.61" stroke="#2a2a2a" stroke-width="1.1"/>
<text x="546.50" y="261.81" text-anchor="end" font-size="9" fill="#222">30</text>
<line x1="549.60" y1="237.78" x2="552.8" y2="237.78" stroke="#2a2a2a" stroke-width="1.1"/>
<text x="546.50" y="240.98" text-anchor="end" font-size="9" fill="#222">40</text>
<line x1="549.60" y1="216.95" x2="552.8" y2="216.95" stroke="#2a2a2a" stroke-width="1.1"/>
<text x="546.50" y="220.15" text-anchor="end" font-size="9" fill="#222">50</text>
<line x1="549.60" y1="196.12" x2="552.8" y2="196.12" stroke="#2a2a2a" stroke-width="1.1"/>
<text x="546.50" y="199.32" text-anchor="end" font-size="9" fill="#222">60</text>
<line x1="577.3" y1="321.1" x2="577.3" y2="324.30" stroke="#2a2a2a" stroke-width="1.1"/>
<text x="577.3" y="335.60" text-anchor="middle" font-size="8.8" fill="#222">Baseline</text>
<line x1="626.3" y1="321.1" x2="626.3" y2="324.30" stroke="#2a2a2a" stroke-width="1.1"/>
<text x="626.3" y="335.60" text-anchor="middle" font-size="8.8" fill="#222">Day 1</text>
<line x1="675.3" y1="321.1" x2="675.3" y2="324.30" stroke="#2a2a2a" stroke-width="1.1"/>
<text x="675.3" y="335.60" text-anchor="middle" font-size="8.8" fill="#222">Day 3</text>
<line x1="724.3" y1="321.1" x2="724.3" y2="324.30" stroke="#2a2a2a" stroke-width="1.1"/>
<text x="724.3" y="335.60" text-anchor="middle" font-size="8.8" fill="#222">Day 5</text>
<text transform="translate(524.6,258.9) rotate(-90)" text-anchor="middle" font-size="10.9" fill="#222" textLength="130.5" lengthAdjust="spacingAndGlyphs">Total Fluid Intake (ml/24 h)</text>
<text x="494.9" y="194.0" font-size="16" fill="#111">D</text>
<polyline points="577.30,241.53 626.30,240.49 675.30,220.49 724.30,218.62" fill="none" stroke="#1a1a1a" stroke-width="1.05"/>
<polyline points="577.30,241.53 626.30,255.90 675.30,248.40 724.30,231.95" fill="none" stroke="#1a1a1a" stroke-width="1.05"/>
<polyline points="577.30,222.78 626.30,227.99 675.30,236.95 724.30,236.95" fill="none" stroke="#1a1a1a" stroke-width="1.05"/>
<line x1="577.3" y1="236.95" x2="577.3" y2="247.15" stroke="#222" stroke-width="1"/>
<line x1="573.00" y1="236.95" x2="581.60" y2="236.95" stroke="#3a3a3a" stroke-width="1.35"/>
<line x1="573.00" y1="247.15" x2="581.60" y2="247.15" stroke="#3a3a3a" stroke-width="1.35"/>
<line x1="626.3" y1="233.82" x2="626.3" y2="246.95" stroke="#222" stroke-width="1"/>
<line x1="622.00" y1="233.82" x2="630.60" y2="233.82" stroke="#3a3a3a" stroke-width="1.35"/>
<line x1="622.00" y1="246.95" x2="630.60" y2="246.95" stroke="#3a3a3a" stroke-width="1.35"/>
<line x1="675.3" y1="207.99" x2="675.3" y2="231.53" stroke="#222" stroke-width="1"/>
<line x1="671.00" y1="207.99" x2="679.60" y2="207.99" stroke="#3a3a3a" stroke-width="1.35"/>
<line x1="671.00" y1="231.53" x2="679.60" y2="231.53" stroke="#3a3a3a" stroke-width="1.35"/>
<line x1="724.3" y1="214.24" x2="724.3" y2="223.20" stroke="#222" stroke-width="1"/>
<line x1="720.00" y1="214.24" x2="728.60" y2="214.24" stroke="#3a3a3a" stroke-width="1.35"/>
<line x1="720.00" y1="223.20" x2="728.60" y2="223.20" stroke="#3a3a3a" stroke-width="1.35"/>
<line x1="577.3" y1="236.95" x2="577.3" y2="247.15" stroke="#222" stroke-width="1"/>
<line x1="573.00" y1="236.95" x2="581.60" y2="236.95" stroke="#3a3a3a" stroke-width="1.35"/>
<line x1="573.00" y1="247.15" x2="581.60" y2="247.15" stroke="#3a3a3a" stroke-width="1.35"/>
<line x1="626.3" y1="253.82" x2="626.3" y2="257.99" stroke="#222" stroke-width="1"/>
<line x1="622.00" y1="253.82" x2="630.60" y2="253.82" stroke="#3a3a3a" stroke-width="1.35"/>
<line x1="622.00" y1="257.99" x2="630.60" y2="257.99" stroke="#3a3a3a" stroke-width="1.35"/>
<line x1="675.3" y1="244.03" x2="675.3" y2="253.82" stroke="#222" stroke-width="1"/>
<line x1="671.00" y1="244.03" x2="679.60" y2="244.03" stroke="#3a3a3a" stroke-width="1.35"/>
<line x1="671.00" y1="253.82" x2="679.60" y2="253.82" stroke="#3a3a3a" stroke-width="1.35"/>
<line x1="724.3" y1="227.37" x2="724.3" y2="236.74" stroke="#222" stroke-width="1"/>
<line x1="720.00" y1="227.37" x2="728.60" y2="227.37" stroke="#3a3a3a" stroke-width="1.35"/>
<line x1="720.00" y1="236.74" x2="728.60" y2="236.74" stroke="#3a3a3a" stroke-width="1.35"/>
<line x1="577.3" y1="216.95" x2="577.3" y2="230.07" stroke="#222" stroke-width="1"/>
<line x1="573.00" y1="216.95" x2="581.60" y2="216.95" stroke="#3a3a3a" stroke-width="1.35"/>
<line x1="573.00" y1="230.07" x2="581.60" y2="230.07" stroke="#3a3a3a" stroke-width="1.35"/>
<line x1="626.3" y1="220.70" x2="626.3" y2="236.11" stroke="#222" stroke-width="1"/>
<line x1="622.00" y1="220.70" x2="630.60" y2="220.70" stroke="#3a3a3a" stroke-width="1.35"/>
<line x1="622.00" y1="236.11" x2="630.60" y2="236.11" stroke="#3a3a3a" stroke-width="1.35"/>
<line x1="675.3" y1="232.36" x2="675.3" y2="242.78" stroke="#222" stroke-width="1"/>
<line x1="671.00" y1="232.36" x2="679.60" y2="232.36" stroke="#3a3a3a" stroke-width="1.35"/>
<line x1="671.00" y1="242.78" x2="679.60" y2="242.78" stroke="#3a3a3a" stroke-width="1.35"/>
<line x1="724.3" y1="232.57" x2="724.3" y2="240.90" stroke="#222" stroke-width="1"/>
<line x1="720.00" y1="232.57" x2="728.60" y2="232.57" stroke="#3a3a3a" stroke-width="1.35"/>
<line x1="720.00" y1="240.90" x2="728.60" y2="240.90" stroke="#3a3a3a" stroke-width="1.35"/>
<circle cx="577.3" cy="241.53" r="2.7" fill="#fff" stroke="#1a1a1a" stroke-width="1.1"/>
<circle cx="626.3" cy="240.49" r="2.7" fill="#fff" stroke="#1a1a1a" stroke-width="1.1"/>
<circle cx="675.3" cy="220.49" r="2.7" fill="#fff" stroke="#1a1a1a" stroke-width="1.1"/>
<circle cx="724.3" cy="218.62" r="2.7" fill="#fff" stroke="#1a1a1a" stroke-width="1.1"/>
<circle cx="577.3" cy="241.53" r="3.1" fill="#1a1a1a"/>
<circle cx="626.3" cy="255.90" r="3.1" fill="#1a1a1a"/>
<circle cx="675.3" cy="248.40" r="3.1" fill="#1a1a1a"/>
<circle cx="724.3" cy="231.95" r="3.1" fill="#1a1a1a"/>
<path d="M577.30,219.18 L580.80,225.18 L573.80,225.18Z" fill="#1a1a1a"/>
<path d="M626.30,224.39 L629.80,230.39 L622.80,230.39Z" fill="#1a1a1a"/>
<path d="M675.30,233.35 L678.80,239.35 L671.80,239.35Z" fill="#1a1a1a"/>
<path d="M724.30,233.35 L727.80,239.35 L720.80,239.35Z" fill="#1a1a1a"/>
<path d="M626.40,263.50L626.40,260.65M626.40,263.50L629.11,262.62M626.40,263.50L628.08,265.81M626.40,263.50L624.72,265.81M626.40,263.50L623.69,262.62" stroke="#222" stroke-width="1.25" stroke-linecap="round" fill="none"/>
<path d="M672.70,259.70L672.70,256.85M672.70,259.70L675.41,258.82M672.70,259.70L674.38,262.01M672.70,259.70L671.02,262.01M672.70,259.70L669.99,258.82" stroke="#222" stroke-width="1.25" stroke-linecap="round" fill="none"/>
<path d="M679.30,259.70L679.30,256.85M679.30,259.70L682.01,258.82M679.30,259.70L680.98,262.01M679.30,259.70L677.62,262.01M679.30,259.70L676.59,258.82" stroke="#222" stroke-width="1.25" stroke-linecap="round" fill="none"/>
<line x1="381.2" y1="5.7" x2="406.3" y2="5.7" stroke="#1a1a1a" stroke-width="1.05"/>
<circle cx="394" cy="5.7" r="2.7" fill="#fff" stroke="#1a1a1a" stroke-width="1.1"/>
<text x="412.3" y="9.10" font-size="9.2" fill="#222">Sham</text>
<line x1="381.2" y1="17.5" x2="406.3" y2="17.5" stroke="#1a1a1a" stroke-width="1.05"/>
<circle cx="394" cy="17.5" r="3.1" fill="#1a1a1a"/>
<text x="412.3" y="20.90" font-size="9.2" fill="#222">HFS</text>
<line x1="381.2" y1="28.4" x2="406.3" y2="28.4" stroke="#1a1a1a" stroke-width="1.05"/>
<path d="M394,24.80 L397.5,30.80 L390.5,30.80Z" fill="#1a1a1a"/>
<text x="412.3" y="31.80" font-size="9.2" fill="#222">LFS</text>
</svg>
</body></html>
